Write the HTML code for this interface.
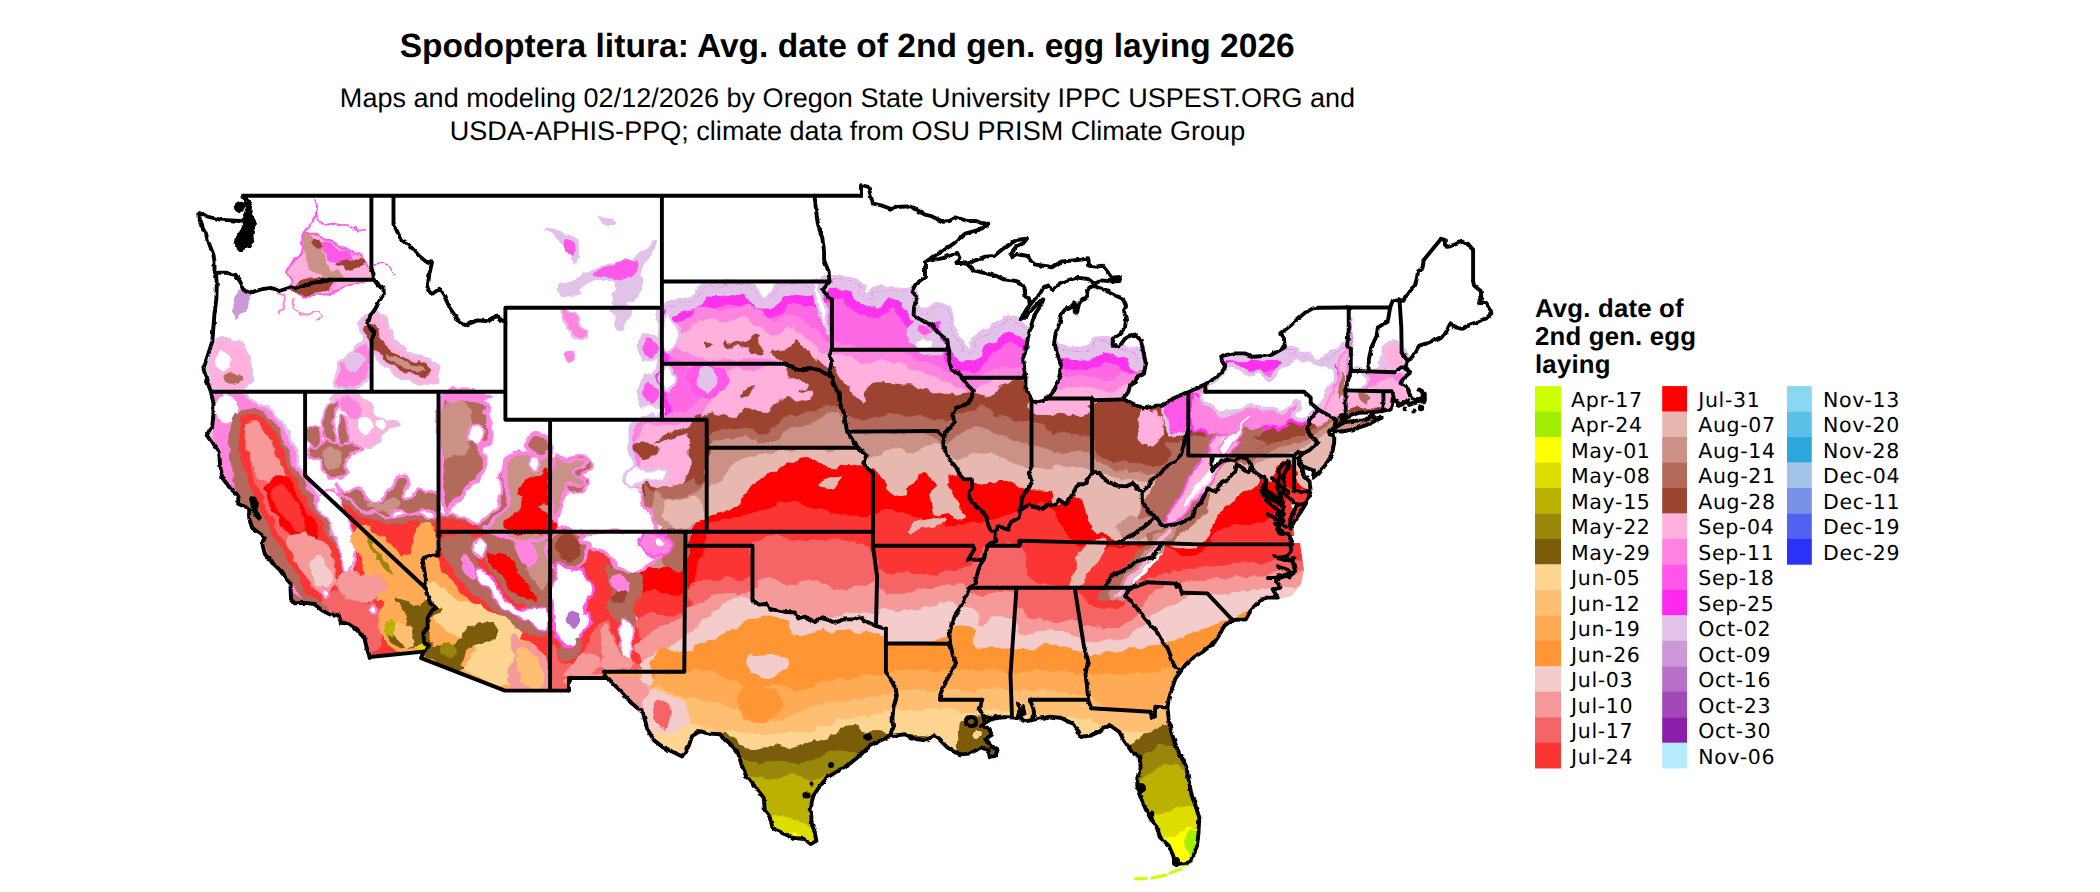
<!DOCTYPE html>
<html lang="en"><head><meta charset="utf-8"><title>Spodoptera litura: Avg. date of 2nd gen. egg laying 2026</title>
<style>
html,body{margin:0;padding:0;background:#fff;}
body{width:2100px;height:892px;overflow:hidden;position:relative;font-family:"Liberation Sans",sans-serif;}
svg{position:absolute;left:0;top:0;display:block;}
text{text-rendering:geometricPrecision;}
.title{letter-spacing:0.04px;font:bold 33.5px "Liberation Sans",sans-serif;fill:#000;text-anchor:middle;}
.sub{letter-spacing:0.03px;font:27px "Liberation Sans",sans-serif;fill:#000;text-anchor:middle;}
.lt{font:bold 25.75px "Liberation Sans",sans-serif;fill:#000;letter-spacing:0.2px;}
.lab{font:20.5px "DejaVu Sans","Liberation Sans",sans-serif;fill:#000;letter-spacing:0.68px;}
</style></head><body>
<svg width="2100" height="892" viewBox="0 0 2100 892">
<rect width="2100" height="892" fill="#fff"/>
<text class="title" x="847.2" y="56.8">Spodoptera litura: Avg. date of 2nd gen. egg laying 2026</text>
<text class="sub" x="847.5" y="107.4">Maps and modeling 02/12/2026 by Oregon State University IPPC USPEST.ORG and</text>
<text class="sub" x="847.5" y="139.6">USDA-APHIS-PPQ; climate data from OSU PRISM Climate Group</text>
<defs><clipPath id="us"><path d="M243.4 195.8 L861.0 195.8 L861.0 185.2 L868.4 186.6 L871.5 199.2 L873.3 203.6 L881.2 205.3 L891.2 209.0 L900.2 206.7 L910.2 206.4 L918.1 211.2 L924.8 214.6 L931.5 216.2 L943.1 221.8 L949.4 221.0 L956.1 217.4 L967.3 221.0 L976.2 221.0 L981.8 223.2 L988.3 223.8 L978.5 230.0 L965.1 233.6 L953.9 243.4 L942.7 251.2 L931.5 257.4 L929.3 259.6 L932.6 260.2 L942.7 258.2 L949.4 255.4 L957.2 252.9 L959.5 258.0 L956.1 263.0 L961.7 263.0 L966.8 263.8 L974.0 260.8 L985.2 256.6 L994.1 256.0 L1000.8 250.4 L1009.8 244.0 L1016.5 240.0 L1026.6 238.6 L1023.2 243.4 L1016.5 246.2 L1012.0 251.8 L1010.9 257.4 L1016.5 254.0 L1027.7 256.0 L1034.4 264.4 L1043.3 265.8 L1052.3 267.2 L1061.2 261.6 L1070.2 260.8 L1081.4 259.6 L1088.1 258.2 L1089.2 265.8 L1097.0 266.6 L1102.6 265.8 L1107.1 271.4 L1111.6 277.8 L1120.5 277.0 L1119.4 281.2 L1110.5 281.2 L1101.5 280.4 L1094.4 283.7 L1088.1 279.0 L1076.9 277.6 L1065.7 281.2 L1057.9 285.4 L1052.3 290.2 L1048.9 285.4 L1043.3 287.6 L1040.0 293.8 L1034.4 299.4 L1029.9 305.0 L1026.6 309.2 L1021.0 319.0 L1023.2 318.4 L1031.0 310.6 L1038.9 302.2 L1043.3 299.4 L1041.1 305.0 L1035.5 313.4 L1031.0 326.0 L1027.7 338.6 L1026.6 347.0 L1023.2 358.2 L1024.3 369.4 L1025.5 378.1 L1025.5 386.2 L1029.5 396.0 L1031.7 400.2 L1036.6 402.4 L1043.3 400.8 L1047.4 398.5 L1052.3 393.2 L1056.8 384.8 L1060.1 373.6 L1060.8 363.8 L1056.8 352.6 L1054.1 342.8 L1055.7 333.0 L1060.1 321.8 L1061.2 314.8 L1064.6 310.0 L1071.3 306.4 L1074.7 302.8 L1074.7 312.0 L1076.9 313.4 L1079.1 303.6 L1082.5 298.8 L1088.1 297.4 L1087.0 290.4 L1090.3 286.8 L1094.1 286.0 L1103.7 289.6 L1112.7 294.4 L1122.8 298.6 L1126.1 306.4 L1123.9 310.6 L1126.1 319.0 L1125.0 327.4 L1119.4 334.4 L1112.7 338.6 L1112.7 345.6 L1119.4 346.4 L1125.0 338.6 L1133.9 333.8 L1140.7 340.0 L1143.6 352.6 L1145.8 363.8 L1144.0 373.6 L1137.3 376.4 L1135.1 382.0 L1130.1 384.8 L1128.4 391.8 L1122.8 399.4 L1130.6 402.4 L1137.3 405.8 L1144.0 408.6 L1155.2 405.8 L1161.9 405.8 L1170.9 399.6 L1179.8 395.4 L1188.3 392.4 L1197.7 387.6 L1205.3 384.2 L1215.6 377.8 L1222.3 371.6 L1225.2 366.6 L1221.9 361.0 L1221.2 356.2 L1233.5 353.4 L1244.7 353.4 L1253.6 356.8 L1262.6 356.0 L1271.5 354.8 L1280.5 349.8 L1284.9 347.0 L1283.8 337.2 L1280.5 333.0 L1289.4 326.6 L1296.1 320.4 L1305.1 312.6 L1312.9 308.4 L1318.1 307.8 L1348.7 307.5 L1390.1 307.5 L1392.3 301.6 L1397.9 300.0 L1403.5 300.8 L1405.3 296.6 L1407.5 295.2 L1411.3 289.0 L1414.7 286.0 L1416.9 278.4 L1418.0 271.4 L1422.5 268.0 L1423.6 260.2 L1440.9 238.9 L1444.9 240.0 L1444.9 244.8 L1448.2 246.8 L1457.2 243.7 L1461.7 241.7 L1468.4 244.2 L1473.1 249.8 L1473.1 281.2 L1474.0 285.4 L1480.7 291.0 L1481.4 297.4 L1480.0 303.0 L1486.3 303.0 L1490.7 310.6 L1491.4 313.4 L1486.3 318.4 L1477.3 321.8 L1468.4 325.2 L1461.7 328.8 L1456.1 327.4 L1450.5 323.2 L1447.1 330.2 L1443.8 335.8 L1434.8 340.0 L1428.1 342.8 L1419.2 345.6 L1415.8 351.2 L1411.3 358.2 L1408.0 361.6 L1405.3 367.4 L1409.8 373.0 L1404.6 377.2 L1400.6 382.6 L1406.9 386.2 L1409.1 393.2 L1412.0 398.0 L1418.0 399.4 L1423.6 397.4 L1422.1 391.0 L1419.2 389.6 L1424.8 394.6 L1424.8 401.0 L1416.9 402.4 L1409.1 405.0 L1407.5 400.2 L1402.4 404.4 L1398.6 405.8 L1396.8 401.6 L1392.8 398.8 L1391.9 405.8 L1390.1 409.4 L1382.0 411.1 L1372.2 412.2 L1358.8 412.8 L1349.8 416.4 L1342.0 419.8 L1338.6 424.6 L1335.3 426.0 L1333.7 428.2 L1329.7 430.4 L1328.6 434.4 L1334.2 435.2 L1334.2 442.2 L1331.9 454.8 L1325.2 465.2 L1318.5 473.0 L1312.9 477.8 L1314.0 470.8 L1305.1 467.4 L1299.5 461.8 L1299.5 457.6 L1302.8 453.4 L1298.4 458.4 L1299.5 464.6 L1302.8 470.2 L1304.0 475.8 L1309.6 481.4 L1310.7 491.2 L1308.4 498.2 L1306.2 503.0 L1300.6 512.2 L1293.9 522.0 L1290.5 528.4 L1289.4 522.0 L1292.8 513.6 L1297.2 505.2 L1292.8 501.0 L1288.3 496.8 L1282.7 492.6 L1284.9 484.2 L1282.7 477.2 L1286.1 470.2 L1289.4 461.8 L1287.2 460.4 L1281.6 466.0 L1278.2 470.2 L1279.4 477.2 L1277.1 484.2 L1279.4 494.0 L1282.3 502.4 L1276.0 498.2 L1268.2 496.0 L1261.5 492.6 L1265.9 487.0 L1266.4 480.0 L1264.8 485.6 L1260.3 491.2 L1263.7 495.4 L1269.3 498.2 L1277.1 502.4 L1284.0 506.9 L1281.6 513.6 L1282.7 516.4 L1277.1 513.6 L1282.7 520.6 L1280.5 524.8 L1274.9 523.4 L1280.5 529.0 L1282.7 531.8 L1277.1 529.0 L1279.4 533.8 L1283.8 533.8 L1289.4 533.8 L1290.5 540.2 L1292.3 544.4 L1290.5 551.4 L1287.2 555.6 L1278.2 558.4 L1287.2 559.8 L1292.8 561.2 L1295.0 571.0 L1289.4 576.6 L1278.2 575.2 L1276.0 582.2 L1280.5 587.8 L1272.6 589.2 L1277.6 597.6 L1264.8 597.6 L1255.9 604.6 L1249.2 613.0 L1245.8 619.4 L1232.4 620.0 L1224.5 625.6 L1219.0 635.4 L1214.5 642.4 L1202.2 652.2 L1191.0 659.2 L1185.4 664.8 L1180.9 671.0 L1175.3 678.8 L1172.0 688.6 L1168.6 699.8 L1167.5 707.6 L1168.6 718.0 L1170.9 730.6 L1175.3 744.6 L1179.8 754.4 L1186.5 767.0 L1187.6 774.0 L1191.0 792.2 L1195.5 806.2 L1199.3 817.4 L1198.4 834.2 L1197.0 845.4 L1193.2 856.6 L1189.9 862.2 L1180.9 863.6 L1175.3 864.2 L1173.1 855.2 L1168.6 845.4 L1159.7 837.0 L1156.3 825.8 L1150.7 818.8 L1146.3 810.4 L1141.8 800.6 L1139.1 793.6 L1144.0 788.0 L1137.3 786.6 L1137.3 778.2 L1140.7 767.0 L1139.5 757.2 L1131.7 751.6 L1123.9 740.4 L1119.4 732.0 L1110.5 725.6 L1102.6 727.8 L1101.5 730.6 L1090.3 735.6 L1080.3 737.0 L1079.1 732.0 L1072.4 723.6 L1061.2 718.0 L1050.1 716.6 L1038.9 718.6 L1031.7 720.0 L1025.5 721.4 L1021.0 719.4 L1023.2 711.0 L1019.9 708.8 L1017.6 718.0 L1012.0 717.4 L1003.1 717.2 L991.9 718.8 L985.2 722.8 L980.7 726.4 L988.5 727.8 L991.9 734.8 L985.2 739.0 L990.8 746.0 L997.5 750.2 L995.3 755.8 L989.7 757.2 L988.5 750.2 L980.7 747.4 L975.1 750.8 L969.5 753.6 L960.6 754.4 L953.9 751.6 L947.2 747.4 L940.4 740.4 L933.7 734.8 L927.0 740.4 L915.8 739.0 L904.7 734.2 L890.1 736.2 L877.8 741.8 L870.0 746.0 L861.0 754.4 L851.0 762.8 L837.5 771.2 L826.4 778.2 L818.5 788.0 L812.9 796.4 L810.7 809.0 L811.8 823.0 L815.2 834.2 L816.3 840.9 L810.7 844.0 L804.0 839.0 L792.8 837.8 L781.6 832.8 L772.7 828.0 L769.3 816.0 L764.8 810.4 L763.7 797.8 L758.1 790.8 L750.3 779.6 L745.8 775.4 L741.4 764.2 L738.0 753.0 L732.4 746.0 L723.5 739.0 L720.1 734.2 L707.8 733.4 L700.0 731.2 L692.1 736.2 L688.8 746.0 L682.1 756.4 L672.0 751.6 L663.1 747.4 L654.1 740.4 L647.4 729.2 L642.9 712.4 L631.7 703.2 L619.4 690.0 L609.4 679.6 L606.5 678.0 L568.9 678.0 L568.9 690.6 L504.9 690.6 L421.2 658.1 L423.3 651.6 L369.6 657.0 L366.7 648.0 L364.4 638.2 L356.6 629.8 L347.6 623.6 L340.9 622.8 L338.7 615.0 L329.7 614.4 L321.9 610.2 L314.1 604.0 L305.1 602.9 L294.6 603.2 L291.0 599.0 L290.6 589.2 L290.6 583.6 L285.7 578.0 L279.4 569.6 L272.7 563.2 L264.9 554.2 L262.0 543.0 L264.9 537.4 L259.3 533.2 L251.9 527.6 L249.2 517.8 L249.2 510.0 L244.7 506.6 L238.0 503.8 L238.5 495.4 L230.2 488.4 L222.4 478.0 L220.1 464.6 L219.0 452.0 L213.4 445.0 L206.7 435.2 L212.3 425.4 L213.4 414.2 L213.4 403.0 L211.0 391.8 L206.7 380.6 L203.4 368.3 L207.8 355.4 L212.3 341.4 L213.4 327.4 L214.5 313.4 L216.3 299.4 L216.8 285.4 L216.1 274.2 L214.5 271.4 L214.5 261.6 L213.4 254.6 L210.1 246.2 L205.6 233.6 L200.0 222.4 L199.3 213.2 L208.9 216.8 L220.1 219.6 L231.3 220.4 L240.3 221.0 L243.6 219.6 L245.9 226.6 L239.1 235.0 L235.8 242.0 L240.3 249.0 L248.1 246.2 L251.5 237.8 L251.5 230.8 L254.8 223.8 L251.5 216.8 L247.0 211.2 L249.2 202.8 L243.4 195.8Z"/><path d="M1333.5 431.0 L1340.9 431.6 L1352.1 429.6 L1365.5 425.4 L1374.4 421.2 L1381.6 417.8 L1374.4 418.4 L1372.2 415.6 L1365.5 420.4 L1356.5 420.6 L1345.3 422.0 L1339.8 424.8 L1335.3 427.6Z"/><path d="M1290.0 456.0 L1301.0 460.0 L1298.0 480.0 L1291.0 500.0 L1293.0 520.0 L1294.0 536.0 L1284.0 536.0 L1279.0 520.0 L1268.0 500.0 L1268.0 480.0 L1279.0 463.0Z"/><path d="M1272.0 543.0 L1300.0 543.0 L1304.0 570.0 L1301.0 584.0 L1292.0 596.0 L1276.0 600.0 L1263.0 580.0 L1270.0 560.0Z"/><path d="M1296.0 436.0 L1312.0 440.0 L1318.0 456.0 L1308.0 462.0 L1300.0 452.0Z"/></clipPath>
<filter id="rag" filterUnits="userSpaceOnUse" x="180" y="170" width="1340" height="722" color-interpolation-filters="sRGB"><feTurbulence type="fractalNoise" baseFrequency="0.07" numOctaves="3" seed="7" result="n"/><feDisplacementMap in="SourceGraphic" in2="n" scale="9" xChannelSelector="R" yChannelSelector="G"/></filter><filter id="wig" filterUnits="userSpaceOnUse" x="180" y="170" width="1340" height="722"><feTurbulence type="fractalNoise" baseFrequency="0.16" numOctaves="2" seed="11" result="n"/><feDisplacementMap in="SourceGraphic" in2="n" scale="3.2" xChannelSelector="R" yChannelSelector="G"/></filter></defs>
<g clip-path="url(#us)"><g filter="url(#rag)"><defs><clipPath id="cl1"><path d="M641.0 620.0 C641.0 601.7 643.3 585.7 641.0 565.0 C638.7 544.3 636.7 581.3 634.0 558.0 C631.3 534.7 632.3 524.3 633.0 495.0 C633.7 465.7 636.0 488.3 636.0 470.0 C636.0 451.7 632.7 455.3 633.0 440.0 C633.3 424.7 631.3 430.7 637.0 424.0 C642.7 417.3 642.0 422.3 650.0 420.0 C658.0 417.7 657.3 425.3 661.0 417.0 C664.7 408.7 662.7 407.3 661.0 395.0 C659.3 382.7 656.0 390.0 656.0 380.0 C656.0 370.0 659.3 376.7 661.0 365.0 C662.7 353.3 660.3 358.3 661.0 345.0 C661.7 331.7 662.3 337.3 663.0 325.0 C663.7 312.7 656.8 315.2 663.0 308.0 C669.2 300.8 671.0 306.6 681.7 303.3 C692.3 300.1 687.8 303.3 695.0 298.3 C702.2 293.3 695.0 292.2 703.3 288.3 C711.7 284.4 710.0 287.8 720.0 286.7 C730.0 285.6 723.3 285.0 733.3 285.0 C743.3 285.0 742.2 283.3 750.0 286.7 C757.8 290.0 751.1 290.6 756.7 295.0 C762.2 299.4 761.1 300.6 766.7 300.0 C772.2 299.4 768.3 297.8 773.3 293.3 C778.3 288.9 772.8 289.4 781.7 286.7 C790.6 283.9 788.3 285.0 800.0 285.0 C811.7 285.0 807.2 288.3 816.7 286.7 C826.1 285.0 815.0 281.1 828.3 280.0 C841.7 278.9 845.6 278.9 856.7 283.3 C867.8 287.8 856.1 288.3 861.7 293.3 C867.2 298.3 868.3 298.9 873.3 298.3 C878.3 297.8 865.6 293.9 876.7 291.7 C887.8 289.4 894.4 290.6 906.7 291.7 C918.9 292.8 911.1 290.6 913.3 295.0 C915.6 299.4 910.0 298.9 913.3 305.0 C916.7 311.1 917.2 311.1 923.3 313.3 C929.4 315.6 924.4 313.3 931.7 311.7 C938.9 310.0 939.4 306.1 945.0 308.3 C950.6 310.6 946.3 311.8 948.3 318.3 C950.3 324.9 947.5 319.8 951.0 328.0 C954.5 336.2 952.9 334.6 958.7 342.8 C964.5 351.0 961.9 354.3 968.5 352.7 C975.1 351.1 970.2 345.4 978.4 338.0 C986.6 330.6 983.1 336.3 993.0 330.5 C1002.9 324.7 999.0 322.4 1008.0 320.6 C1017.0 318.8 1004.3 316.9 1020.0 325.0 C1035.7 333.1 1033.3 336.7 1055.0 345.0 C1076.7 353.3 1071.0 351.3 1085.0 350.0 C1099.0 348.7 1087.0 342.7 1097.0 341.0 C1107.0 339.3 1102.3 341.3 1115.0 345.0 C1127.7 348.7 1126.3 347.0 1135.0 352.0 C1143.7 357.0 1132.7 361.3 1141.0 360.0 C1149.3 358.7 1133.0 350.7 1160.0 348.0 C1187.0 345.3 1181.0 351.0 1222.0 352.0 C1263.0 353.0 1259.7 349.7 1283.0 351.0 C1306.3 352.3 1284.7 354.0 1292.0 356.0 C1299.3 358.0 1295.7 354.7 1305.0 357.0 C1314.3 359.3 1310.0 364.3 1320.0 363.0 C1330.0 361.7 1326.0 357.7 1335.0 353.0 C1344.0 348.3 1341.3 343.0 1347.0 349.0 C1352.7 355.0 1341.0 363.7 1352.0 371.0 C1363.0 378.3 1369.3 374.3 1380.0 371.0 C1390.7 367.7 1381.3 361.0 1384.0 361.0 C1386.7 361.0 1385.7 369.3 1388.0 371.0 C1390.3 372.7 1391.7 371.7 1391.0 366.0 C1390.3 360.3 1386.3 360.7 1386.0 354.0 C1385.7 347.3 1386.0 348.0 1390.0 346.0 C1394.0 344.0 1393.0 344.0 1398.0 348.0 C1403.0 352.0 1401.7 351.3 1405.0 358.0 C1408.3 364.7 1404.7 363.3 1408.0 368.0 C1411.3 372.7 1404.3 368.0 1415.0 372.0 C1425.7 376.0 1431.7 377.3 1440.0 380.0 L1480.0 380.0 L1480.0 900.0 L641.0 900.0 Z"/></clipPath></defs>
<path fill="#ff84e0" stroke="#ff84e0" stroke-width="10" stroke-linejoin="round" d="M338.5 496.2 L356.4 510.5 L374.3 517.7 L392.3 521.3 L410.2 517.7 L428.1 521.3 L445.0 517.7 L464.1 520.5 L480.2 528.5 L490.2 520.5 L500.3 508.5 L506.3 492.4 L504.3 476.3 L510.3 460.3 L524.3 456.3 L534.4 462.3 L548.4 460.3 L566.5 462.3 L582.5 459.3 L586.6 466.3 L574.5 474.3 L584.6 480.4 L580.5 489.4 L564.5 486.4 L560.5 500.4 L554.4 512.5 L552.4 533.0 L586.6 535.0 L684.9 533.0 L684.9 673.5 L602.6 673.5 L568.5 677.5 L568.5 691.6 L506.3 691.6 L430.0 661.5 L422.4 656.3 L370.4 656.3 L341.7 634.8 L314.8 609.7 L287.9 600.7 L270.0 564.8 L262.8 546.9Z"/>
<path fill="#fb3434" stroke="#b46a5b" stroke-width="5" stroke-linejoin="round" d="M338.5 496.2 L356.4 510.5 L374.3 517.7 L392.3 521.3 L410.2 517.7 L428.1 521.3 L445.0 517.7 L464.1 520.5 L480.2 528.5 L490.2 520.5 L500.3 508.5 L506.3 492.4 L504.3 476.3 L510.3 460.3 L524.3 456.3 L534.4 462.3 L548.4 460.3 L566.5 462.3 L582.5 459.3 L586.6 466.3 L574.5 474.3 L584.6 480.4 L580.5 489.4 L564.5 486.4 L560.5 500.4 L554.4 512.5 L552.4 533.0 L586.6 535.0 L684.9 533.0 L684.9 673.5 L602.6 673.5 L568.5 677.5 L568.5 691.6 L506.3 691.6 L430.0 661.5 L422.4 656.3 L370.4 656.3 L341.7 634.8 L314.8 609.7 L287.9 600.7 L270.0 564.8 L262.8 546.9Z"/>
<path fill="#ffaa55" d="M560.0 672.0 L720.0 672.0 L720.0 800.0 L560.0 800.0Z"/>
<path fill="none" stroke="#e2c2e8" stroke-width="9" stroke-linejoin="round" d="M641.0 620.0 C641.0 601.7 643.3 585.7 641.0 565.0 C638.7 544.3 636.7 581.3 634.0 558.0 C631.3 534.7 632.3 524.3 633.0 495.0 C633.7 465.7 636.0 488.3 636.0 470.0 C636.0 451.7 632.7 455.3 633.0 440.0 C633.3 424.7 631.3 430.7 637.0 424.0 C642.7 417.3 642.0 422.3 650.0 420.0 C658.0 417.7 657.3 425.3 661.0 417.0 C664.7 408.7 662.7 407.3 661.0 395.0 C659.3 382.7 656.0 390.0 656.0 380.0 C656.0 370.0 659.3 376.7 661.0 365.0 C662.7 353.3 660.3 358.3 661.0 345.0 C661.7 331.7 662.3 337.3 663.0 325.0 C663.7 312.7 656.8 315.2 663.0 308.0 C669.2 300.8 671.0 306.6 681.7 303.3 C692.3 300.1 687.8 303.3 695.0 298.3 C702.2 293.3 695.0 292.2 703.3 288.3 C711.7 284.4 710.0 287.8 720.0 286.7 C730.0 285.6 723.3 285.0 733.3 285.0 C743.3 285.0 742.2 283.3 750.0 286.7 C757.8 290.0 751.1 290.6 756.7 295.0 C762.2 299.4 761.1 300.6 766.7 300.0 C772.2 299.4 768.3 297.8 773.3 293.3 C778.3 288.9 772.8 289.4 781.7 286.7 C790.6 283.9 788.3 285.0 800.0 285.0 C811.7 285.0 807.2 288.3 816.7 286.7 C826.1 285.0 815.0 281.1 828.3 280.0 C841.7 278.9 845.6 278.9 856.7 283.3 C867.8 287.8 856.1 288.3 861.7 293.3 C867.2 298.3 868.3 298.9 873.3 298.3 C878.3 297.8 865.6 293.9 876.7 291.7 C887.8 289.4 894.4 290.6 906.7 291.7 C918.9 292.8 911.1 290.6 913.3 295.0 C915.6 299.4 910.0 298.9 913.3 305.0 C916.7 311.1 917.2 311.1 923.3 313.3 C929.4 315.6 924.4 313.3 931.7 311.7 C938.9 310.0 939.4 306.1 945.0 308.3 C950.6 310.6 946.3 311.8 948.3 318.3 C950.3 324.9 947.5 319.8 951.0 328.0 C954.5 336.2 952.9 334.6 958.7 342.8 C964.5 351.0 961.9 354.3 968.5 352.7 C975.1 351.1 970.2 345.4 978.4 338.0 C986.6 330.6 983.1 336.3 993.0 330.5 C1002.9 324.7 999.0 322.4 1008.0 320.6 C1017.0 318.8 1004.3 316.9 1020.0 325.0 C1035.7 333.1 1033.3 336.7 1055.0 345.0 C1076.7 353.3 1071.0 351.3 1085.0 350.0 C1099.0 348.7 1087.0 342.7 1097.0 341.0 C1107.0 339.3 1102.3 341.3 1115.0 345.0 C1127.7 348.7 1126.3 347.0 1135.0 352.0 C1143.7 357.0 1132.7 361.3 1141.0 360.0 C1149.3 358.7 1133.0 350.7 1160.0 348.0 C1187.0 345.3 1181.0 351.0 1222.0 352.0 C1263.0 353.0 1259.7 349.7 1283.0 351.0 C1306.3 352.3 1284.7 354.0 1292.0 356.0 C1299.3 358.0 1295.7 354.7 1305.0 357.0 C1314.3 359.3 1310.0 364.3 1320.0 363.0 C1330.0 361.7 1326.0 357.7 1335.0 353.0 C1344.0 348.3 1341.3 343.0 1347.0 349.0 C1352.7 355.0 1341.0 363.7 1352.0 371.0 C1363.0 378.3 1369.3 374.3 1380.0 371.0 C1390.7 367.7 1381.3 361.0 1384.0 361.0 C1386.7 361.0 1385.7 369.3 1388.0 371.0 C1390.3 372.7 1391.7 371.7 1391.0 366.0 C1390.3 360.3 1386.3 360.7 1386.0 354.0 C1385.7 347.3 1386.0 348.0 1390.0 346.0 C1394.0 344.0 1393.0 344.0 1398.0 348.0 C1403.0 352.0 1401.7 351.3 1405.0 358.0 C1408.3 364.7 1404.7 363.3 1408.0 368.0 C1411.3 372.7 1404.3 368.0 1415.0 372.0 C1425.7 376.0 1431.7 377.3 1440.0 380.0"/>
<path fill="#ff68e5" d="M641.0 620.0 C641.0 601.7 643.3 585.7 641.0 565.0 C638.7 544.3 636.7 581.3 634.0 558.0 C631.3 534.7 632.3 524.3 633.0 495.0 C633.7 465.7 636.0 488.3 636.0 470.0 C636.0 451.7 632.7 455.3 633.0 440.0 C633.3 424.7 631.3 430.7 637.0 424.0 C642.7 417.3 642.0 422.3 650.0 420.0 C658.0 417.7 657.3 425.3 661.0 417.0 C664.7 408.7 662.7 407.3 661.0 395.0 C659.3 382.7 656.0 390.0 656.0 380.0 C656.0 370.0 659.3 376.7 661.0 365.0 C662.7 353.3 660.3 358.3 661.0 345.0 C661.7 331.7 662.3 337.3 663.0 325.0 C663.7 312.7 656.8 315.2 663.0 308.0 C669.2 300.8 671.0 306.6 681.7 303.3 C692.3 300.1 687.8 303.3 695.0 298.3 C702.2 293.3 695.0 292.2 703.3 288.3 C711.7 284.4 710.0 287.8 720.0 286.7 C730.0 285.6 723.3 285.0 733.3 285.0 C743.3 285.0 742.2 283.3 750.0 286.7 C757.8 290.0 751.1 290.6 756.7 295.0 C762.2 299.4 761.1 300.6 766.7 300.0 C772.2 299.4 768.3 297.8 773.3 293.3 C778.3 288.9 772.8 289.4 781.7 286.7 C790.6 283.9 788.3 285.0 800.0 285.0 C811.7 285.0 807.2 288.3 816.7 286.7 C826.1 285.0 815.0 281.1 828.3 280.0 C841.7 278.9 845.6 278.9 856.7 283.3 C867.8 287.8 856.1 288.3 861.7 293.3 C867.2 298.3 868.3 298.9 873.3 298.3 C878.3 297.8 865.6 293.9 876.7 291.7 C887.8 289.4 894.4 290.6 906.7 291.7 C918.9 292.8 911.1 290.6 913.3 295.0 C915.6 299.4 910.0 298.9 913.3 305.0 C916.7 311.1 917.2 311.1 923.3 313.3 C929.4 315.6 924.4 313.3 931.7 311.7 C938.9 310.0 939.4 306.1 945.0 308.3 C950.6 310.6 946.3 311.8 948.3 318.3 C950.3 324.9 947.5 319.8 951.0 328.0 C954.5 336.2 952.9 334.6 958.7 342.8 C964.5 351.0 961.9 354.3 968.5 352.7 C975.1 351.1 970.2 345.4 978.4 338.0 C986.6 330.6 983.1 336.3 993.0 330.5 C1002.9 324.7 999.0 322.4 1008.0 320.6 C1017.0 318.8 1004.3 316.9 1020.0 325.0 C1035.7 333.1 1033.3 336.7 1055.0 345.0 C1076.7 353.3 1071.0 351.3 1085.0 350.0 C1099.0 348.7 1087.0 342.7 1097.0 341.0 C1107.0 339.3 1102.3 341.3 1115.0 345.0 C1127.7 348.7 1126.3 347.0 1135.0 352.0 C1143.7 357.0 1132.7 361.3 1141.0 360.0 C1149.3 358.7 1133.0 350.7 1160.0 348.0 C1187.0 345.3 1181.0 351.0 1222.0 352.0 C1263.0 353.0 1259.7 349.7 1283.0 351.0 C1306.3 352.3 1284.7 354.0 1292.0 356.0 C1299.3 358.0 1295.7 354.7 1305.0 357.0 C1314.3 359.3 1310.0 364.3 1320.0 363.0 C1330.0 361.7 1326.0 357.7 1335.0 353.0 C1344.0 348.3 1341.3 343.0 1347.0 349.0 C1352.7 355.0 1341.0 363.7 1352.0 371.0 C1363.0 378.3 1369.3 374.3 1380.0 371.0 C1390.7 367.7 1381.3 361.0 1384.0 361.0 C1386.7 361.0 1385.7 369.3 1388.0 371.0 C1390.3 372.7 1391.7 371.7 1391.0 366.0 C1390.3 360.3 1386.3 360.7 1386.0 354.0 C1385.7 347.3 1386.0 348.0 1390.0 346.0 C1394.0 344.0 1393.0 344.0 1398.0 348.0 C1403.0 352.0 1401.7 351.3 1405.0 358.0 C1408.3 364.7 1404.7 363.3 1408.0 368.0 C1411.3 372.7 1404.3 368.0 1415.0 372.0 C1425.7 376.0 1431.7 377.3 1440.0 380.0 L1480.0 380.0 L1480.0 900.0 L641.0 900.0 Z"/>
<path fill="none" stroke="#ff30ee" stroke-width="14" stroke-linejoin="round" clip-path="url(#cl1)" d="M641.0 620.0 C641.0 601.7 643.3 585.7 641.0 565.0 C638.7 544.3 636.7 581.3 634.0 558.0 C631.3 534.7 632.3 524.3 633.0 495.0 C633.7 465.7 636.0 488.3 636.0 470.0 C636.0 451.7 632.7 455.3 633.0 440.0 C633.3 424.7 631.3 430.7 637.0 424.0 C642.7 417.3 642.0 422.3 650.0 420.0 C658.0 417.7 657.3 425.3 661.0 417.0 C664.7 408.7 662.7 407.3 661.0 395.0 C659.3 382.7 656.0 390.0 656.0 380.0 C656.0 370.0 659.3 376.7 661.0 365.0 C662.7 353.3 660.3 358.3 661.0 345.0 C661.7 331.7 662.3 337.3 663.0 325.0 C663.7 312.7 663.0 313.7 663.0 308.0"/>
<path fill="none" stroke="#ff30ee" stroke-width="38" stroke-linejoin="round" clip-path="url(#cl1)" d="M663.0 308.0 C669.2 306.4 671.0 306.6 681.7 303.3 C692.3 300.1 687.8 303.3 695.0 298.3 C702.2 293.3 695.0 292.2 703.3 288.3 C711.7 284.4 710.0 287.8 720.0 286.7 C730.0 285.6 723.3 285.0 733.3 285.0 C743.3 285.0 742.2 283.3 750.0 286.7 C757.8 290.0 751.1 290.6 756.7 295.0 C762.2 299.4 761.1 300.6 766.7 300.0 C772.2 299.4 768.3 297.8 773.3 293.3 C778.3 288.9 772.8 289.4 781.7 286.7 C790.6 283.9 788.3 285.0 800.0 285.0 C811.7 285.0 807.2 288.3 816.7 286.7 C826.1 285.0 815.0 281.1 828.3 280.0 C841.7 278.9 845.6 278.9 856.7 283.3 C867.8 287.8 856.1 288.3 861.7 293.3 C867.2 298.3 868.3 298.9 873.3 298.3 C878.3 297.8 865.6 293.9 876.7 291.7 C887.8 289.4 894.4 290.6 906.7 291.7 C918.9 292.8 911.1 290.6 913.3 295.0 C915.6 299.4 910.0 298.9 913.3 305.0 C916.7 311.1 917.2 311.1 923.3 313.3 C929.4 315.6 924.4 313.3 931.7 311.7 C938.9 310.0 939.4 306.1 945.0 308.3 C950.6 310.6 946.3 311.8 948.3 318.3 C950.3 324.9 947.5 319.8 951.0 328.0 C954.5 336.2 952.9 334.6 958.7 342.8 C964.5 351.0 961.9 354.3 968.5 352.7 C975.1 351.1 970.2 345.4 978.4 338.0 C986.6 330.6 983.1 336.3 993.0 330.5 C1002.9 324.7 999.0 322.4 1008.0 320.6 C1017.0 318.8 1004.3 316.9 1020.0 325.0 C1035.7 333.1 1033.3 336.7 1055.0 345.0 C1076.7 353.3 1071.0 351.3 1085.0 350.0 C1099.0 348.7 1087.0 342.7 1097.0 341.0 C1107.0 339.3 1102.3 341.3 1115.0 345.0 C1127.7 348.7 1126.3 347.0 1135.0 352.0 C1143.7 357.0 1132.7 361.3 1141.0 360.0 C1149.3 358.7 1133.0 350.7 1160.0 348.0 C1187.0 345.3 1181.0 351.0 1222.0 352.0 C1263.0 353.0 1259.7 349.7 1283.0 351.0 C1306.3 352.3 1284.7 354.0 1292.0 356.0 C1299.3 358.0 1295.7 354.7 1305.0 357.0 C1314.3 359.3 1310.0 364.3 1320.0 363.0 C1330.0 361.7 1326.0 357.7 1335.0 353.0 C1344.0 348.3 1341.3 343.0 1347.0 349.0 C1352.7 355.0 1341.0 363.7 1352.0 371.0 C1363.0 378.3 1369.3 374.3 1380.0 371.0 C1390.7 367.7 1381.3 361.0 1384.0 361.0 C1386.7 361.0 1385.7 369.3 1388.0 371.0 C1390.3 372.7 1391.7 371.7 1391.0 366.0 C1390.3 360.3 1386.3 360.7 1386.0 354.0 C1385.7 347.3 1386.0 348.0 1390.0 346.0 C1394.0 344.0 1393.0 344.0 1398.0 348.0 C1403.0 352.0 1401.7 351.3 1405.0 358.0 C1408.3 364.7 1404.7 363.3 1408.0 368.0 C1411.3 372.7 1404.3 368.0 1415.0 372.0 C1425.7 376.0 1431.7 377.3 1440.0 380.0"/>
<path fill="none" stroke="#e2c2e8" stroke-width="20" stroke-linejoin="round" clip-path="url(#cl1)" d="M663.0 308.0 C669.2 306.4 671.0 306.6 681.7 303.3 C692.3 300.1 687.8 303.3 695.0 298.3 C702.2 293.3 695.0 292.2 703.3 288.3 C711.7 284.4 710.0 287.8 720.0 286.7 C730.0 285.6 723.3 285.0 733.3 285.0 C743.3 285.0 742.2 283.3 750.0 286.7 C757.8 290.0 751.1 290.6 756.7 295.0 C762.2 299.4 761.1 300.6 766.7 300.0 C772.2 299.4 768.3 297.8 773.3 293.3 C778.3 288.9 772.8 289.4 781.7 286.7 C790.6 283.9 788.3 285.0 800.0 285.0 C811.7 285.0 807.2 288.3 816.7 286.7 C826.1 285.0 815.0 281.1 828.3 280.0 C841.7 278.9 845.6 278.9 856.7 283.3 C867.8 287.8 856.1 288.3 861.7 293.3 C867.2 298.3 868.3 298.9 873.3 298.3 C878.3 297.8 865.6 293.9 876.7 291.7 C887.8 289.4 894.4 290.6 906.7 291.7 C918.9 292.8 911.1 290.6 913.3 295.0 C915.6 299.4 910.0 298.9 913.3 305.0 C916.7 311.1 917.2 311.1 923.3 313.3 C929.4 315.6 924.4 313.3 931.7 311.7 C938.9 310.0 939.4 306.1 945.0 308.3 C950.6 310.6 946.3 311.8 948.3 318.3 C950.3 324.9 947.5 319.8 951.0 328.0 C954.5 336.2 952.9 334.6 958.7 342.8 C964.5 351.0 961.9 354.3 968.5 352.7 C975.1 351.1 970.2 345.4 978.4 338.0 C986.6 330.6 983.1 336.3 993.0 330.5 C1002.9 324.7 999.0 322.4 1008.0 320.6 C1017.0 318.8 1004.3 316.9 1020.0 325.0 C1035.7 333.1 1033.3 336.7 1055.0 345.0 C1076.7 353.3 1071.0 351.3 1085.0 350.0 C1099.0 348.7 1087.0 342.7 1097.0 341.0 C1107.0 339.3 1102.3 341.3 1115.0 345.0 C1127.7 348.7 1126.3 347.0 1135.0 352.0 C1143.7 357.0 1132.7 361.3 1141.0 360.0 C1149.3 358.7 1133.0 350.7 1160.0 348.0 C1187.0 345.3 1181.0 351.0 1222.0 352.0 C1263.0 353.0 1259.7 349.7 1283.0 351.0 C1306.3 352.3 1284.7 354.0 1292.0 356.0 C1299.3 358.0 1295.7 354.7 1305.0 357.0 C1314.3 359.3 1310.0 364.3 1320.0 363.0 C1330.0 361.7 1326.0 357.7 1335.0 353.0 C1344.0 348.3 1341.3 343.0 1347.0 349.0 C1352.7 355.0 1341.0 363.7 1352.0 371.0 C1363.0 378.3 1369.3 374.3 1380.0 371.0 C1390.7 367.7 1381.3 361.0 1384.0 361.0 C1386.7 361.0 1385.7 369.3 1388.0 371.0 C1390.3 372.7 1391.7 371.7 1391.0 366.0 C1390.3 360.3 1386.3 360.7 1386.0 354.0 C1385.7 347.3 1386.0 348.0 1390.0 346.0 C1394.0 344.0 1393.0 344.0 1398.0 348.0 C1403.0 352.0 1401.7 351.3 1405.0 358.0 C1408.3 364.7 1404.7 363.3 1408.0 368.0 C1411.3 372.7 1404.3 368.0 1415.0 372.0 C1425.7 376.0 1431.7 377.3 1440.0 380.0"/>
<path fill="none" stroke="#ff84e0" stroke-width="22" stroke-linejoin="round" clip-path="url(#cl1)" d="M641.0 620.0 C641.0 593.3 642.0 569.7 641.0 540.0 C640.0 510.3 639.3 546.0 638.0 531.0 C636.7 516.0 636.3 515.3 637.0 495.0 C637.7 474.7 639.7 486.7 640.0 470.0 C640.3 453.3 637.3 459.0 638.0 445.0 C638.7 431.0 634.7 435.0 642.0 428.0 C649.3 421.0 644.0 426.0 660.0 424.0 C676.0 422.0 674.4 427.2 690.0 422.0 C705.6 416.8 699.4 416.8 706.7 408.3 C713.9 399.9 707.8 406.7 711.7 396.7 C715.6 386.7 711.1 387.2 718.3 378.3 C725.6 369.4 720.6 372.8 733.3 370.0 C746.1 367.2 743.3 372.2 756.7 370.0 C770.0 367.8 770.0 366.7 773.3 363.3 C776.7 360.0 777.8 361.1 766.7 360.0 C755.6 358.9 760.0 360.6 740.0 360.0 C720.0 359.4 726.1 361.7 706.7 358.3 C687.2 355.0 691.1 356.1 681.7 350.0 C672.2 343.9 673.9 348.3 678.3 340.0 C682.8 331.7 685.6 332.2 695.0 325.0 C704.4 317.8 696.1 320.0 706.7 318.3 C717.2 316.7 713.3 320.6 726.7 320.0 C740.0 319.4 736.7 315.0 746.7 316.7 C756.7 318.3 747.8 319.4 756.7 325.0 C765.6 330.6 762.2 332.8 773.3 333.3 C784.4 333.9 781.1 327.2 790.0 326.7 C798.9 326.1 792.2 326.1 800.0 331.7 C807.8 337.2 805.6 336.1 813.3 343.3 C821.1 350.6 817.2 350.0 823.3 353.3 C829.4 356.7 823.3 352.2 831.7 353.3 C840.0 354.4 837.2 353.3 848.3 356.7 C859.4 360.0 853.9 362.2 865.0 363.3 C876.1 364.4 870.6 360.0 881.7 360.0 C892.8 360.0 887.2 360.0 898.3 363.3 C909.4 366.7 903.9 365.6 915.0 370.0 C926.1 374.4 920.6 372.2 931.7 376.7 C942.8 381.1 937.2 378.9 948.3 383.3 C959.4 387.8 956.7 386.7 965.0 390.0 C973.3 393.3 965.0 396.0 973.3 393.3 C981.7 390.7 973.8 386.4 990.0 382.0 C1006.2 377.6 1003.7 375.0 1022.0 380.0 C1040.3 385.0 1032.3 394.0 1045.0 397.0 C1057.7 400.0 1045.0 392.0 1060.0 389.0 C1075.0 386.0 1073.3 387.3 1090.0 388.0 C1106.7 388.7 1098.3 392.3 1110.0 391.0 C1121.7 389.7 1115.0 387.0 1125.0 384.0 C1135.0 381.0 1128.3 383.3 1140.0 382.0 C1151.7 380.7 1146.7 379.3 1160.0 380.0 C1173.3 380.7 1166.7 379.3 1180.0 384.0 C1193.3 388.7 1188.3 384.7 1200.0 394.0 C1211.7 403.3 1203.3 401.7 1215.0 412.0 C1226.7 422.3 1218.3 423.0 1235.0 425.0 C1251.7 427.0 1246.7 424.7 1265.0 418.0 C1283.3 411.3 1271.7 413.7 1290.0 405.0 C1308.3 396.3 1301.7 398.7 1320.0 392.0 C1338.3 385.3 1330.0 386.3 1345.0 385.0 C1360.0 383.7 1351.7 389.7 1365.0 388.0 C1378.3 386.3 1373.3 381.3 1385.0 380.0 C1396.7 378.7 1388.3 380.7 1400.0 384.0 C1411.7 387.3 1413.3 388.0 1420.0 390.0"/>
<path fill="#ffb0dc" clip-path="url(#cl1)" d="M641.0 620.0 C641.0 593.3 642.0 569.7 641.0 540.0 C640.0 510.3 639.3 546.0 638.0 531.0 C636.7 516.0 636.3 515.3 637.0 495.0 C637.7 474.7 639.7 486.7 640.0 470.0 C640.3 453.3 637.3 459.0 638.0 445.0 C638.7 431.0 634.7 435.0 642.0 428.0 C649.3 421.0 644.0 426.0 660.0 424.0 C676.0 422.0 674.4 427.2 690.0 422.0 C705.6 416.8 699.4 416.8 706.7 408.3 C713.9 399.9 707.8 406.7 711.7 396.7 C715.6 386.7 711.1 387.2 718.3 378.3 C725.6 369.4 720.6 372.8 733.3 370.0 C746.1 367.2 743.3 372.2 756.7 370.0 C770.0 367.8 770.0 366.7 773.3 363.3 C776.7 360.0 777.8 361.1 766.7 360.0 C755.6 358.9 760.0 360.6 740.0 360.0 C720.0 359.4 726.1 361.7 706.7 358.3 C687.2 355.0 691.1 356.1 681.7 350.0 C672.2 343.9 673.9 348.3 678.3 340.0 C682.8 331.7 685.6 332.2 695.0 325.0 C704.4 317.8 696.1 320.0 706.7 318.3 C717.2 316.7 713.3 320.6 726.7 320.0 C740.0 319.4 736.7 315.0 746.7 316.7 C756.7 318.3 747.8 319.4 756.7 325.0 C765.6 330.6 762.2 332.8 773.3 333.3 C784.4 333.9 781.1 327.2 790.0 326.7 C798.9 326.1 792.2 326.1 800.0 331.7 C807.8 337.2 805.6 336.1 813.3 343.3 C821.1 350.6 817.2 350.0 823.3 353.3 C829.4 356.7 823.3 352.2 831.7 353.3 C840.0 354.4 837.2 353.3 848.3 356.7 C859.4 360.0 853.9 362.2 865.0 363.3 C876.1 364.4 870.6 360.0 881.7 360.0 C892.8 360.0 887.2 360.0 898.3 363.3 C909.4 366.7 903.9 365.6 915.0 370.0 C926.1 374.4 920.6 372.2 931.7 376.7 C942.8 381.1 937.2 378.9 948.3 383.3 C959.4 387.8 956.7 386.7 965.0 390.0 C973.3 393.3 965.0 396.0 973.3 393.3 C981.7 390.7 973.8 386.4 990.0 382.0 C1006.2 377.6 1003.7 375.0 1022.0 380.0 C1040.3 385.0 1032.3 394.0 1045.0 397.0 C1057.7 400.0 1045.0 392.0 1060.0 389.0 C1075.0 386.0 1073.3 387.3 1090.0 388.0 C1106.7 388.7 1098.3 392.3 1110.0 391.0 C1121.7 389.7 1115.0 387.0 1125.0 384.0 C1135.0 381.0 1128.3 383.3 1140.0 382.0 C1151.7 380.7 1146.7 379.3 1160.0 380.0 C1173.3 380.7 1166.7 379.3 1180.0 384.0 C1193.3 388.7 1188.3 384.7 1200.0 394.0 C1211.7 403.3 1203.3 401.7 1215.0 412.0 C1226.7 422.3 1218.3 423.0 1235.0 425.0 C1251.7 427.0 1246.7 424.7 1265.0 418.0 C1283.3 411.3 1271.7 413.7 1290.0 405.0 C1308.3 396.3 1301.7 398.7 1320.0 392.0 C1338.3 385.3 1330.0 386.3 1345.0 385.0 C1360.0 383.7 1351.7 389.7 1365.0 388.0 C1378.3 386.3 1373.3 381.3 1385.0 380.0 C1396.7 378.7 1388.3 380.7 1400.0 384.0 C1411.7 387.3 1413.3 388.0 1420.0 390.0 L1460.0 390.0 L1460.0 900.0 L641.0 900.0 Z"/>
<path fill="#9c4430" d="M641.0 620.0 C641.0 577.3 634.7 536.0 641.0 492.0 C647.3 448.0 645.3 492.0 660.0 488.0 C674.7 484.0 675.0 496.0 685.0 480.0 C695.0 464.0 685.0 458.3 690.0 440.0 C695.0 421.7 694.4 433.3 700.0 425.0 C705.6 416.7 699.4 418.3 706.7 415.0 C713.9 411.7 712.8 413.9 721.7 415.0 C730.6 416.1 725.6 420.6 733.3 418.3 C741.1 416.1 737.2 411.1 745.0 408.3 C752.8 405.6 749.4 408.3 756.7 410.0 C763.9 411.7 760.6 415.6 766.7 413.3 C772.8 411.1 768.3 408.3 775.0 403.3 C781.7 398.3 778.3 398.9 786.7 398.3 C795.0 397.8 791.1 403.3 800.0 401.7 C808.9 400.0 813.3 397.2 813.3 393.3 C813.3 389.4 802.2 392.2 800.0 390.0 C797.8 387.8 806.7 390.0 806.7 386.7 C806.7 383.3 805.6 383.3 800.0 380.0 C794.4 376.7 794.4 380.0 790.0 376.7 C785.6 373.3 788.9 373.9 786.7 370.0 C784.4 366.1 787.8 370.0 783.3 365.0 C778.9 360.0 776.7 360.0 773.3 355.0 C770.0 350.0 767.8 352.2 773.3 350.0 C778.9 347.8 782.8 351.7 790.0 348.3 C797.2 345.0 791.7 341.7 795.0 340.0 C798.3 338.3 796.1 339.4 800.0 343.3 C803.9 347.2 802.2 346.7 806.7 351.7 C811.1 356.7 808.9 356.7 813.3 358.3 C817.8 360.0 816.7 355.0 820.0 356.7 C823.3 358.3 820.6 358.9 823.3 363.3 C826.1 367.8 823.9 367.8 828.3 370.0 C832.8 372.2 832.8 367.2 836.7 370.0 C840.6 372.8 836.1 372.8 840.0 378.3 C843.9 383.9 842.8 380.6 848.3 386.7 C853.9 392.8 851.1 391.1 856.7 396.7 C862.2 402.2 861.1 406.7 865.0 403.3 C868.9 400.0 862.8 393.3 868.3 386.7 C873.9 380.0 868.9 383.9 881.7 383.3 C894.4 382.8 892.8 383.3 906.7 385.0 C920.6 386.7 912.2 385.6 923.3 388.3 C934.4 391.1 928.9 391.7 940.0 393.3 C951.1 395.0 947.8 393.9 956.7 393.3 C965.6 392.8 961.1 391.7 966.7 391.7 C972.2 391.7 965.8 391.7 973.3 393.3 C980.8 395.0 980.3 399.3 989.2 396.7 C998.1 394.1 987.2 389.2 1000.0 385.5 C1012.8 381.8 1016.7 376.5 1027.5 385.5 C1038.3 394.5 1023.3 403.1 1032.5 412.5 C1041.7 421.9 1039.2 412.9 1055.0 413.8 C1070.8 414.6 1067.9 415.4 1080.0 415.0 C1092.1 414.6 1086.2 416.7 1091.2 412.5 C1096.2 408.3 1082.1 406.2 1095.0 402.5 C1107.9 398.8 1111.7 401.7 1130.0 401.2 C1148.3 400.8 1140.0 400.1 1150.0 401.2 C1160.0 402.4 1153.9 394.9 1160.1 404.6 C1166.3 414.3 1162.0 420.9 1168.7 430.4 C1175.4 440.0 1173.5 433.3 1180.2 433.3 C1186.9 433.3 1185.5 431.9 1188.8 430.4 C1192.1 429.0 1186.3 429.0 1190.0 429.0 C1193.7 429.0 1193.7 428.1 1200.0 430.4 C1206.3 432.7 1204.0 431.2 1208.9 436.0 C1213.8 440.8 1210.9 439.0 1214.6 444.8 C1218.3 450.6 1214.3 450.5 1220.0 453.4 C1225.7 456.3 1225.1 456.3 1231.8 453.4 C1238.5 450.5 1234.3 450.6 1240.0 444.8 C1245.7 439.0 1243.1 440.8 1249.0 436.0 C1254.9 431.2 1250.9 433.7 1257.6 430.4 C1264.3 427.1 1261.3 427.5 1269.0 426.0 C1276.7 424.5 1272.9 427.4 1280.6 426.0 C1288.3 424.6 1284.3 422.8 1292.0 421.8 C1299.7 420.8 1297.9 424.9 1303.6 423.0 C1309.3 421.1 1304.7 420.3 1309.0 416.0 C1313.3 411.7 1311.2 411.0 1316.5 410.0 C1321.8 409.0 1319.8 411.0 1325.0 413.0 C1330.2 415.0 1326.7 416.0 1332.0 416.0 C1337.3 416.0 1336.1 415.0 1341.0 413.0 C1345.9 411.0 1338.6 411.7 1346.6 410.0 C1354.6 408.3 1347.2 407.3 1365.0 408.0 C1382.8 408.7 1388.3 410.7 1400.0 412.0 L1440.0 412.0 L1440.0 900.0 L641.0 900.0 Z"/>
<path fill="#b46a5b" d="M641.0 620.0 C641.7 580.0 638.3 543.3 643.0 500.0 C647.7 456.7 642.7 495.3 655.0 490.0 C667.3 484.7 666.7 490.0 680.0 484.0 C693.3 478.0 688.3 486.0 695.0 472.0 C701.7 458.0 695.6 454.3 700.0 442.0 C704.4 429.7 702.8 438.4 708.3 435.0 C713.9 431.6 708.3 433.9 716.7 431.7 C725.0 429.4 722.2 428.9 733.3 428.3 C744.4 427.8 740.0 427.8 750.0 430.0 C760.0 432.2 755.0 437.2 763.3 435.0 C771.7 432.8 767.2 429.4 775.0 423.3 C782.8 417.2 778.3 419.4 786.7 416.7 C795.0 413.9 790.0 417.8 800.0 415.0 C810.0 412.2 806.7 412.2 816.7 408.3 C826.7 404.4 822.8 404.4 830.0 403.3 C837.2 402.2 832.8 401.1 838.3 405.0 C843.9 408.9 839.4 410.0 846.7 415.0 C853.9 420.0 850.0 419.2 860.0 420.0 C870.0 420.8 865.6 419.2 876.7 417.5 C887.8 415.8 882.2 415.6 893.3 415.0 C904.4 414.4 896.7 414.7 910.0 415.8 C923.3 416.9 920.0 415.8 933.3 418.3 C946.7 420.8 942.8 424.4 950.0 423.3 C957.2 422.2 949.4 418.9 955.0 415.0 C960.6 411.1 957.2 414.4 966.7 411.7 C976.1 408.9 972.2 405.6 983.3 406.7 C994.4 407.8 988.9 410.6 1000.0 415.0 C1011.1 419.4 1006.1 417.2 1016.7 420.0 C1027.2 422.8 1020.8 420.6 1031.7 423.3 C1042.5 426.1 1041.4 424.9 1049.2 428.3 C1056.9 431.8 1044.7 431.5 1055.0 433.8 C1065.3 436.0 1067.9 432.9 1080.0 435.0 C1092.1 437.1 1082.9 431.7 1091.2 440.0 C1099.6 448.3 1092.1 452.1 1105.0 460.0 C1117.9 467.9 1113.3 462.1 1130.0 463.8 C1146.7 465.4 1138.3 465.4 1155.0 465.0 C1171.7 464.6 1167.7 463.8 1180.0 462.5 C1192.3 461.2 1183.7 461.4 1192.0 461.2 C1200.3 461.1 1194.0 462.4 1205.0 462.0 C1216.0 461.6 1211.7 463.3 1225.0 460.0 C1238.3 456.7 1232.7 456.3 1245.0 452.0 C1257.3 447.7 1250.3 451.0 1262.0 447.0 C1273.7 443.0 1267.3 443.7 1280.0 440.0 C1292.7 436.3 1288.3 440.0 1300.0 436.0 C1311.7 432.0 1306.7 433.3 1315.0 428.0 C1323.3 422.7 1315.0 424.3 1325.0 420.0 C1335.0 415.7 1320.0 415.7 1345.0 415.0 C1370.0 414.3 1381.7 417.0 1400.0 418.0 L1440.0 418.0 L1440.0 900.0 L641.0 900.0 Z"/>
<path fill="#cb9186" d="M641.0 620.0 C644.0 583.3 640.3 550.3 650.0 510.0 C659.7 469.7 655.0 505.0 670.0 499.0 C685.0 493.0 683.7 501.0 695.0 492.0 C706.3 483.0 699.6 487.7 704.0 472.0 C708.4 456.3 701.3 455.7 708.3 445.0 C715.3 434.3 713.9 442.2 725.0 440.0 C736.1 437.8 730.6 437.8 741.7 438.3 C752.8 438.9 747.2 441.1 758.3 441.7 C769.4 442.2 765.6 443.3 775.0 440.0 C784.4 436.7 778.3 436.1 786.7 431.7 C795.0 427.2 790.0 430.0 800.0 426.7 C810.0 423.3 806.7 426.7 816.7 421.7 C826.7 416.7 821.7 413.3 830.0 411.7 C838.3 410.0 836.1 411.7 841.7 416.7 C847.2 421.7 840.6 421.7 846.7 426.7 C852.8 431.7 850.0 429.7 860.0 431.7 C870.0 433.6 865.6 431.9 876.7 432.5 C887.8 433.1 882.2 433.3 893.3 433.3 C904.4 433.3 896.7 431.4 910.0 432.5 C923.3 433.6 922.8 433.1 933.3 436.7 C943.9 440.3 935.0 443.3 941.7 443.3 C948.3 443.3 945.0 441.1 953.3 436.7 C961.7 432.2 956.7 432.8 966.7 430.0 C976.7 427.2 972.2 426.1 983.3 428.3 C994.4 430.6 988.9 432.2 1000.0 436.7 C1011.1 441.1 1006.1 438.9 1016.7 441.7 C1027.2 444.4 1020.8 442.8 1031.7 445.0 C1042.5 447.2 1041.4 446.2 1049.2 448.3 C1056.9 450.4 1044.7 449.9 1055.0 451.2 C1065.3 452.6 1067.9 450.8 1080.0 452.5 C1092.1 454.2 1082.9 451.2 1091.2 456.2 C1099.6 461.2 1092.1 462.5 1105.0 467.5 C1117.9 472.5 1113.3 469.2 1130.0 471.2 C1146.7 473.3 1138.3 472.1 1155.0 473.8 C1171.7 475.4 1167.7 474.6 1180.0 476.2 C1192.3 477.9 1183.7 478.2 1192.0 478.8 C1200.3 479.3 1192.3 480.2 1205.0 478.0 C1217.7 475.8 1215.0 478.0 1230.0 472.0 C1245.0 466.0 1236.7 466.7 1250.0 460.0 C1263.3 453.3 1256.7 457.0 1270.0 452.0 C1283.3 447.0 1277.3 449.0 1290.0 445.0 C1302.7 441.0 1298.0 445.0 1308.0 440.0 C1318.0 435.0 1312.0 436.0 1320.0 430.0 C1328.0 424.0 1328.0 424.7 1332.0 422.0 L1372.0 422.0 L1372.0 900.0 L641.0 900.0 Z"/>
<path fill="#e6b8af" d="M700.0 560.0 C702.0 546.7 703.2 543.3 706.0 520.0 C708.8 496.7 704.8 502.2 708.3 490.0 C711.9 477.8 711.1 487.8 716.7 483.3 C722.2 478.9 719.4 483.3 725.0 476.7 C730.6 470.0 725.0 470.0 733.3 463.3 C741.7 456.7 737.8 460.0 750.0 456.7 C762.2 453.3 756.1 455.6 770.0 453.3 C783.9 451.1 776.1 451.7 791.7 450.0 C807.2 448.3 802.8 447.8 816.7 448.3 C830.6 448.9 822.2 452.2 833.3 451.7 C844.4 451.1 841.1 446.1 850.0 446.7 C858.9 447.2 851.1 450.0 860.0 453.3 C868.9 456.7 865.6 458.9 876.7 456.7 C887.8 454.4 882.2 447.8 893.3 446.7 C904.4 445.6 899.4 452.8 910.0 453.3 C920.6 453.9 916.1 451.1 925.0 448.3 C933.9 445.6 930.0 443.3 936.7 445.0 C943.3 446.7 938.9 448.3 945.0 453.3 C951.1 458.3 947.8 458.9 955.0 460.0 C962.2 461.1 957.2 459.4 966.7 456.7 C976.1 453.9 972.2 451.7 983.3 451.7 C994.4 451.7 988.9 452.8 1000.0 456.7 C1011.1 460.6 1006.1 460.0 1016.7 463.3 C1027.2 466.7 1020.8 465.0 1031.7 466.7 C1042.5 468.3 1041.4 468.9 1049.2 468.3 C1056.9 467.8 1044.7 465.7 1055.0 465.0 C1065.3 464.3 1067.9 464.6 1080.0 466.2 C1092.1 467.9 1082.9 467.1 1091.2 470.0 C1099.6 472.9 1092.1 472.1 1105.0 475.0 C1117.9 477.9 1113.3 476.2 1130.0 478.8 C1146.7 481.2 1140.0 480.1 1155.0 482.5 C1170.0 484.9 1161.7 482.8 1175.0 486.0 C1188.3 489.2 1178.3 496.7 1195.0 492.0 C1211.7 487.3 1208.3 480.7 1225.0 472.0 C1241.7 463.3 1232.7 470.0 1245.0 466.0 C1257.3 462.0 1250.3 463.7 1262.0 460.0 C1273.7 456.3 1267.3 459.0 1280.0 455.0 C1292.7 451.0 1288.3 453.0 1300.0 448.0 C1311.7 443.0 1306.3 445.3 1315.0 440.0 C1323.7 434.7 1322.3 434.7 1326.0 432.0 L1366.0 432.0 L1366.0 900.0 L700.0 900.0 Z"/>
<path fill="#e6b8af" d="M665.0 506.0 C670.0 496.7 677.7 498.0 690.0 498.0 C702.3 498.0 698.7 498.0 702.0 506.0 C705.3 514.0 709.0 515.3 700.0 522.0 C691.0 528.7 686.7 531.3 675.0 526.0 C663.3 520.7 660.0 515.3 665.0 506.0Z"/>
<path fill="#ff0000" d="M641.0 600.0 C641.0 590.0 634.0 581.0 641.0 570.0 C648.0 559.0 647.7 568.3 662.0 567.0 C676.3 565.7 675.3 573.3 684.0 566.0 C692.7 558.7 683.3 558.7 688.0 545.0 C692.7 531.3 691.2 534.4 698.0 525.0 C704.8 515.6 700.4 520.6 708.3 516.7 C716.2 512.8 713.3 516.7 721.7 513.3 C730.0 510.0 726.1 512.2 733.3 506.7 C740.6 501.1 737.8 502.8 743.3 496.7 C748.9 490.6 745.0 493.9 750.0 488.3 C755.0 482.8 752.8 484.4 758.3 480.0 C763.9 475.6 759.4 479.4 766.7 475.0 C773.9 470.6 771.1 471.1 780.0 466.7 C788.9 462.2 783.9 464.4 793.3 461.7 C802.8 458.9 799.4 457.8 808.3 458.3 C817.2 458.9 811.7 460.0 820.0 463.3 C828.3 466.7 825.6 468.3 833.3 468.3 C841.1 468.3 835.6 464.4 843.3 463.3 C851.1 462.2 848.3 463.9 856.7 465.0 C865.0 466.1 861.7 464.4 868.3 466.7 C875.0 468.9 871.7 467.2 876.7 471.7 C881.7 476.1 877.8 473.9 883.3 480.0 C888.9 486.1 886.1 485.6 893.3 490.0 C900.6 494.4 898.9 495.6 905.0 493.3 C911.1 491.1 906.1 490.0 911.7 483.3 C917.2 476.7 914.4 474.4 921.7 473.3 C928.9 472.2 925.6 476.1 933.3 480.0 C941.1 483.9 937.8 486.7 945.0 485.0 C952.2 483.3 947.8 477.2 955.0 475.0 C962.2 472.8 958.3 475.6 966.7 478.3 C975.0 481.1 971.1 481.7 980.0 483.3 C988.9 485.0 985.0 484.4 993.3 483.3 C1001.7 482.2 997.2 479.4 1005.0 480.0 C1012.8 480.6 1009.4 482.2 1016.7 485.0 C1023.9 487.8 1021.1 486.7 1026.7 488.3 C1032.2 490.0 1025.8 488.3 1033.3 490.0 C1040.8 491.7 1041.9 488.3 1049.2 493.3 C1056.4 498.3 1048.9 502.8 1055.0 505.0 C1061.1 507.2 1059.2 501.7 1067.5 500.0 C1075.8 498.3 1074.2 496.7 1080.0 500.0 C1085.8 503.3 1080.0 500.0 1085.0 510.0 C1090.0 520.0 1088.3 521.7 1095.0 530.0 C1101.7 538.3 1097.5 531.2 1105.0 535.0 C1112.5 538.8 1105.0 538.3 1117.5 541.2 C1130.0 544.2 1125.8 542.5 1142.5 543.8 C1159.2 545.0 1153.3 543.6 1167.5 545.0 C1181.7 546.4 1172.3 549.5 1185.0 548.0 C1197.7 546.5 1196.3 548.9 1205.5 540.4 C1214.7 531.9 1206.7 532.1 1212.7 522.5 C1218.7 512.9 1216.4 519.5 1223.5 511.7 C1230.6 503.9 1226.8 507.4 1234.0 499.0 C1241.2 490.6 1236.7 492.6 1245.0 486.6 C1253.3 480.6 1250.7 482.2 1259.0 481.0 C1267.3 479.8 1264.5 486.0 1270.0 483.0 C1275.5 480.0 1273.2 477.3 1275.5 472.0 C1277.8 466.7 1273.8 470.3 1277.0 467.0 C1280.2 463.7 1278.7 461.0 1285.0 462.0 C1291.3 463.0 1291.0 462.3 1296.0 470.0 C1301.0 477.7 1294.7 478.3 1300.0 485.0 C1305.3 491.7 1303.7 489.0 1312.0 490.0 C1320.3 491.0 1320.7 488.7 1325.0 488.0 L1365.0 488.0 L1365.0 900.0 L641.0 900.0 Z"/>
<path fill="#fb3434" d="M641.0 625.0 C641.0 614.3 626.3 604.7 641.0 593.0 C655.7 581.3 665.3 601.0 685.0 590.0 C704.7 579.0 693.0 580.0 700.0 560.0 C707.0 540.0 703.2 541.7 706.0 530.0 C708.8 518.3 699.2 528.9 708.3 525.0 C717.4 521.1 713.9 523.9 733.3 518.3 C752.8 512.8 748.9 513.9 766.7 508.3 C784.4 502.8 773.3 502.8 786.7 501.7 C800.0 500.6 793.3 501.7 806.7 505.0 C820.0 508.3 812.2 508.3 826.7 511.7 C841.1 515.0 835.6 513.9 850.0 515.0 C864.4 516.1 858.9 517.2 870.0 515.0 C881.1 512.8 873.3 509.4 883.3 508.3 C893.3 507.2 888.9 508.3 900.0 511.7 C911.1 515.0 900.0 513.9 916.7 518.3 C933.3 522.8 927.8 523.9 950.0 525.0 C972.2 526.1 966.7 523.9 983.3 521.7 C1000.0 519.4 988.9 521.7 1000.0 518.3 C1011.1 515.0 1005.6 515.0 1016.7 511.7 C1027.8 508.3 1022.5 510.0 1033.3 508.3 C1044.2 506.7 1033.6 494.9 1049.2 506.7 C1064.7 518.5 1053.1 530.6 1080.0 543.8 C1106.9 556.9 1100.8 545.2 1130.0 546.2 C1159.2 547.3 1149.2 543.8 1167.5 547.0 C1185.8 550.2 1172.3 555.8 1185.0 556.0 C1197.7 556.2 1195.2 555.3 1205.5 547.6 C1215.8 539.9 1206.5 540.2 1216.0 533.0 C1225.5 525.8 1222.0 529.0 1234.0 526.0 C1246.0 523.0 1240.0 527.0 1252.0 524.0 C1264.0 521.0 1260.3 522.3 1270.0 517.0 C1279.7 511.7 1275.0 515.7 1281.0 508.0 C1287.0 500.3 1284.5 501.1 1288.0 494.0 C1291.5 486.9 1280.9 484.6 1291.6 486.6 C1302.3 488.6 1310.5 495.5 1320.0 500.0 L1360.0 500.0 L1360.0 900.0 L641.0 900.0 Z"/>
<path fill="#f56565" d="M641.0 640.0 C641.0 632.3 626.3 626.3 641.0 617.0 C655.7 607.7 668.7 621.7 685.0 612.0 C701.3 602.3 678.3 599.0 690.0 588.0 C701.7 577.0 700.0 583.0 720.0 579.0 C740.0 575.0 738.3 588.2 750.0 576.0 C761.7 563.8 736.7 554.5 755.0 542.5 C773.3 530.5 771.7 540.0 805.0 540.0 C838.3 540.0 831.7 537.5 855.0 542.5 C878.3 547.5 866.7 546.1 875.0 555.0 C883.3 563.9 870.9 563.4 880.0 569.3 C889.1 575.2 887.5 571.2 902.4 572.7 C917.4 574.2 909.9 574.2 924.8 573.8 C939.8 573.4 932.3 574.2 947.3 571.6 C962.2 569.0 958.5 571.9 969.7 566.0 C980.9 560.0 974.9 560.6 980.9 553.6 C986.9 546.7 976.4 548.0 987.6 545.1 C998.8 542.3 1002.6 542.3 1014.5 545.1 C1026.5 548.0 1019.8 545.6 1023.5 553.6 C1027.2 561.7 1021.3 560.4 1025.7 569.3 C1030.2 578.3 1027.2 575.2 1037.0 580.5 C1046.7 585.9 1042.9 583.2 1054.9 585.5 C1066.8 587.7 1063.9 583.7 1072.8 587.3 C1081.8 590.9 1074.3 590.3 1081.8 596.2 C1089.3 602.2 1084.8 600.7 1095.2 605.2 C1105.7 609.7 1103.5 611.9 1113.2 609.7 C1122.9 607.4 1119.9 605.9 1124.4 598.5 C1128.9 591.0 1118.4 594.0 1126.6 587.3 C1134.9 580.5 1134.1 583.5 1149.1 578.3 C1164.0 573.1 1156.5 574.9 1171.5 571.6 C1186.4 568.2 1179.0 570.1 1193.9 568.2 C1208.8 566.3 1201.4 567.5 1216.3 566.0 C1231.3 564.5 1223.8 564.8 1238.7 563.7 C1253.7 562.6 1244.0 563.7 1261.2 562.6 C1278.4 561.5 1280.6 561.1 1290.3 560.4 L1330.3 560.4 L1330.3 900.0 L641.0 900.0 Z"/>
<path fill="#f59999" d="M641.0 660.0 C641.0 653.3 628.0 654.0 641.0 640.0 C654.0 626.0 664.9 628.0 680.0 618.0 C695.1 608.0 677.9 616.0 686.2 610.0 C694.6 604.0 692.9 605.4 705.0 600.0 C717.1 594.6 707.5 596.7 722.5 593.8 C737.5 590.8 735.8 596.7 750.0 591.2 C764.2 585.8 751.7 579.6 765.0 577.5 C778.3 575.4 773.3 584.2 790.0 585.0 C806.7 585.8 798.3 578.3 815.0 580.0 C831.7 581.7 825.0 588.3 840.0 590.0 C855.0 591.7 847.5 587.5 860.0 585.0 C872.5 582.5 870.8 581.0 877.5 582.5 C884.2 584.0 871.7 586.4 880.0 589.5 C888.3 592.6 887.5 591.7 902.4 591.7 C917.4 591.7 909.9 591.7 924.8 589.5 C939.8 587.3 933.8 585.8 947.3 585.0 C960.7 584.3 956.2 584.3 965.2 587.3 C974.2 590.3 965.2 591.7 974.2 594.0 C983.1 596.2 978.7 594.7 992.1 594.0 C1005.6 593.2 1005.6 586.5 1014.5 591.7 C1023.5 597.0 1011.5 600.7 1019.0 609.7 C1026.5 618.7 1023.5 614.9 1037.0 618.7 C1050.4 622.4 1046.7 620.9 1059.4 620.9 C1072.1 620.9 1066.1 617.2 1075.1 618.7 C1084.0 620.1 1076.6 622.4 1086.3 625.4 C1096.0 628.4 1092.3 627.6 1104.2 627.6 C1116.2 627.6 1110.9 629.9 1122.2 625.4 C1133.4 620.9 1128.9 623.9 1137.8 614.2 C1146.8 604.5 1140.8 605.2 1149.1 596.2 C1157.3 587.3 1152.0 591.7 1162.5 587.3 C1173.0 582.8 1167.0 585.0 1180.4 582.8 C1193.9 580.5 1187.9 582.0 1202.9 580.5 C1217.8 579.0 1210.3 579.8 1225.3 578.3 C1240.2 576.8 1232.8 577.5 1247.7 576.1 C1262.7 574.6 1254.4 575.3 1270.1 573.8 C1285.8 572.3 1286.6 572.3 1294.8 571.6 L1334.8 571.6 L1334.8 900.0 L641.0 900.0 Z"/>
<path fill="#f5cccc" d="M641.0 680.0 C642.3 673.3 633.7 671.7 645.0 660.0 C656.3 648.3 661.2 653.3 675.0 645.0 C688.8 636.7 677.1 642.5 686.2 635.0 C695.4 627.5 691.2 631.7 702.5 622.5 C713.8 613.3 709.2 615.4 720.0 607.5 C730.8 599.6 725.0 602.1 735.0 598.8 C745.0 595.4 738.3 594.6 750.0 597.5 C761.7 600.4 756.7 602.5 770.0 607.5 C783.3 612.5 775.0 609.2 790.0 612.5 C805.0 615.8 798.3 616.7 815.0 617.5 C831.7 618.3 825.0 616.7 840.0 615.0 C855.0 613.3 847.5 612.9 860.0 612.5 C872.5 612.1 870.8 614.7 877.5 613.8 C884.2 612.8 871.7 610.3 880.0 609.7 C888.3 609.1 887.5 612.7 902.4 611.9 C917.4 611.2 909.9 611.2 924.8 607.4 C939.8 603.7 936.1 601.5 947.3 600.7 C958.5 600.0 949.5 602.2 958.5 605.2 C967.4 608.2 966.7 603.0 974.2 609.7 C981.6 616.4 973.4 623.1 980.9 625.4 C988.4 627.6 985.4 617.2 996.6 616.4 C1007.8 615.7 1005.6 617.2 1014.5 623.1 C1023.5 629.1 1014.5 632.1 1023.5 634.3 C1032.5 636.6 1029.5 630.6 1041.4 629.9 C1053.4 629.1 1048.2 630.6 1059.4 632.1 C1070.6 633.6 1066.1 631.4 1075.1 634.3 C1084.0 637.3 1076.6 638.8 1086.3 641.1 C1096.0 643.3 1092.3 642.6 1104.2 641.1 C1116.2 639.6 1110.2 641.1 1122.2 636.6 C1134.1 632.1 1129.6 635.1 1140.1 627.6 C1150.6 620.1 1143.1 621.6 1153.5 614.2 C1164.0 606.7 1158.0 611.2 1171.5 605.2 C1184.9 599.2 1179.0 600.0 1193.9 596.2 C1208.8 592.5 1201.4 595.5 1216.3 594.0 C1231.3 592.5 1223.8 593.2 1238.7 591.7 C1253.7 590.3 1247.7 591.0 1261.2 589.5 C1274.6 588.0 1267.9 588.0 1279.1 587.3 C1290.3 586.5 1289.6 587.3 1294.8 587.3 L1334.8 587.3 L1334.8 900.0 L641.0 900.0 Z"/>
<path fill="#ff9533" d="M655.0 700.0 C655.0 685.0 645.0 670.8 655.0 655.0 C665.0 639.2 670.8 655.8 685.0 652.5 C699.2 649.2 687.5 650.0 697.5 645.0 C707.5 640.0 705.8 641.7 715.0 637.5 C724.2 633.3 716.7 636.7 725.0 632.5 C733.3 628.3 730.0 629.2 740.0 625.0 C750.0 620.8 741.7 622.5 755.0 620.0 C768.3 617.5 768.3 615.0 780.0 617.5 C791.7 620.0 783.3 621.7 790.0 627.5 C796.7 633.3 791.7 633.3 800.0 635.0 C808.3 636.7 801.7 634.2 815.0 632.5 C828.3 630.8 823.3 630.0 840.0 630.0 C856.7 630.0 850.0 630.8 865.0 632.5 C880.0 634.2 877.5 631.7 885.0 635.0 C892.5 638.3 877.5 640.0 887.5 642.5 C897.5 645.0 899.2 643.3 915.0 642.5 C930.8 641.7 923.3 642.5 935.0 640.0 C946.7 637.5 944.2 639.2 950.0 635.0 C955.8 630.8 945.0 630.0 952.5 627.5 C960.0 625.0 965.0 621.7 972.5 627.5 C980.0 633.3 967.5 638.3 975.0 645.0 C982.5 651.7 981.7 646.7 995.0 647.5 C1008.3 648.3 1003.3 646.7 1015.0 647.5 C1026.7 648.3 1020.0 650.8 1030.0 650.0 C1040.0 649.2 1033.3 645.8 1045.0 645.0 C1056.7 644.2 1053.3 645.0 1065.0 647.5 C1076.7 650.0 1071.7 650.0 1080.0 652.5 C1088.3 655.0 1078.3 655.0 1090.0 655.0 C1101.7 655.0 1098.3 655.0 1115.0 652.5 C1131.7 650.0 1123.3 650.8 1140.0 647.5 C1156.7 644.2 1151.7 645.7 1165.0 642.5 C1178.3 639.3 1168.3 642.2 1180.0 638.0 C1191.7 633.8 1185.0 636.0 1200.0 630.0 C1215.0 624.0 1210.0 626.0 1225.0 620.0 C1240.0 614.0 1232.7 616.7 1245.0 612.0 C1257.3 607.3 1247.0 610.0 1262.0 606.0 C1277.0 602.0 1280.7 602.0 1290.0 600.0 L1330.0 600.0 L1330.0 900.0 L655.0 900.0 Z"/>
<path fill="#ffaa55" d="M650.0 710.0 C651.7 698.3 645.8 686.7 655.0 675.0 C664.2 663.3 661.7 676.7 677.5 675.0 C693.3 673.3 685.8 669.2 702.5 670.0 C719.2 670.8 710.8 671.7 727.5 677.5 C744.2 683.3 735.8 685.0 752.5 687.5 C769.2 690.0 760.8 684.2 777.5 685.0 C794.2 685.8 785.8 691.7 802.5 690.0 C819.2 688.3 810.8 684.2 827.5 680.0 C844.2 675.8 833.3 679.2 852.5 677.5 C871.7 675.8 868.3 677.5 885.0 675.0 C901.7 672.5 888.3 671.7 902.5 670.0 C916.7 668.3 911.7 670.0 927.5 670.0 C943.3 670.0 935.0 670.0 950.0 670.0 C965.0 670.0 957.5 670.0 972.5 670.0 C987.5 670.0 980.8 669.2 995.0 670.0 C1009.2 670.8 1000.0 672.5 1015.0 672.5 C1030.0 672.5 1023.3 670.0 1040.0 670.0 C1056.7 670.0 1050.0 670.8 1065.0 672.5 C1080.0 674.2 1068.3 674.2 1085.0 675.0 C1101.7 675.8 1096.7 675.8 1115.0 675.0 C1133.3 674.2 1123.3 674.2 1140.0 672.5 C1156.7 670.8 1150.0 673.5 1165.0 670.0 C1180.0 666.5 1171.7 668.7 1185.0 662.0 C1198.3 655.3 1191.7 657.3 1205.0 650.0 C1218.3 642.7 1213.3 647.3 1225.0 640.0 C1236.7 632.7 1235.0 632.0 1240.0 628.0 L1280.0 628.0 L1280.0 900.0 L650.0 900.0 Z"/>
<path fill="#ffbf73" d="M645.0 720.0 C648.3 709.2 644.2 695.8 655.0 687.5 C665.8 679.2 661.7 690.8 677.5 695.0 C693.3 699.2 685.8 696.7 702.5 700.0 C719.2 703.3 710.8 701.7 727.5 705.0 C744.2 708.3 735.8 705.0 752.5 710.0 C769.2 715.0 760.8 720.0 777.5 720.0 C794.2 720.0 785.8 715.8 802.5 710.0 C819.2 704.2 810.8 705.8 827.5 702.5 C844.2 699.2 833.3 702.5 852.5 700.0 C871.7 697.5 868.3 698.3 885.0 695.0 C901.7 691.7 888.3 691.7 902.5 690.0 C916.7 688.3 911.7 690.0 927.5 690.0 C943.3 690.0 935.0 690.0 950.0 690.0 C965.0 690.0 957.5 690.8 972.5 690.0 C987.5 689.2 980.8 687.5 995.0 687.5 C1009.2 687.5 1000.0 689.2 1015.0 690.0 C1030.0 690.8 1023.3 689.2 1040.0 690.0 C1056.7 690.8 1050.0 690.8 1065.0 692.5 C1080.0 694.2 1072.5 690.8 1085.0 695.0 C1097.5 699.2 1088.3 700.0 1102.5 705.0 C1116.7 710.0 1106.7 710.0 1127.5 710.0 C1148.3 710.0 1145.8 711.7 1165.0 705.0 C1184.2 698.3 1173.3 698.3 1185.0 690.0 C1196.7 681.7 1190.0 688.3 1200.0 680.0 C1210.0 671.7 1210.0 670.0 1215.0 665.0 L1255.0 665.0 L1255.0 900.0 L645.0 900.0 Z"/>
<path fill="#ffd591" d="M655.0 730.0 C658.3 726.7 653.3 721.7 665.0 720.0 C676.7 718.3 673.3 721.7 690.0 725.0 C706.7 728.3 698.3 727.5 715.0 730.0 C731.7 732.5 723.3 730.8 740.0 732.5 C756.7 734.2 748.3 735.0 765.0 735.0 C781.7 735.0 773.3 734.2 790.0 732.5 C806.7 730.8 798.3 734.2 815.0 730.0 C831.7 725.8 825.8 724.2 840.0 720.0 C854.2 715.8 842.5 720.0 857.5 717.5 C872.5 715.0 870.0 715.0 885.0 712.5 C900.0 710.0 888.3 710.8 902.5 710.0 C916.7 709.2 911.7 710.0 927.5 710.0 C943.3 710.0 935.0 709.2 950.0 710.0 C965.0 710.8 959.2 712.5 972.5 712.5 C985.8 712.5 975.8 710.0 990.0 710.0 C1004.2 710.0 998.3 710.8 1015.0 712.5 C1031.7 714.2 1023.3 713.3 1040.0 715.0 C1056.7 716.7 1050.0 715.8 1065.0 717.5 C1080.0 719.2 1072.5 717.5 1085.0 720.0 C1097.5 722.5 1088.3 720.8 1102.5 725.0 C1116.7 729.2 1106.7 730.8 1127.5 732.5 C1148.3 734.2 1152.5 730.8 1165.0 730.0 L1205.0 730.0 L1205.0 900.0 L655.0 900.0 Z"/>
<path fill="#ff9533" d="M740.0 690.0 C746.7 682.5 746.7 685.8 760.0 687.5 C773.3 689.2 775.0 685.8 780.0 695.0 C785.0 704.2 783.3 706.7 775.0 715.0 C766.7 723.3 766.7 721.7 755.0 720.0 C743.3 718.3 745.0 720.0 740.0 710.0 C735.0 700.0 733.3 697.5 740.0 690.0Z"/>
<path fill="#f5cccc" d="M745.0 662.5 C746.7 655.8 751.7 656.7 765.0 655.0 C778.3 653.3 780.0 651.7 785.0 657.5 C790.0 663.3 788.3 666.7 780.0 672.5 C771.7 678.3 771.7 678.3 760.0 675.0 C748.3 671.7 743.3 669.2 745.0 662.5Z"/>
<path fill="#f59999" d="M575.0 675.0 C588.3 670.8 593.3 673.3 615.0 675.0 C636.7 676.7 628.3 671.7 640.0 680.0 C651.7 688.3 648.3 686.7 650.0 700.0 C651.7 713.3 651.7 716.7 645.0 720.0 C638.3 723.3 641.7 720.0 630.0 710.0 C618.3 700.0 628.3 697.5 610.0 690.0 C591.7 682.5 586.7 692.5 575.0 687.5 C563.3 682.5 561.7 679.2 575.0 675.0Z"/>
<path fill="#f5cccc" d="M647.5 695.0 C655.8 688.3 656.7 690.0 670.0 695.0 C683.3 700.0 684.2 698.3 687.5 710.0 C690.8 721.7 690.8 723.3 680.0 730.0 C669.2 736.7 666.7 735.0 655.0 730.0 C643.3 725.0 647.5 726.7 645.0 715.0 C642.5 703.3 639.2 701.7 647.5 695.0Z"/>
<path fill="#f56565" d="M653.8 703.8 C657.1 697.1 662.5 698.8 667.5 705.0 C672.5 711.2 672.1 715.8 668.8 722.5 C665.4 729.2 662.5 731.2 657.5 725.0 C652.5 718.8 650.4 710.4 653.8 703.8Z"/>
<path fill="#7a5c0a" d="M722.5 730.0 C728.3 735.0 730.0 738.3 740.0 745.0 C750.0 751.7 742.5 750.0 752.5 750.0 C762.5 750.0 757.5 745.8 770.0 745.0 C782.5 744.2 776.7 749.2 790.0 747.5 C803.3 745.8 800.0 741.7 810.0 740.0 C820.0 738.3 811.7 745.0 820.0 742.5 C828.3 740.0 824.2 738.3 835.0 732.5 C845.8 726.7 842.5 725.8 852.5 725.0 C862.5 724.2 853.3 726.7 865.0 730.0 C876.7 733.3 880.0 733.3 887.5 735.0 L927.5 735.0 L927.5 900.0 L722.5 900.0 Z"/>
<path fill="#7a5c0a" d="M960.0 730.0 C961.7 717.5 960.0 721.7 970.0 717.5 C980.0 713.3 980.0 713.3 990.0 717.5 C1000.0 721.7 996.7 717.5 1000.0 730.0 C1003.3 742.5 1011.7 746.7 1000.0 755.0 C988.3 763.3 978.3 763.3 965.0 755.0 C951.7 746.7 958.3 742.5 960.0 730.0Z"/>
<path fill="#ffd591" d="M973.8 732.5 C975.8 730.4 977.9 730.4 980.0 732.5 C982.1 734.6 982.1 736.7 980.0 738.8 C977.9 740.8 975.8 740.8 973.8 738.8 C971.7 736.7 971.7 734.6 973.8 732.5Z"/>
<path fill="#7a5c0a" d="M1125.0 755.0 C1126.7 751.7 1124.2 750.8 1130.0 745.0 C1135.8 739.2 1134.2 742.5 1142.5 737.5 C1150.8 732.5 1147.5 734.2 1155.0 730.0 C1162.5 725.8 1158.3 725.0 1165.0 725.0 C1171.7 725.0 1171.7 728.3 1175.0 730.0 L1215.0 730.0 L1215.0 900.0 L1125.0 900.0 Z"/>
<path fill="#9a8608" d="M730.0 750.0 C738.3 754.2 738.3 759.2 755.0 762.5 C771.7 765.8 763.3 760.0 780.0 760.0 C796.7 760.0 788.3 765.0 805.0 762.5 C821.7 760.0 816.7 756.7 830.0 752.5 C843.3 748.3 835.0 749.2 845.0 750.0 C855.0 750.8 855.0 753.3 860.0 755.0 L900.0 755.0 L900.0 900.0 L730.0 900.0 Z"/>
<path fill="#9a8608" d="M1135.0 765.0 C1140.0 760.0 1140.0 756.7 1150.0 750.0 C1160.0 743.3 1155.8 745.0 1165.0 745.0 C1174.2 745.0 1173.3 748.3 1177.5 750.0 L1217.5 750.0 L1217.5 900.0 L1135.0 900.0 Z"/>
<path fill="#bcb000" d="M742.5 770.0 C750.8 772.5 750.8 775.8 767.5 777.5 C784.2 779.2 777.5 774.2 792.5 775.0 C807.5 775.8 800.0 780.0 812.5 780.0 C825.0 780.0 824.2 776.7 830.0 775.0 L870.0 775.0 L870.0 900.0 L742.5 900.0 Z"/>
<path fill="#bcb000" d="M1140.0 780.0 C1145.0 776.7 1145.0 775.0 1155.0 770.0 C1165.0 765.0 1160.0 764.2 1170.0 765.0 C1180.0 765.8 1180.0 770.0 1185.0 772.5 L1225.0 772.5 L1225.0 900.0 L1140.0 900.0 Z"/>
<path fill="#dddd00" d="M745.0 812.0 C755.0 813.0 756.7 811.7 775.0 815.0 C793.3 818.3 786.7 815.3 800.0 822.0 C813.3 828.7 810.0 830.7 815.0 835.0 L855.0 835.0 L855.0 900.0 L745.0 900.0 Z"/>
<path fill="#dddd00" d="M1148.0 815.0 C1153.7 814.0 1152.7 815.3 1165.0 812.0 C1177.3 808.7 1173.3 805.7 1185.0 805.0 C1196.7 804.3 1195.0 808.3 1200.0 810.0 L1240.0 810.0 L1240.0 900.0 L1148.0 900.0 Z"/>
<path fill="#ffff00" d="M775.0 838.0 C781.7 836.0 783.3 829.7 795.0 832.0 C806.7 834.3 805.0 840.7 810.0 845.0 L850.0 845.0 L850.0 900.0 L775.0 900.0 Z"/>
<path fill="#ffff00" d="M1160.0 838.0 C1165.0 837.0 1165.0 838.3 1175.0 835.0 C1185.0 831.7 1181.7 828.0 1190.0 828.0 C1198.3 828.0 1196.7 832.7 1200.0 835.0 L1240.0 835.0 L1240.0 900.0 L1160.0 900.0 Z"/>
<path fill="#a2ee00" d="M1186.0 838.0 C1188.7 831.3 1192.0 828.0 1196.0 832.0 C1200.0 836.0 1200.7 843.3 1198.0 850.0 C1195.3 856.7 1192.0 856.0 1188.0 852.0 C1184.0 848.0 1183.3 844.7 1186.0 838.0Z"/>
<path fill="#e2c2e8" d="M910.2 323.8 C913.8 319.3 913.8 320.2 919.6 321.1 C925.4 322.0 922.3 322.5 927.7 326.5 C933.1 330.6 930.4 327.9 935.7 333.3 C941.1 338.6 940.7 336.8 943.8 342.7 C947.0 348.5 947.9 346.3 945.2 350.8 C942.5 355.2 942.5 355.2 935.7 356.1 C929.0 357.0 932.2 356.6 925.0 353.4 C917.8 350.3 919.6 353.0 914.2 346.7 C908.8 340.4 910.2 342.2 908.8 334.6 C907.5 327.0 906.6 328.3 910.2 323.8Z"/>
<path fill="#ffffff" d="M916.9 341.3 C920.3 338.9 924.1 338.4 927.7 340.7 C931.3 342.9 931.0 345.6 927.7 348.1 C924.3 350.5 921.2 350.3 917.6 348.1 C914.0 345.8 913.5 343.8 916.9 341.3Z"/>
<path fill="#ff58e8" d="M919.6 326.5 C921.4 324.3 924.1 325.2 927.7 327.9 C931.3 330.6 932.2 332.4 930.4 334.6 C928.6 336.8 925.9 337.3 922.3 334.6 C918.7 331.9 917.8 328.8 919.6 326.5Z"/>
<path fill="#e2c2e8" d="M640.0 336.7 C643.3 329.4 643.9 333.9 650.0 335.0 C656.1 336.1 655.0 333.9 658.3 340.0 C661.7 346.1 662.8 346.7 660.0 353.3 C657.2 360.0 656.7 358.9 650.0 360.0 C643.3 361.1 643.3 364.4 640.0 356.7 C636.7 348.9 636.7 343.9 640.0 336.7Z"/>
<path fill="#ff58e8" d="M645.0 341.7 C647.2 337.8 651.1 340.0 655.0 343.3 C658.9 346.7 658.9 347.8 656.7 351.7 C654.4 355.6 652.2 358.3 648.3 355.0 C644.4 351.7 642.8 345.6 645.0 341.7Z"/>
<path fill="#e2c2e8" d="M640.0 378.3 C643.9 369.4 645.0 373.9 651.7 376.7 C658.3 379.4 657.2 377.8 660.0 386.7 C662.8 395.6 663.3 396.1 660.0 403.3 C656.7 410.6 656.7 408.3 650.0 408.3 C643.3 408.3 643.3 413.3 640.0 403.3 C636.7 393.3 636.1 387.2 640.0 378.3Z"/>
<path fill="#ff58e8" d="M645.0 385.0 C647.2 379.4 651.1 381.7 655.0 386.7 C658.9 391.7 658.9 394.4 656.7 400.0 C654.4 405.6 652.2 408.3 648.3 403.3 C644.4 398.3 642.8 390.6 645.0 385.0Z"/>
<path fill="#9c4430" d="M723.3 341.7 C724.4 340.0 725.6 343.9 733.3 343.3 C741.1 342.8 738.9 342.8 746.7 340.0 C754.4 337.2 752.2 333.9 756.7 335.0 C761.1 336.1 757.8 337.2 760.0 343.3 C762.2 349.4 765.6 350.0 763.3 353.3 C761.1 356.7 760.0 355.6 753.3 353.3 C746.7 351.1 751.1 348.3 743.3 346.7 C735.6 345.0 736.7 350.0 730.0 348.3 C723.3 346.7 722.2 343.3 723.3 341.7Z"/>
<path fill="#9c4430" d="M705.0 341.7 C707.8 341.1 711.7 341.9 713.3 343.3 C715.0 344.7 712.8 345.3 710.0 345.8 C707.2 346.4 706.7 346.4 705.0 345.0 C703.3 343.6 702.2 342.2 705.0 341.7Z"/>
<path fill="#9c4430" d="M743.3 393.3 C746.1 389.4 750.6 385.6 753.3 385.0 C756.1 384.4 754.4 387.8 751.7 391.7 C748.9 395.6 747.8 396.1 745.0 396.7 C742.2 397.2 740.6 397.2 743.3 393.3Z"/>
<path fill="#ff58e8" d="M690.0 370.0 C697.8 362.8 701.1 362.8 713.3 365.0 C725.6 367.2 724.4 367.2 726.7 376.7 C728.9 386.1 727.8 386.7 720.0 393.3 C712.2 400.0 713.3 398.9 703.3 396.7 C693.3 394.4 694.4 395.6 690.0 386.7 C685.6 377.8 682.2 377.2 690.0 370.0Z"/>
<path fill="#e2c2e8" d="M698.3 371.7 C702.2 365.0 707.8 365.0 713.3 370.0 C718.9 375.0 718.9 380.0 715.0 386.7 C711.1 393.3 707.2 395.0 701.7 390.0 C696.1 385.0 694.4 378.3 698.3 371.7Z"/>
<path fill="#ffffff" stroke="#e2c2e8" stroke-width="3" stroke-linejoin="round" d="M663.3 318.3 C666.7 308.9 667.8 315.0 673.3 320.0 C678.9 325.0 678.9 325.0 680.0 333.3 C681.1 341.7 682.2 340.0 676.7 345.0 C671.1 350.0 667.8 357.2 663.3 348.3 C658.9 339.4 660.0 327.8 663.3 318.3Z"/>
<path fill="#ffffff" stroke="#e2c2e8" stroke-width="3" stroke-linejoin="round" d="M663.3 368.3 C666.1 362.8 668.3 364.4 671.7 370.0 C675.0 375.6 676.1 379.4 673.3 385.0 C670.6 390.6 666.7 392.2 663.3 386.7 C660.0 381.1 660.6 373.9 663.3 368.3Z"/>
<path fill="#ffffff" stroke="#e2c2e8" stroke-width="3" stroke-linejoin="round" d="M813.3 288.3 C812.2 277.2 815.0 277.8 820.0 290.0 C825.0 302.2 827.2 313.9 828.3 325.0 C829.4 336.1 828.3 335.6 823.3 323.3 C818.3 311.1 814.4 299.4 813.3 288.3Z"/>
<path fill="#e6b8af" d="M820.0 483.3 C824.4 479.4 833.9 476.7 840.0 476.7 C846.1 476.7 842.8 479.4 838.3 483.3 C833.9 487.2 832.8 488.3 826.7 488.3 C820.6 488.3 815.6 487.2 820.0 483.3Z"/>
<path fill="#e6b8af" d="M931.7 493.3 C933.3 486.7 931.7 489.4 936.7 486.7 C941.7 483.9 940.6 481.7 946.7 485.0 C952.8 488.3 950.6 488.3 955.0 496.7 C959.4 505.0 956.1 503.3 960.0 510.0 C963.9 516.7 966.7 513.3 966.7 516.7 C966.7 520.0 966.7 520.6 960.0 520.0 C953.3 519.4 954.4 516.1 946.7 515.0 C938.9 513.9 941.7 519.4 936.7 516.7 C931.7 513.9 933.3 514.4 931.7 506.7 C930.0 498.9 930.0 500.0 931.7 493.3Z"/>
<path fill="#e6b8af" d="M908.3 528.3 C911.7 524.4 910.6 524.4 921.7 521.7 C932.8 518.9 935.6 518.9 941.7 520.0 C947.8 521.1 946.1 522.2 940.0 525.0 C933.9 527.8 932.8 525.6 923.3 528.3 C913.9 531.1 916.7 533.3 911.7 533.3 C906.7 533.3 905.0 532.2 908.3 528.3Z"/>
<path fill="#e6b8af" d="M888.3 483.3 C891.1 482.2 893.3 487.2 900.0 490.0 C906.7 492.8 906.7 489.4 908.3 491.7 C910.0 493.9 910.6 496.1 905.0 496.7 C899.4 497.2 897.2 497.8 891.7 493.3 C886.1 488.9 885.6 484.4 888.3 483.3Z"/>
<path fill="#ffb0dc" d="M1140.0 415.0 C1143.3 407.5 1147.1 409.2 1155.0 412.5 C1162.9 415.8 1162.1 416.7 1163.8 425.0 C1165.4 433.3 1166.2 434.2 1160.0 437.5 C1153.8 440.8 1151.7 442.5 1145.0 435.0 C1138.3 427.5 1136.7 422.5 1140.0 415.0Z"/>
<path fill="#ffb0dc" d="M1140.0 411.8 C1144.3 402.2 1146.7 407.0 1152.9 410.3 C1159.1 413.7 1157.2 411.3 1158.7 421.8 C1160.1 432.3 1161.5 434.3 1157.2 441.9 C1152.9 449.6 1151.5 445.7 1145.7 444.8 C1140.0 443.8 1141.9 450.0 1140.0 439.0 C1138.1 428.0 1135.7 421.3 1140.0 411.8Z"/>
<path fill="#ff58e8" stroke="#e2c2e8" stroke-width="3" stroke-linejoin="round" d="M1165.8 398.9 C1172.0 386.9 1180.2 382.6 1187.3 393.1 C1194.5 403.6 1189.7 417.0 1187.3 430.4 C1185.0 443.8 1186.4 433.8 1180.2 433.3 C1174.0 432.8 1173.5 440.5 1168.7 429.0 C1163.9 417.5 1159.6 410.8 1165.8 398.9Z"/>
<path fill="#ff84e0" stroke="#ff30ee" stroke-width="3" stroke-linejoin="round" d="M1190.2 398.9 C1194.0 388.8 1196.0 395.5 1201.7 397.4 C1207.4 399.3 1203.1 400.3 1207.4 404.6 C1211.7 408.9 1208.4 407.5 1214.6 410.3 C1220.8 413.2 1217.5 413.2 1226.1 413.2 C1234.7 413.2 1230.9 412.7 1240.4 410.3 C1250.0 408.0 1245.2 406.8 1254.8 406.0 C1264.3 405.3 1260.5 406.3 1269.1 408.2 C1277.7 410.1 1273.4 412.0 1280.6 411.8 C1287.8 411.5 1284.9 410.8 1290.6 407.5 C1296.4 404.1 1294.9 401.7 1297.8 401.7 C1300.7 401.7 1300.2 403.2 1299.3 407.5 C1298.3 411.8 1291.6 411.8 1294.9 414.6 C1298.3 417.5 1306.4 412.7 1309.3 416.1 C1312.2 419.4 1309.3 422.3 1303.6 424.7 C1297.8 427.1 1299.7 422.3 1292.1 423.3 C1284.4 424.2 1288.3 426.1 1280.6 427.6 C1273.0 429.0 1276.8 425.6 1269.1 427.6 C1261.5 429.5 1264.3 429.5 1257.6 433.3 C1251.0 437.1 1254.8 434.3 1249.0 439.0 C1243.3 443.8 1246.2 441.3 1240.4 447.6 C1234.7 454.0 1242.3 454.5 1231.8 458.0 C1221.3 461.4 1214.6 462.4 1208.9 458.0 C1203.1 453.6 1214.6 452.0 1214.6 444.8 C1214.6 437.5 1213.6 441.0 1208.9 436.2 C1204.1 431.4 1206.5 433.3 1200.3 430.4 C1194.0 427.6 1193.6 438.1 1190.2 427.6 C1186.9 417.0 1186.4 408.9 1190.2 398.9Z"/>
<path fill="#b46a5b" d="M1240.4 430.4 C1246.2 422.3 1244.3 429.0 1251.9 429.0 C1259.6 429.0 1264.3 426.1 1263.4 430.4 C1262.4 434.7 1256.7 434.3 1249.0 441.9 C1241.4 449.6 1245.2 449.6 1240.4 453.4 C1235.6 457.2 1234.7 461.0 1234.7 453.4 C1234.7 445.7 1234.7 438.6 1240.4 430.4Z"/>
<path fill="#ffffff" stroke="#e2c2e8" stroke-width="4" stroke-linejoin="round" d="M1226.1 366.6 C1232.3 365.5 1232.8 365.8 1240.4 368.5 C1248.1 371.1 1244.3 372.9 1249.0 374.5 C1253.8 376.0 1251.0 374.2 1254.8 373.0 C1258.6 371.8 1255.7 369.2 1260.5 370.9 C1265.3 372.6 1263.4 378.1 1269.1 378.1 C1274.9 378.1 1271.0 376.0 1277.7 370.9 C1284.4 365.8 1280.6 366.9 1289.2 362.7 C1297.8 358.6 1293.5 357.9 1303.6 358.4 C1313.6 358.9 1310.3 361.7 1319.3 364.1 C1328.4 366.6 1326.0 361.5 1330.8 365.9 C1335.6 370.3 1334.6 369.2 1333.7 377.3 C1332.7 385.5 1331.8 382.6 1327.9 390.3 C1324.1 397.9 1327.0 394.3 1322.2 400.3 C1317.4 406.3 1317.9 402.9 1313.6 408.2 C1309.3 413.5 1314.6 412.5 1309.3 416.1 C1304.0 419.7 1302.6 419.4 1297.8 419.0 C1293.0 418.5 1294.5 418.5 1294.9 414.6 C1295.4 410.8 1298.3 411.8 1299.3 407.5 C1300.2 403.2 1300.7 401.7 1297.8 401.7 C1294.9 401.7 1296.4 404.1 1290.6 407.5 C1284.9 410.8 1287.8 411.5 1280.6 411.8 C1273.4 412.0 1277.7 410.1 1269.1 408.2 C1260.5 406.3 1264.3 405.3 1254.8 406.0 C1245.2 406.8 1250.0 408.0 1240.4 410.3 C1230.9 412.7 1234.7 413.2 1226.1 413.2 C1217.5 413.2 1220.8 413.2 1214.6 410.3 C1208.4 407.5 1211.7 408.9 1207.4 404.6 C1203.1 400.3 1202.6 402.2 1201.7 397.4 C1200.7 392.6 1202.6 393.6 1204.6 390.3 C1206.5 386.9 1204.1 391.7 1207.4 387.4 C1210.8 383.1 1209.8 382.6 1214.6 377.3 C1219.4 372.1 1218.0 375.2 1221.8 371.6 C1225.6 368.0 1219.9 367.6 1226.1 366.6Z"/>
<path fill="#ffb0dc" stroke="#ff84e0" stroke-width="2" stroke-linejoin="round" d="M1342.3 354.4 C1344.9 351.0 1346.6 345.3 1348.0 351.5 C1349.5 357.7 1347.6 358.7 1346.6 373.0 C1345.6 387.4 1346.1 382.1 1345.2 394.6 C1344.2 407.0 1350.4 405.1 1343.7 410.3 C1337.0 415.6 1329.9 414.2 1325.1 410.3 C1320.3 406.5 1326.0 406.5 1329.4 398.9 C1332.7 391.2 1332.0 396.0 1335.1 387.4 C1338.2 378.8 1337.0 381.6 1338.7 373.0 C1340.4 364.4 1338.9 367.8 1340.1 361.6 C1341.3 355.3 1339.7 357.7 1342.3 354.4Z"/>
<path fill="#b46a5b" d="M1340.1 377.3 C1341.6 370.7 1341.8 369.7 1343.0 373.0 C1344.2 376.4 1344.4 379.3 1343.7 387.4 C1343.0 395.5 1342.5 395.5 1340.9 397.4 C1339.2 399.3 1338.9 399.8 1338.7 393.1 C1338.5 386.4 1338.7 384.0 1340.1 377.3Z"/>
<path fill="#ffb0dc" d="M1309.3 416.1 C1313.6 411.3 1313.6 412.3 1325.1 410.3 C1336.6 408.4 1338.5 408.4 1343.7 410.3 C1349.0 412.3 1346.6 412.3 1340.9 416.1 C1335.1 419.9 1336.1 419.0 1326.5 421.8 C1316.9 424.7 1317.9 426.6 1312.2 424.7 C1306.4 422.8 1305.0 420.9 1309.3 416.1Z"/>
<path fill="#ffb0dc" stroke="#e2c2e8" stroke-width="3" stroke-linejoin="round" d="M1384.9 351.1 C1387.2 345.1 1386.8 345.1 1391.7 344.4 C1396.5 343.6 1395.4 343.6 1399.5 348.9 C1403.6 354.1 1402.9 353.3 1404.0 360.1 C1405.1 366.8 1407.4 365.7 1402.9 369.0 C1398.4 372.4 1396.5 372.4 1390.6 370.2 C1384.6 367.9 1386.8 368.7 1384.9 362.3 C1383.1 356.0 1382.7 357.1 1384.9 351.1Z"/>
<path fill="none" stroke="#cc98d8" stroke-width="2.5" stroke-linejoin="round" d="M1351.3 309.6 C1350.9 316.7 1349.8 318.6 1350.2 330.9 C1350.6 343.3 1352.3 338.4 1352.4 346.6 C1352.6 354.8 1351.2 352.6 1350.6 355.6"/>
<path fill="none" stroke="#ff58e8" stroke-width="1.5" stroke-linejoin="round" d="M1352.0 313.0 L1351.1 328.7"/>
<path fill="#ffffff" stroke="#e2c2e8" stroke-width="3" stroke-linejoin="round" d="M1350.9 372.3 C1355.2 366.8 1360.0 367.1 1363.8 372.3 C1367.6 377.6 1366.7 382.6 1362.4 388.1 C1358.1 393.6 1354.7 394.1 1350.9 388.8 C1347.1 383.6 1346.6 377.8 1350.9 372.3Z"/>
<path fill="#b46a5b" d="M1360.9 393.1 C1363.1 390.3 1366.0 390.3 1368.1 393.1 C1370.3 396.0 1369.6 398.9 1367.4 401.7 C1365.3 404.6 1363.8 404.6 1361.7 401.7 C1359.5 398.9 1358.8 396.0 1360.9 393.1Z"/>
<path fill="#b46a5b" d="M1180.4 440.0 C1210.3 434.0 1239.0 434.0 1259.3 440.0 C1279.7 446.0 1253.4 444.8 1241.4 457.9 C1229.5 471.1 1233.0 465.7 1223.5 479.5 C1213.9 493.2 1219.9 487.2 1212.7 499.2 C1205.5 511.1 1210.3 505.2 1202.0 515.3 C1193.6 525.5 1197.2 521.3 1187.6 529.7 C1178.0 538.0 1182.8 532.1 1173.3 540.4 C1163.7 548.8 1168.5 545.2 1158.9 554.8 C1149.3 564.3 1154.1 559.6 1144.6 569.1 C1135.0 578.7 1139.8 573.9 1130.2 583.5 C1120.7 593.0 1126.6 593.0 1115.9 597.8 C1105.1 602.6 1099.1 603.8 1097.9 597.8 C1096.7 591.8 1102.7 590.6 1112.3 579.9 C1121.8 569.1 1117.7 575.1 1126.6 565.5 C1135.6 556.0 1132.0 560.8 1139.2 551.2 C1146.4 541.6 1147.6 545.2 1148.1 536.8 C1148.7 528.5 1144.0 534.5 1141.0 526.1 C1138.0 517.7 1136.8 522.5 1139.2 511.7 C1141.6 501.0 1141.6 505.8 1148.1 493.8 C1154.7 481.8 1151.7 487.8 1158.9 475.9 C1166.1 463.9 1162.5 469.9 1169.7 457.9 C1176.8 446.0 1150.5 446.0 1180.4 440.0Z"/>
<path fill="#e6b8af" d="M1216.3 475.9 C1228.3 459.1 1227.1 460.3 1241.4 461.5 C1255.8 462.7 1259.3 468.7 1259.3 479.5 C1259.3 490.2 1253.4 483.0 1241.4 493.8 C1229.5 504.6 1233.0 501.6 1223.5 511.7 C1213.9 521.9 1219.9 517.1 1212.7 524.3 C1205.5 531.5 1209.1 530.3 1202.0 533.3 C1194.8 536.2 1190.0 540.4 1191.2 533.3 C1192.4 526.1 1197.2 530.9 1205.5 511.7 C1213.9 492.6 1204.3 492.6 1216.3 475.9Z"/>
<path fill="#ffb0dc" stroke="#ff58e8" stroke-width="2" stroke-linejoin="round" d="M1212.7 440.0 C1223.5 435.2 1231.8 435.2 1237.8 440.0 C1243.8 444.8 1236.6 444.2 1230.6 454.3 C1224.7 464.5 1227.1 460.3 1219.9 470.5 C1212.7 480.7 1216.3 475.3 1209.1 484.8 C1202.0 494.4 1205.5 490.2 1198.4 499.2 C1191.2 508.1 1194.8 504.6 1187.6 511.7 C1180.4 518.9 1183.4 517.1 1176.8 520.7 C1170.3 524.3 1171.5 523.1 1167.9 522.5 C1164.3 521.9 1164.3 524.9 1166.1 518.9 C1167.9 512.9 1167.3 514.7 1173.3 504.6 C1179.2 494.4 1176.8 499.2 1184.0 488.4 C1191.2 477.7 1187.6 483.6 1194.8 472.3 C1202.0 460.9 1199.6 465.1 1205.5 454.3 C1211.5 443.6 1202.0 444.8 1212.7 440.0Z"/>
<path fill="#ffffff" d="M1223.5 440.0 C1228.0 436.4 1231.5 434.6 1231.5 440.0 C1231.5 445.4 1229.5 446.0 1223.5 456.1 C1217.5 466.3 1220.2 460.9 1213.6 470.5 C1207.0 480.1 1210.0 475.9 1203.7 484.8 C1197.5 493.8 1200.2 490.8 1194.8 497.4 C1189.4 504.0 1190.9 503.1 1187.6 504.6 C1184.3 506.1 1183.4 506.1 1184.9 501.9 C1186.4 497.7 1187.0 499.5 1192.1 492.0 C1197.2 484.5 1194.2 488.4 1200.2 479.5 C1206.1 470.5 1204.0 474.7 1210.0 465.1 C1216.0 455.5 1213.6 459.1 1218.1 450.8 C1222.6 442.4 1219.0 443.6 1223.5 440.0Z"/>
<path fill="#ffffff" stroke="#ff84e0" stroke-width="2" stroke-linejoin="round" d="M1217.5 453.4 C1218.4 456.7 1218.4 461.0 1226.1 453.4 C1233.7 445.7 1232.8 441.9 1240.4 430.4 C1248.1 419.0 1247.6 423.0 1249.0 419.0 C1250.5 414.9 1250.0 413.9 1244.7 418.2 C1239.5 422.5 1240.4 423.5 1233.3 431.9 C1226.1 440.2 1228.5 436.2 1223.2 443.3 C1218.0 450.5 1216.5 450.0 1217.5 453.4Z"/>
<path fill="#cb9186" d="M1175.1 526.1 C1177.4 530.3 1173.3 533.3 1166.1 545.8 C1158.9 558.4 1161.9 553.0 1153.5 563.7 C1145.2 574.5 1149.3 568.5 1141.0 578.1 C1132.6 587.7 1135.3 585.1 1128.4 592.4 C1121.5 599.7 1126.6 598.8 1120.4 600.0 C1114.1 601.2 1109.3 602.1 1109.6 596.0 C1109.9 589.9 1113.2 591.8 1121.2 581.7 C1129.3 571.5 1125.4 576.3 1133.8 565.5 C1142.2 554.8 1138.0 560.2 1146.4 549.4 C1154.7 538.6 1149.3 541.0 1158.9 533.3 C1168.5 525.5 1172.7 521.9 1175.1 526.1Z"/>
<path fill="#ffb0dc" d="M1170.6 529.7 C1170.3 533.3 1168.8 535.1 1161.6 545.8 C1154.4 556.6 1157.4 551.5 1149.0 562.0 C1140.7 572.4 1144.6 567.6 1136.5 577.2 C1128.4 586.8 1130.8 584.4 1124.8 590.6 C1118.9 596.9 1121.5 595.1 1118.6 596.0 C1115.6 596.9 1113.5 598.1 1115.9 593.3 C1118.3 588.6 1118.3 590.6 1125.7 581.7 C1133.2 572.7 1129.9 576.9 1138.3 566.4 C1146.7 556.0 1142.8 560.8 1150.8 550.3 C1158.9 539.8 1155.9 541.9 1162.5 535.1 C1169.1 528.2 1170.9 526.1 1170.6 529.7Z"/>
<path fill="#ffffff" d="M1157.1 555.7 C1162.2 551.9 1162.8 551.5 1159.8 556.9 C1156.8 562.3 1155.9 563.3 1148.1 571.8 C1140.4 580.4 1141.1 579.6 1136.5 582.6 C1131.9 585.6 1131.6 585.6 1134.3 580.8 C1137.0 576.0 1137.0 576.6 1144.6 568.2 C1152.2 559.9 1152.0 559.4 1157.1 555.7Z"/>
<path fill="#cb9186" d="M1119.5 520.7 C1129.6 514.7 1146.4 515.9 1157.1 520.7 C1167.9 525.5 1161.9 529.1 1151.7 535.1 C1141.6 541.0 1137.4 543.4 1126.6 538.6 C1115.9 533.9 1109.3 526.7 1119.5 520.7Z"/>
<path fill="#e6b8af" d="M1080.0 552.5 C1088.3 542.5 1091.7 540.8 1100.0 540.0 C1108.3 539.2 1108.3 540.0 1105.0 550.0 C1101.7 560.0 1098.3 557.5 1090.0 570.0 C1081.7 582.5 1086.7 581.7 1080.0 587.5 C1073.3 593.3 1071.7 593.3 1070.0 587.5 C1068.3 581.7 1071.7 581.7 1075.0 570.0 C1078.3 558.3 1071.7 562.5 1080.0 552.5Z"/>
<path fill="#ff84e0" stroke="#e2c2e8" stroke-width="3" stroke-linejoin="round" d="M212.9 394.4 C220.7 383.6 221.3 388.4 234.5 390.8 C247.6 393.2 238.7 393.8 252.4 401.5 C266.2 409.3 262.6 399.7 275.7 414.1 C288.9 428.4 282.9 426.0 291.9 444.6 C300.8 463.1 294.3 454.2 302.6 469.7 C311.0 485.3 307.4 475.7 317.0 491.2 C326.6 506.8 321.8 499.6 331.3 516.3 C340.9 533.1 338.5 522.3 345.7 541.5 C352.9 560.6 351.1 554.6 352.9 573.8 C354.7 592.9 356.5 585.1 351.1 598.9 C345.7 612.6 349.3 609.6 336.7 615.0 C324.2 620.4 329.6 620.4 313.4 615.0 C297.3 609.6 303.8 612.6 288.3 598.9 C272.7 585.1 279.9 591.7 266.8 573.8 C253.6 555.8 259.6 564.2 248.8 545.1 C238.1 525.9 242.2 535.5 234.5 516.3 C226.7 497.2 231.5 506.8 225.5 487.6 C219.5 468.5 221.3 480.5 216.5 458.9 C211.7 437.4 212.3 444.6 211.1 423.1 C210.0 401.5 205.2 405.1 212.9 394.4Z"/>
<path fill="#ffffff" d="M216.5 401.5 C221.3 395.5 223.7 394.4 230.9 397.9 C238.1 401.5 239.3 403.9 238.1 412.3 C236.9 420.7 234.5 421.9 227.3 423.1 C220.1 424.3 220.1 423.1 216.5 415.9 C212.9 408.7 211.7 407.5 216.5 401.5Z"/>
<path fill="#b46a5b" d="M245.2 410.5 C259.0 407.1 258.4 407.6 272.1 420.2 C285.9 432.7 278.1 431.1 286.5 448.2 C294.9 465.3 288.9 455.9 297.3 471.5 C305.6 487.0 302.0 478.7 311.6 494.8 C321.2 511.0 316.4 503.2 326.0 519.9 C335.5 536.7 333.1 527.1 340.3 545.1 C347.5 563.0 345.7 557.0 347.5 573.8 C349.3 590.5 350.5 583.3 345.7 595.3 C340.9 607.2 343.3 605.8 333.1 609.6 C323.0 613.5 327.8 613.9 315.2 606.8 C302.6 599.6 308.3 602.7 295.5 588.1 C282.7 573.5 288.2 579.1 276.8 563.0 C265.4 546.8 271.9 555.2 261.4 539.7 C250.9 524.1 254.0 533.7 245.2 516.3 C236.5 499.0 240.3 506.8 235.2 487.6 C230.0 468.5 231.2 478.1 229.8 458.9 C228.4 439.8 225.7 446.4 230.9 430.2 C236.0 414.1 231.5 413.8 245.2 410.5Z"/>
<path fill="#f56565" stroke="#fb3434" stroke-width="7" stroke-linejoin="round" d="M248.8 417.7 C256.6 417.7 256.6 415.3 266.8 426.6 C276.9 438.0 272.1 436.2 279.3 451.8 C286.5 467.3 280.5 457.7 288.3 473.3 C296.1 488.8 293.1 481.7 302.6 498.4 C312.2 515.2 307.4 506.8 317.0 523.5 C326.6 540.3 324.2 531.9 331.3 548.6 C338.5 565.4 336.7 559.4 338.5 573.8 C340.3 588.1 340.3 583.1 336.7 591.7 C333.1 600.3 335.5 599.4 327.8 599.6 C320.0 599.8 323.0 601.0 313.4 592.4 C303.8 583.8 308.6 588.3 299.1 573.8 C289.5 559.2 294.3 565.4 284.7 548.6 C275.1 531.9 279.3 540.3 270.3 523.5 C261.4 506.8 265.0 515.2 257.8 498.4 C250.6 481.7 253.6 490.0 248.8 473.3 C244.0 456.5 245.2 463.7 243.4 448.2 C241.6 432.6 241.6 436.8 243.4 426.6 C245.2 416.5 241.0 417.7 248.8 417.7Z"/>
<path fill="#f59999" d="M248.8 423.1 C255.4 423.1 256.0 420.1 265.0 430.2 C273.9 440.4 269.2 438.6 275.7 453.6 C282.3 468.5 284.1 464.9 284.7 475.1 C285.3 485.3 284.1 482.3 277.5 484.1 C270.9 485.8 272.7 485.3 265.0 480.5 C257.2 475.7 260.2 480.5 254.2 469.7 C248.2 458.9 250.0 461.3 247.0 448.2 C244.0 435.0 244.6 438.6 245.2 430.2 C245.8 421.9 242.2 423.1 248.8 423.1Z"/>
<path fill="#ff0000" d="M266.8 484.1 C273.9 478.7 275.1 472.7 286.5 478.7 C297.9 484.7 291.9 487.0 300.8 502.0 C309.8 516.9 307.4 511.6 313.4 523.5 C319.4 535.5 322.4 531.9 318.8 537.9 C315.2 543.9 313.4 543.9 302.6 541.5 C291.9 539.1 296.1 540.3 286.5 530.7 C276.9 521.1 281.1 524.7 273.9 512.8 C266.8 500.8 267.4 504.4 265.0 494.8 C262.6 485.3 259.6 489.4 266.8 484.1Z"/>
<path fill="#fb3434" d="M272.1 491.2 C275.7 485.3 278.1 482.9 286.5 487.6 C294.9 492.4 290.7 493.6 297.3 505.6 C303.8 517.5 305.6 515.2 306.2 523.5 C306.8 531.9 306.2 531.9 299.1 530.7 C291.9 529.5 292.5 528.3 284.7 519.9 C276.9 511.6 279.9 515.2 275.7 505.6 C271.5 496.0 268.6 497.2 272.1 491.2Z"/>
<path fill="#f59999" d="M291.9 534.3 C300.8 529.5 304.4 531.9 317.0 537.9 C329.6 543.9 323.6 540.3 329.6 552.2 C335.5 564.2 333.7 561.2 334.9 573.8 C336.1 586.3 336.1 582.7 333.1 589.9 C330.2 597.1 331.9 595.9 326.0 595.3 C320.0 594.7 323.0 595.9 315.2 588.1 C307.4 580.3 311.0 583.9 302.6 572.0 C294.3 560.0 293.7 564.8 290.1 552.2 C286.5 539.7 282.9 539.1 291.9 534.3Z"/>
<path fill="#f5cccc" d="M313.4 559.4 C318.2 555.2 320.0 555.8 326.0 563.0 C331.9 570.2 333.1 572.6 331.3 580.9 C329.6 589.3 327.2 589.9 320.6 588.1 C314.0 586.3 314.0 585.1 311.6 575.6 C309.2 566.0 308.6 563.6 313.4 559.4Z"/>
<path fill="#ffffff" stroke="#ff84e0" stroke-width="2" stroke-linejoin="round" d="M333.1 491.2 C342.1 495.4 338.5 499.6 345.7 516.3 C352.9 533.1 352.3 525.9 354.7 541.5 C357.1 557.0 356.5 553.4 352.9 563.0 C349.3 572.6 348.7 575.0 343.9 570.2 C339.1 565.4 343.9 564.2 338.5 548.6 C333.1 533.1 334.3 538.5 327.8 523.5 C321.2 508.6 317.0 514.6 318.8 503.8 C320.6 493.0 324.2 487.0 333.1 491.2Z"/>
<path fill="#b46a5b" d="M270.0 537.9 C273.6 534.9 274.8 542.1 280.8 554.1 C286.7 566.0 283.7 561.2 287.9 573.8 C292.1 586.4 287.3 583.4 293.3 591.7 C299.3 600.1 304.7 594.7 305.9 598.9 C307.1 603.1 302.9 604.3 296.9 604.3 C290.9 604.3 296.9 612.7 287.9 598.9 C279.0 585.2 276.0 583.4 270.0 563.0 C264.0 542.7 266.4 540.9 270.0 537.9Z"/>
<path fill="#f56565" d="M323.8 597.1 C328.6 591.1 328.6 590.5 341.7 591.7 C354.9 592.9 351.3 596.5 363.3 600.7 C375.2 604.9 370.4 597.7 377.6 604.3 C384.8 610.9 383.6 609.1 384.8 620.4 C386.0 631.8 386.0 627.6 381.2 638.4 C376.4 649.1 376.4 653.9 370.4 652.7 C364.5 651.5 371.6 645.5 363.3 634.8 C354.9 624.0 357.3 628.8 345.3 620.4 C333.4 612.1 334.6 617.4 327.4 609.7 C320.2 601.9 319.0 603.1 323.8 597.1Z"/>
<path fill="#f59999" d="M338.1 579.2 C341.7 572.6 341.1 573.8 350.7 572.0 C360.3 570.2 356.7 572.6 366.8 573.8 C377.0 575.0 374.6 570.8 381.2 575.6 C387.8 580.4 387.8 580.4 386.6 588.1 C385.4 595.9 385.4 594.7 377.6 598.9 C369.8 603.1 372.8 600.7 363.3 600.7 C353.7 600.7 356.7 601.9 348.9 598.9 C341.1 595.9 343.5 598.3 339.9 591.7 C336.4 585.2 334.6 585.8 338.1 579.2Z"/>
<path fill="#ffaa55" d="M350.7 537.9 C351.9 528.4 354.3 528.4 363.3 527.2 C372.2 526.0 368.0 527.8 377.6 534.3 C387.2 540.9 382.4 539.7 392.0 546.9 C401.5 554.1 399.1 557.1 406.3 555.9 C413.5 554.7 409.9 552.9 413.5 543.3 C417.1 533.7 411.1 533.7 417.1 527.2 C423.0 520.6 424.8 518.8 431.4 523.6 C438.0 528.4 434.6 527.7 436.8 541.5 C439.0 555.4 433.6 553.3 438.0 565.1 C442.5 577.0 442.0 567.8 450.1 577.2 C458.1 586.6 453.4 582.5 462.1 593.2 C470.8 604.0 466.8 599.9 476.2 609.3 C485.5 618.7 480.2 613.3 490.2 621.3 C500.3 629.4 496.2 628.0 506.3 633.4 C516.3 638.7 511.0 633.4 520.3 637.4 C529.7 641.4 527.0 637.4 534.4 645.4 C541.7 653.5 537.7 650.8 542.4 661.5 C547.1 672.2 546.4 667.5 548.4 677.5 C550.4 687.6 562.5 686.9 548.4 691.6 C534.4 696.3 545.8 701.6 506.3 691.6 C466.8 681.6 457.9 673.3 430.0 661.5 C402.1 649.7 433.9 659.2 422.4 656.3 C411.0 653.4 408.1 658.7 395.5 652.7 C383.0 646.7 390.2 649.1 384.8 638.4 C379.4 627.6 379.4 631.8 379.4 620.4 C379.4 609.1 385.4 611.5 384.8 604.3 C384.2 597.1 377.0 604.3 377.6 598.9 C378.2 593.5 385.4 595.9 386.6 588.1 C387.8 580.4 387.8 580.4 381.2 575.6 C374.6 570.8 374.0 580.4 366.8 573.8 C359.7 567.2 365.1 567.8 359.7 555.9 C354.3 543.9 349.5 547.5 350.7 537.9Z"/>
<path fill="#ffd591" d="M427.8 584.6 C431.4 576.2 432.0 582.8 442.2 588.1 C452.3 593.5 446.9 595.3 458.3 600.7 C469.7 606.1 463.7 600.1 476.2 604.3 C488.8 608.5 481.4 606.7 496.0 613.3 C510.6 619.8 511.2 613.3 520.0 624.0 C528.8 634.7 517.5 632.9 522.3 645.4 C527.1 657.9 529.0 649.4 534.4 661.5 C539.7 673.5 546.4 672.9 538.4 681.6 C530.4 690.3 533.0 690.3 510.3 687.6 C487.5 684.9 484.5 681.6 470.1 673.5 C455.8 665.5 466.4 672.8 467.3 663.5 C468.1 654.1 478.6 656.3 472.7 645.5 C466.7 634.8 463.1 642.0 449.3 631.2 C435.6 620.4 438.6 628.8 431.4 613.3 C424.2 597.7 424.2 592.9 427.8 584.6Z"/>
<path fill="#f59999" d="M510.3 637.4 C513.6 632.1 515.0 637.4 524.3 641.4 C533.7 645.4 530.4 641.4 538.4 649.4 C546.4 657.5 545.1 652.1 548.4 665.5 C551.8 678.9 559.8 681.6 548.4 689.6 C537.1 697.6 528.4 694.9 514.3 689.6 C500.3 684.2 506.3 684.2 506.3 673.5 C506.3 662.8 513.0 669.5 514.3 657.5 C515.6 645.4 506.9 642.8 510.3 637.4Z"/>
<path fill="#ffbf73" d="M518.3 649.4 C522.3 644.1 522.3 646.8 530.4 653.5 C538.4 660.2 538.4 658.8 542.4 669.5 C546.4 680.2 547.8 680.2 542.4 685.6 C537.1 690.9 534.4 690.9 526.3 685.6 C518.3 680.2 521.0 681.6 518.3 669.5 C515.6 657.5 514.3 654.8 518.3 649.4Z"/>
<path fill="#7a5c0a" d="M393.7 598.9 C394.9 595.9 397.9 598.9 406.3 600.7 C414.7 602.5 411.7 604.9 418.9 604.3 C426.0 603.7 422.4 598.3 427.8 598.9 C433.2 599.5 430.2 602.5 435.0 606.1 C439.8 609.7 443.4 606.1 442.2 609.7 C441.0 613.3 436.2 610.9 431.4 616.8 C426.6 622.8 427.8 619.2 427.8 627.6 C427.8 636.0 426.6 636.0 431.4 642.0 C436.2 647.9 433.8 645.5 442.2 645.5 C450.5 645.5 449.3 646.7 456.5 642.0 C463.7 637.2 458.3 636.6 463.7 631.2 C469.1 625.8 466.7 628.8 472.7 625.8 C478.6 622.8 474.4 622.2 481.6 622.2 C488.8 622.2 488.8 621.6 494.2 625.8 C499.6 630.0 500.8 629.4 497.8 634.8 C494.8 640.2 494.2 637.2 485.2 642.0 C476.2 646.7 478.0 643.1 470.9 649.1 C463.7 655.1 466.1 652.7 463.7 659.9 C461.3 667.1 468.5 667.7 463.7 670.6 C458.9 673.6 461.3 673.0 449.3 668.9 C437.4 664.7 436.8 663.5 427.8 658.1 C418.9 652.7 426.0 656.9 422.4 652.7 C418.9 648.5 422.4 646.7 417.1 645.5 C411.7 644.3 414.7 649.1 406.3 649.1 C397.9 649.1 397.9 650.3 392.0 645.5 C386.0 640.8 390.8 643.1 388.4 634.8 C386.0 626.4 382.4 622.8 384.8 620.4 C387.2 618.0 388.4 627.6 395.5 627.6 C402.7 627.6 403.9 626.4 406.3 620.4 C408.7 614.5 406.9 616.8 402.7 609.7 C398.5 602.5 392.5 601.9 393.7 598.9Z"/>
<path fill="#9a8608" d="M442.2 645.5 C444.6 641.4 448.1 641.4 452.9 643.7 C457.7 646.1 458.9 648.5 456.5 652.7 C454.1 656.9 450.5 658.7 445.8 656.3 C441.0 653.9 439.8 649.7 442.2 645.5Z"/>
<path fill="#bcb000" d="M384.8 622.2 C386.0 617.4 388.4 616.2 392.0 620.4 C395.5 624.6 396.7 630.0 395.5 634.8 C394.3 639.6 392.0 639.0 388.4 634.8 C384.8 630.6 383.6 627.0 384.8 622.2Z"/>
<path fill="#dddd00" d="M417.1 643.7 C418.9 641.7 421.2 640.8 424.2 642.0 C427.2 643.1 427.8 645.2 426.0 647.3 C424.2 649.4 421.8 649.4 418.9 648.2 C415.9 647.0 415.3 645.8 417.1 643.7Z"/>
<path fill="#ffbf73" d="M395.5 627.6 C396.7 620.4 400.3 621.6 406.3 624.0 C412.3 626.4 411.7 627.6 413.5 634.8 C415.3 642.0 415.3 642.0 411.7 645.5 C408.1 649.1 408.1 651.5 402.7 645.5 C397.3 639.6 394.3 634.8 395.5 627.6Z"/>
<path fill="#9a8608" d="M365.9 537.0 C364.8 531.7 366.5 532.9 370.4 537.9 C374.3 543.0 372.2 543.9 377.6 552.3 C383.0 560.7 381.8 556.5 386.6 563.0 C391.4 569.6 391.1 568.7 392.0 572.0 C392.8 575.3 392.8 575.3 389.3 572.9 C385.7 570.5 386.3 571.1 381.2 564.8 C376.1 558.6 379.1 563.3 374.0 554.1 C368.9 544.8 367.1 542.4 365.9 537.0Z"/>
<path fill="#ffffff" stroke="#ff84e0" stroke-width="2" stroke-linejoin="round" d="M322.9 591.7 C324.4 589.9 326.2 589.6 328.3 590.8 C330.4 592.0 330.7 593.5 329.2 595.3 C327.7 597.1 325.9 597.4 323.8 596.2 C321.7 595.0 321.4 593.5 322.9 591.7Z"/>
<path fill="#ffffff" stroke="#ff84e0" stroke-width="2" stroke-linejoin="round" d="M371.3 607.0 C373.4 605.2 375.5 605.2 377.6 607.0 C379.7 608.8 379.7 610.6 377.6 612.4 C375.5 614.2 373.4 614.2 371.3 612.4 C369.2 610.6 369.2 608.8 371.3 607.0Z"/>
<path fill="#b46a5b" d="M442.0 537.0 C450.7 530.4 458.1 529.0 470.1 537.0 C482.2 545.1 471.5 546.4 478.2 561.1 C484.9 575.8 482.2 569.2 490.2 581.2 C498.2 593.2 494.2 587.9 502.3 597.3 C510.3 606.6 503.6 601.9 514.3 609.3 C525.0 616.7 523.0 612.6 534.4 619.3 C545.8 626.0 543.7 623.4 548.4 629.4 C553.1 635.4 554.4 636.1 548.4 637.4 C542.4 638.7 541.7 637.4 530.4 633.4 C519.0 629.4 525.0 632.1 514.3 625.4 C503.6 618.7 509.0 622.0 498.2 613.3 C487.5 604.6 492.9 608.6 482.2 599.3 C471.5 589.9 475.5 594.6 466.1 585.2 C456.8 575.8 461.4 580.5 454.1 571.2 C446.7 561.8 448.1 568.5 444.1 557.1 C440.0 545.7 433.3 543.7 442.0 537.0Z"/>
<path fill="#b46a5b" d="M480.2 535.0 C502.3 530.4 525.7 510.3 548.4 535.0 C571.2 559.8 553.1 584.5 548.4 609.3 C543.7 634.1 543.1 610.6 534.4 609.3 C525.7 608.0 530.4 609.3 522.3 605.3 C514.3 601.3 518.3 605.3 510.3 597.3 C502.3 589.2 505.6 591.9 498.2 581.2 C490.9 570.5 493.6 575.8 488.2 565.1 C482.9 554.4 484.9 559.1 482.2 549.1 C479.5 539.1 458.1 539.7 480.2 535.0Z"/>
<path fill="#cb9186" d="M516.3 537.0 C523.7 529.7 536.4 523.0 546.4 539.1 C556.5 555.1 550.4 571.2 546.4 585.2 C542.4 599.3 541.7 589.2 534.4 581.2 C527.0 573.2 530.4 575.8 524.3 561.1 C518.3 546.4 509.0 544.4 516.3 537.0Z"/>
<path fill="#ff0000" d="M492.2 553.1 C498.9 552.4 501.6 551.8 510.3 559.1 C519.0 566.5 510.3 564.5 518.3 575.2 C526.3 585.9 530.4 583.2 534.4 591.2 C538.4 599.3 537.1 599.3 530.4 599.3 C523.7 599.3 525.0 599.9 514.3 591.2 C503.6 582.5 506.3 583.2 498.2 573.2 C490.2 563.1 492.2 567.8 490.2 561.1 C488.2 554.4 485.5 553.8 492.2 553.1Z"/>
<path fill="#ff84e0" d="M518.3 543.1 C521.0 536.4 527.0 539.1 532.4 545.1 C537.7 551.1 537.1 554.4 534.4 561.1 C531.7 567.8 529.7 571.2 524.3 565.1 C519.0 559.1 515.6 549.8 518.3 543.1Z"/>
<path fill="#ffffff" stroke="#ff58e8" stroke-width="2" stroke-linejoin="round" d="M477.2 573.2 C478.5 569.2 479.2 569.8 484.2 571.2 C489.2 572.5 486.9 570.5 492.2 577.2 C497.6 583.9 494.2 582.5 500.3 591.2 C506.3 599.9 502.3 597.3 510.3 603.3 C518.3 609.3 515.0 608.0 524.3 609.3 C533.7 610.6 530.4 606.0 538.4 607.3 C546.4 608.6 545.1 606.6 548.4 613.3 C551.8 620.0 551.8 622.0 548.4 627.4 C545.1 632.7 545.8 632.1 538.4 629.4 C531.0 626.7 535.7 624.7 526.3 619.3 C517.0 614.0 519.7 618.7 510.3 613.3 C500.9 608.0 505.6 611.3 498.2 603.3 C490.9 595.3 494.2 595.9 488.2 589.2 C482.2 582.5 483.9 588.6 480.2 583.2 C476.5 577.9 475.8 577.2 477.2 573.2Z"/>
<path fill="#ffffff" stroke="#ff84e0" stroke-width="2" stroke-linejoin="round" d="M474.2 541.1 C476.2 536.0 479.5 536.0 483.2 540.1 C486.9 544.1 487.2 548.1 485.2 553.1 C483.2 558.1 480.8 559.1 477.2 555.1 C473.5 551.1 472.2 546.1 474.2 541.1Z"/>
<path fill="#ff84e0" d="M460.1 559.1 C461.4 554.4 464.8 555.1 470.1 561.1 C475.5 567.2 477.5 572.5 476.2 577.2 C474.8 581.9 471.5 581.2 466.1 575.2 C460.8 569.2 458.8 563.8 460.1 559.1Z"/>
<path fill="#b46a5b" stroke="#ff84e0" stroke-width="3" stroke-linejoin="round" d="M552.4 535.0 C563.1 525.0 573.2 529.7 584.6 535.0 C595.9 540.4 588.6 541.1 586.6 551.1 C584.6 561.1 585.2 559.8 578.5 565.1 C571.8 570.5 575.2 567.2 566.5 567.2 C557.8 567.2 557.1 575.8 552.4 565.1 C547.8 554.4 541.7 545.1 552.4 535.0Z"/>
<path fill="#9c4430" d="M558.5 539.1 C563.8 532.4 572.5 533.0 578.5 539.1 C584.6 545.1 581.9 550.4 576.5 557.1 C571.2 563.8 568.5 565.1 562.5 559.1 C556.5 553.1 553.1 545.7 558.5 539.1Z"/>
<path fill="#ffffff" stroke="#ff84e0" stroke-width="4" stroke-linejoin="round" d="M590.6 533.0 C612.7 528.3 630.1 530.4 656.8 533.0 C683.6 535.7 667.5 534.4 670.9 541.1 C674.2 547.7 673.5 546.4 666.9 553.1 C660.2 559.8 660.2 555.1 650.8 561.1 C641.4 567.2 648.1 567.8 638.8 571.2 C629.4 574.5 632.1 575.2 622.7 571.2 C613.3 567.2 618.0 566.5 610.7 559.1 C603.3 551.8 607.3 553.1 600.6 549.1 C593.9 545.1 593.9 552.4 590.6 547.1 C587.2 541.7 568.5 537.7 590.6 533.0Z"/>
<path fill="#b46a5b" d="M658.8 533.0 C663.5 529.0 676.2 522.3 684.9 533.0 C693.6 543.7 689.6 553.1 684.9 565.1 C680.2 577.2 678.2 571.8 670.9 569.2 C663.5 566.5 662.8 565.1 662.8 557.1 C662.8 549.1 672.2 553.1 670.9 545.1 C669.5 537.0 654.1 537.0 658.8 533.0Z"/>
<path fill="#ffffff" stroke="#ff58e8" stroke-width="3" stroke-linejoin="round" d="M554.4 573.2 C559.8 554.4 559.8 568.5 570.5 569.2 C581.2 569.8 579.9 567.8 586.6 575.2 C593.3 582.5 591.2 579.9 590.6 591.2 C589.9 602.6 584.6 599.9 584.6 609.3 C584.6 618.7 591.2 611.3 590.6 619.3 C589.9 627.4 589.2 624.7 582.5 633.4 C575.9 642.1 578.5 644.1 570.5 645.4 C562.5 646.8 563.8 644.1 558.5 637.4 C553.1 630.7 555.8 646.8 554.4 625.4 C553.1 604.0 549.1 591.9 554.4 573.2Z"/>
<path fill="#b86fc8" d="M566.5 615.3 C569.8 611.3 575.2 610.6 578.5 613.3 C581.9 616.0 579.9 619.3 576.5 623.4 C573.2 627.4 571.8 628.0 568.5 625.4 C565.2 622.7 563.1 619.3 566.5 615.3Z"/>
<path fill="#b46a5b" d="M606.6 565.1 C611.3 562.5 612.0 570.5 622.7 573.2 C633.4 575.8 632.1 567.8 638.8 573.2 C645.4 578.5 644.1 578.5 642.8 589.2 C641.4 599.9 636.7 594.6 634.7 605.3 C632.7 616.0 638.1 613.3 636.7 621.3 C635.4 629.4 636.7 630.0 630.7 629.4 C624.7 628.7 626.7 624.7 618.7 619.3 C610.7 614.0 609.3 620.7 606.6 613.3 C604.0 606.0 610.0 608.0 610.7 597.3 C611.3 586.6 610.0 591.9 608.6 581.2 C607.3 570.5 602.0 567.8 606.6 565.1Z"/>
<path fill="#ff84e0" d="M610.7 579.2 C612.0 573.8 616.7 573.8 622.7 577.2 C628.7 580.5 630.1 583.9 628.7 589.2 C627.4 594.6 624.7 596.6 618.7 593.2 C612.7 589.9 609.3 584.5 610.7 579.2Z"/>
<path fill="#9c4430" d="M612.7 593.2 C616.0 590.2 621.4 589.9 624.7 593.2 C628.0 596.6 626.0 600.3 622.7 603.3 C619.3 606.3 618.0 605.6 614.7 602.3 C611.3 598.9 609.3 596.3 612.7 593.2Z"/>
<path fill="#ffffff" stroke="#ff84e0" stroke-width="2" stroke-linejoin="round" d="M620.7 625.4 C623.4 615.7 627.0 617.0 630.7 626.4 C634.4 635.7 634.4 643.8 631.7 653.5 C629.0 663.2 626.4 664.8 622.7 655.5 C619.0 646.1 618.0 635.1 620.7 625.4Z"/>
<path fill="#b46a5b" d="M558.5 645.4 C561.1 641.4 563.8 650.1 570.5 647.4 C577.2 644.8 574.5 638.1 578.5 637.4 C582.5 636.7 583.9 638.7 582.5 645.4 C581.2 652.1 581.2 652.8 574.5 657.5 C567.8 662.2 567.8 663.5 562.5 659.5 C557.1 655.5 555.8 649.4 558.5 645.4Z"/>
<path fill="#f56565" d="M552.4 647.4 C555.8 638.1 553.8 656.8 562.5 661.5 C571.2 666.2 569.2 669.5 578.5 661.5 C587.9 653.5 582.5 650.8 590.6 637.4 C598.6 624.0 595.9 624.0 602.6 621.3 C609.3 618.7 605.3 621.3 610.7 629.4 C616.0 637.4 612.0 634.7 618.7 645.4 C625.4 656.1 623.4 653.5 630.7 661.5 C638.1 669.5 650.1 666.2 640.8 669.5 C631.4 672.9 615.3 670.2 602.6 671.5 C589.9 672.9 614.0 671.5 602.6 673.5 C591.2 675.5 579.9 672.2 568.5 677.5 C557.1 682.9 573.9 685.6 568.5 689.6 C563.1 693.6 557.8 703.6 552.4 689.6 C547.1 675.5 549.1 656.8 552.4 647.4Z"/>
<path fill="#f59999" d="M602.6 625.4 C605.3 618.7 605.3 625.4 610.7 633.4 C616.0 641.4 612.0 638.7 618.7 649.4 C625.4 660.2 634.7 658.8 630.7 665.5 C626.7 672.2 616.0 673.5 606.6 669.5 C597.3 665.5 604.0 668.2 602.6 653.5 C601.3 638.7 599.9 632.1 602.6 625.4Z"/>
<path fill="#f59999" d="M570.5 665.5 C577.2 658.1 581.2 652.1 590.6 653.5 C599.9 654.8 605.3 662.2 598.6 669.5 C591.9 676.9 579.9 676.9 570.5 675.5 C561.1 674.2 563.8 672.9 570.5 665.5Z"/>
<path fill="#b46a5b" stroke="#ff84e0" stroke-width="5" stroke-linejoin="round" d="M441.0 406.1 C446.1 386.4 442.4 402.4 456.1 401.1 C469.8 399.7 471.8 395.7 482.2 402.1 C492.6 408.4 484.5 407.4 487.2 420.1 C489.9 432.9 492.6 431.5 490.2 440.2 C487.9 448.9 482.2 438.2 480.2 446.2 C478.2 454.3 487.5 451.6 484.2 464.3 C480.8 477.0 479.5 472.3 470.1 484.4 C460.8 496.4 464.8 493.7 456.1 500.4 C447.4 507.1 449.1 517.8 444.1 504.4 C439.0 491.1 442.0 493.1 441.0 460.3 C440.0 427.5 436.0 425.8 441.0 406.1Z"/>
<path fill="#cb9186" d="M442.0 410.1 C450.1 395.4 456.8 396.1 466.1 406.1 C475.5 416.1 474.2 423.5 470.1 440.2 C466.1 456.9 463.5 452.9 454.1 456.3 C444.7 459.6 446.1 465.6 442.0 450.3 C438.0 434.9 434.0 424.8 442.0 410.1Z"/>
<path fill="#ffffff" stroke="#ff84e0" stroke-width="2" stroke-linejoin="round" d="M470.1 428.2 C473.2 423.8 477.2 423.2 481.2 427.2 C485.2 431.2 485.2 435.9 482.2 440.2 C479.2 444.6 476.2 444.2 472.2 440.2 C468.1 436.2 467.1 432.5 470.1 428.2Z"/>
<path fill="#b46a5b" stroke="#ff84e0" stroke-width="5" stroke-linejoin="round" d="M528.4 438.2 C531.0 431.5 535.7 433.5 542.4 434.2 C549.1 434.9 546.4 434.2 548.4 440.2 C550.4 446.2 553.1 447.6 548.4 452.3 C543.7 456.9 541.1 459.0 534.4 454.3 C527.7 449.6 525.7 444.9 528.4 438.2Z"/>
<path fill="#cb9186" stroke="#ff84e0" stroke-width="4" stroke-linejoin="round" d="M510.8 457.1 C518.5 448.2 520.3 451.2 528.7 453.6 C537.1 455.9 528.7 461.9 535.9 464.3 C543.0 466.7 545.4 438.6 550.2 460.7 C555.0 482.9 569.4 507.4 550.2 530.7 C531.1 554.0 510.8 534.9 492.8 530.7 C474.9 526.5 491.0 528.3 496.4 518.1 C501.8 508.0 506.0 512.8 509.0 500.2 C511.9 487.6 504.8 494.8 505.4 480.5 C506.0 466.1 503.0 466.1 510.8 457.1Z"/>
<path fill="#ff0000" d="M519.7 487.6 C524.5 479.3 525.7 482.9 535.9 476.9 C546.0 470.9 545.4 462.5 550.2 469.7 C555.0 476.9 553.8 486.4 550.2 498.4 C546.6 510.4 539.5 499.6 539.5 505.6 C539.5 511.6 546.6 508.0 550.2 516.3 C553.8 524.7 564.6 525.9 550.2 530.7 C535.9 535.5 519.1 536.7 507.2 530.7 C495.2 524.7 509.6 522.3 514.3 512.8 C519.1 503.2 519.7 510.4 521.5 502.0 C523.3 493.6 514.9 496.0 519.7 487.6Z"/>
<path fill="#ffffff" stroke="#ff84e0" stroke-width="2" stroke-linejoin="round" d="M530.4 460.3 C532.4 456.6 535.4 456.6 538.4 459.3 C541.4 462.0 541.4 464.6 539.4 468.3 C537.4 472.0 535.4 473.0 532.4 470.3 C529.4 467.6 528.4 464.0 530.4 460.3Z"/>
<path fill="#cb9186" stroke="#ff84e0" stroke-width="3" stroke-linejoin="round" d="M552.6 462.8 C557.3 444.9 556.7 462.2 566.9 461.0 C577.1 459.8 577.1 458.0 583.1 459.2 C589.0 460.4 587.8 460.4 584.9 464.6 C581.9 468.8 574.7 467.0 574.1 471.8 C573.5 476.5 580.7 474.2 583.1 478.9 C585.4 483.7 585.4 484.3 581.3 486.1 C577.1 487.9 575.9 481.9 570.5 484.3 C565.1 486.7 568.7 485.5 565.1 493.3 C561.5 501.1 563.9 500.5 559.7 507.6 C555.5 514.8 555.0 529.8 552.6 514.8 C550.2 499.9 547.8 480.7 552.6 462.8Z"/>
<path fill="#ffffff" d="M626.1 494.2 C630.2 480.7 632.0 487.9 638.3 491.5 C644.6 495.1 640.3 496.3 645.0 505.0 C649.6 513.6 647.9 508.5 652.1 517.5 C656.3 526.5 666.2 527.1 657.5 531.9 C648.8 536.6 636.6 544.4 626.1 531.9 C615.6 519.3 622.0 507.6 626.1 494.2Z"/>
<path fill="none" stroke="#ff84e0" stroke-width="3" stroke-linejoin="round" d="M638.3 491.5 C640.5 496.0 640.3 496.3 645.0 505.0 C649.6 513.6 647.9 508.5 652.1 517.5 C656.3 526.5 655.7 527.1 657.5 531.9"/>
<path fill="#ffffff" stroke="#e2c2e8" stroke-width="3" stroke-linejoin="round" d="M627.9 470.9 C634.5 465.2 636.3 469.3 647.6 469.1 C659.0 468.9 655.3 468.2 662.0 470.3 C668.7 472.4 667.7 472.0 667.7 475.3 C667.7 478.7 667.5 479.2 662.0 480.4 C656.5 481.6 658.4 477.6 651.2 478.9 C644.1 480.3 648.2 481.9 640.5 484.3 C632.7 486.7 632.1 490.6 627.9 486.1 C623.7 481.6 621.3 476.5 627.9 470.9Z"/>
<path fill="#ff84e0" stroke="#ff58e8" stroke-width="2" stroke-linejoin="round" d="M643.2 536.3 C647.9 532.2 647.9 534.0 656.6 534.6 C665.3 535.2 665.6 532.2 669.2 538.1 C672.8 544.1 673.4 547.1 667.4 552.5 C661.4 557.9 659.6 556.1 651.2 554.3 C642.9 552.5 645.0 553.1 642.3 547.1 C639.6 541.1 638.4 540.5 643.2 536.3Z"/>
<path fill="#ffffff" d="M656.6 539.0 C658.7 536.9 661.4 536.9 663.8 539.0 C666.2 541.1 665.9 543.2 663.8 545.3 C661.7 547.4 659.9 547.4 657.5 545.3 C655.1 543.2 654.5 541.1 656.6 539.0Z"/>
<path fill="#fb3434" d="M438.0 520.5 C446.7 516.5 450.1 517.8 464.1 520.5 C478.2 523.2 474.8 524.5 480.2 528.5 C485.5 532.5 494.2 531.2 480.2 532.5 C466.1 533.9 452.1 536.6 438.0 532.5 C424.0 528.5 429.3 524.5 438.0 520.5Z"/>
<path fill="#9c4430" d="M636.7 444.2 C641.4 439.9 646.4 440.9 652.8 444.2 C659.2 447.6 660.5 449.9 655.8 454.3 C651.1 458.6 645.1 460.6 638.8 457.3 C632.4 453.9 632.1 448.6 636.7 444.2Z"/>
<path fill="#9c4430" d="M660.8 438.2 C668.9 433.5 677.6 430.2 686.9 428.2 C696.3 426.2 697.0 427.5 688.9 432.2 C680.9 436.9 672.2 440.2 662.8 442.2 C653.5 444.2 652.8 442.9 660.8 438.2Z"/>
<path fill="#9c4430" d="M688.9 426.2 C692.9 416.5 699.6 406.4 705.0 423.2 C710.3 439.9 709.7 459.3 705.0 476.3 C700.3 493.4 695.0 482.4 690.9 474.3 C686.9 466.3 693.6 468.3 692.9 452.3 C692.3 436.2 684.9 435.9 688.9 426.2Z"/>
<path fill="#ffb0dc" stroke="#e2c2e8" stroke-width="2" stroke-linejoin="round" d="M332.3 395.8 C337.4 392.2 341.8 391.6 353.8 394.0 C365.7 396.4 359.8 395.2 368.1 402.9 C376.5 410.7 368.1 410.7 378.9 417.3 C389.7 423.9 398.0 417.9 400.4 422.7 C402.8 427.4 394.4 424.4 386.1 431.6 C377.7 438.8 383.7 440.0 375.3 444.2 C366.9 448.4 369.9 446.0 361.0 444.2 C352.0 442.4 352.9 447.2 348.4 438.8 C343.9 430.4 350.8 430.4 347.5 419.1 C344.2 407.7 343.6 412.5 338.6 404.7 C333.5 397.0 327.2 399.3 332.3 395.8Z"/>
<path fill="#ff84e0" d="M341.2 397.6 C344.2 393.4 347.2 394.6 353.8 399.3 C360.4 404.1 361.0 404.7 361.0 411.9 C361.0 419.1 359.2 420.9 353.8 420.9 C348.4 420.9 349.0 419.7 344.8 411.9 C340.6 404.1 338.3 401.7 341.2 397.6Z"/>
<path fill="#ffffff" d="M359.2 420.9 C361.6 416.7 365.7 416.1 369.9 419.1 C374.1 422.1 374.1 425.6 371.7 429.8 C369.3 434.0 366.9 434.6 362.8 431.6 C358.6 428.6 356.8 425.0 359.2 420.9Z"/>
<path fill="#ffffff" d="M377.1 420.9 C378.9 418.8 384.9 420.6 386.1 423.6 C387.3 426.5 383.7 430.7 380.7 429.8 C377.7 428.9 375.3 423.0 377.1 420.9Z"/>
<path fill="#b46a5b" stroke="#ff84e0" stroke-width="3" stroke-linejoin="round" d="M317.9 446.0 C323.9 443.0 320.9 440.0 326.9 438.8 C332.9 437.6 329.9 440.6 335.9 442.4 C341.8 444.2 337.1 443.0 344.8 444.2 C352.6 445.4 353.8 443.6 359.2 446.0 C364.6 448.4 364.0 447.8 361.0 451.3 C358.0 454.9 355.6 452.5 350.2 456.7 C344.8 460.9 346.0 457.9 344.8 463.9 C343.6 469.9 349.6 469.9 346.6 474.7 C343.6 479.4 343.0 478.2 335.9 478.2 C328.7 478.2 330.5 479.4 325.1 474.7 C319.7 469.9 324.5 469.9 319.7 463.9 C314.9 457.9 314.3 462.1 310.8 456.7 C307.2 451.3 306.6 451.3 309.0 447.8 C311.4 444.2 312.0 449.0 317.9 446.0Z"/>
<path fill="#b46a5b" stroke="#ff84e0" stroke-width="2" stroke-linejoin="round" d="M323.3 429.8 C322.7 421.5 321.5 422.7 325.1 413.7 C328.7 404.7 329.6 405.9 334.1 402.9 C338.6 399.9 338.6 399.9 338.6 404.7 C338.6 409.5 335.6 408.9 334.1 417.3 C332.6 425.6 333.5 421.5 334.1 429.8 C334.7 438.2 338.3 439.4 335.9 442.4 C333.5 445.4 331.1 443.0 326.9 438.8 C322.7 434.6 323.9 438.2 323.3 429.8Z"/>
<path fill="#b46a5b" stroke="#ff84e0" stroke-width="2" stroke-linejoin="round" d="M338.6 420.9 C340.3 413.1 341.8 413.1 344.8 419.1 C347.8 425.0 347.5 430.4 347.5 438.8 C347.5 447.2 347.5 443.0 344.8 444.2 C342.1 445.4 341.5 450.1 339.4 442.4 C337.4 434.6 336.8 428.6 338.6 420.9Z"/>
<path fill="#b46a5b" stroke="#ff84e0" stroke-width="2" stroke-linejoin="round" d="M307.2 429.8 C309.0 423.9 309.6 424.4 314.3 426.2 C319.1 428.0 320.3 428.6 321.5 435.2 C322.7 441.8 322.1 443.0 317.9 446.0 C313.7 449.0 312.6 449.6 309.0 444.2 C305.4 438.8 305.4 435.8 307.2 429.8Z"/>
<path fill="#cb9186" d="M323.3 451.3 C326.9 446.6 329.9 446.6 335.9 449.6 C341.8 452.5 341.8 453.7 341.2 460.3 C340.6 466.9 339.4 468.1 334.1 469.3 C328.7 470.5 328.7 469.9 325.1 463.9 C321.5 457.9 319.7 456.1 323.3 451.3Z"/>
<path fill="#b46a5b" stroke="#ff84e0" stroke-width="3" stroke-linejoin="round" d="M335.9 485.4 C337.1 484.2 338.9 491.4 346.6 492.6 C354.4 493.8 352.0 486.6 359.2 489.0 C366.3 491.4 361.6 495.0 368.1 499.8 C374.7 504.5 372.9 505.7 378.9 503.3 C384.9 501.0 381.3 498.6 386.1 492.6 C390.8 486.6 388.5 491.4 393.2 485.4 C398.0 479.4 395.6 475.8 400.4 474.7 C405.2 473.5 407.0 475.8 407.6 481.8 C408.2 487.8 401.0 487.8 402.2 492.6 C403.4 497.4 406.4 497.4 411.2 496.2 C416.0 495.0 411.8 490.2 416.6 489.0 C421.3 487.8 418.9 490.2 425.5 492.6 C432.1 495.0 432.7 489.0 436.3 496.2 C439.9 503.3 439.9 509.3 436.3 514.1 C432.7 518.9 433.9 510.5 425.5 510.5 C417.1 510.5 420.7 514.1 411.2 514.1 C401.6 514.1 405.2 509.3 396.8 510.5 C388.5 511.7 393.2 516.5 386.1 517.7 C378.9 518.9 382.5 516.5 375.3 514.1 C368.1 511.7 371.7 514.1 364.6 510.5 C357.4 506.9 361.0 508.1 353.8 503.3 C346.6 498.6 349.0 502.1 343.0 496.2 C337.1 490.2 334.7 486.6 335.9 485.4Z"/>
<path fill="#cb9186" d="M368.1 501.6 C370.5 500.4 371.7 505.7 378.9 505.1 C386.1 504.5 382.5 501.0 389.7 499.8 C396.8 498.6 398.0 498.6 400.4 501.6 C402.8 504.5 402.8 505.1 396.8 508.7 C390.8 512.3 390.8 512.3 382.5 512.3 C374.1 512.3 376.5 512.3 371.7 508.7 C366.9 505.1 365.7 502.7 368.1 501.6Z"/>
<path fill="#ffaa55" d="M413.5 548.7 C414.7 534.9 411.1 536.7 417.1 529.0 C423.0 521.2 424.8 521.2 431.4 525.4 C438.0 529.6 435.6 525.4 436.8 541.5 C438.0 557.7 439.2 560.7 435.0 573.8 C430.8 587.0 431.4 582.2 424.2 581.0 C417.1 579.8 417.1 581.0 413.5 570.2 C409.9 559.5 412.3 562.4 413.5 548.7Z"/>
<path fill="#ffb0dc" stroke="#ff58e8" stroke-width="2" stroke-linejoin="round" d="M287.5 267.5 C290.8 259.2 295.0 264.2 300.0 255.0 C305.0 245.8 297.5 247.1 302.5 240.0 C307.5 232.9 305.8 233.8 315.0 233.8 C324.2 233.8 318.3 234.6 330.0 240.0 C341.7 245.4 338.3 242.5 350.0 250.0 C361.7 257.5 357.9 254.2 365.0 262.5 C372.1 270.8 371.2 269.2 371.2 275.0 C371.2 280.8 372.1 276.7 365.0 280.0 C357.9 283.3 360.0 280.8 350.0 285.0 C340.0 289.2 346.7 289.2 335.0 292.5 C323.3 295.8 328.3 295.0 315.0 295.0 C301.7 295.0 303.3 297.5 295.0 292.5 C286.7 287.5 292.5 288.3 290.0 280.0 C287.5 271.7 284.2 275.8 287.5 267.5Z"/>
<path fill="#ff58e8" d="M322.5 242.5 C327.5 240.0 330.0 243.3 340.0 247.5 C350.0 251.7 349.2 249.2 352.5 255.0 C355.8 260.8 355.8 262.5 350.0 265.0 C344.2 267.5 343.3 265.8 335.0 262.5 C326.7 259.2 329.2 261.7 325.0 255.0 C320.8 248.3 317.5 245.0 322.5 242.5Z"/>
<path fill="#cb9186" d="M303.8 240.0 C306.2 231.7 308.8 233.3 315.0 237.5 C321.2 241.7 317.5 242.5 322.5 252.5 C327.5 262.5 324.2 260.8 330.0 267.5 C335.8 274.2 337.5 268.8 340.0 272.5 C342.5 276.2 344.2 277.9 337.5 278.8 C330.8 279.6 330.0 280.4 320.0 275.0 C310.0 269.6 312.9 274.2 307.5 262.5 C302.1 250.8 301.2 248.3 303.8 240.0Z"/>
<path fill="#9c4430" d="M312.5 240.0 C314.6 237.1 317.1 236.7 320.0 240.0 C322.9 243.3 323.3 247.1 321.2 250.0 C319.2 252.9 316.7 252.1 313.8 248.8 C310.8 245.4 310.4 242.9 312.5 240.0Z"/>
<path fill="#9c4430" d="M295.0 287.5 C298.3 282.9 295.8 282.9 307.5 280.0 C319.2 277.1 322.5 276.2 330.0 278.8 C337.5 281.2 335.0 282.9 330.0 287.5 C325.0 292.1 325.8 290.4 315.0 292.5 C304.2 294.6 304.2 295.4 297.5 293.8 C290.8 292.1 291.7 292.1 295.0 287.5Z"/>
<path fill="#9c4430" d="M340.0 262.5 C345.8 260.0 352.5 258.8 360.0 260.0 C367.5 261.2 368.3 263.8 362.5 266.2 C356.7 268.8 350.0 268.8 342.5 267.5 C335.0 266.2 334.2 265.0 340.0 262.5Z"/>
<path fill="none" stroke="#ff58e8" stroke-width="2" stroke-linejoin="round" d="M315.0 198.8 C315.4 203.3 318.8 202.1 316.2 212.5 C313.8 222.9 312.1 220.8 307.5 230.0 C302.9 239.2 304.2 236.7 302.5 240.0"/>
<path fill="none" stroke="#ff58e8" stroke-width="1.5" stroke-linejoin="round" d="M316.2 212.5 C320.8 216.7 320.4 221.7 330.0 225.0 C339.6 228.3 340.0 223.3 345.0 222.5"/>
<path fill="none" stroke="#ff58e8" stroke-width="1.5" stroke-linejoin="round" d="M345.0 222.5 L365.0 232.5"/>
<path fill="none" stroke="#ff58e8" stroke-width="1.5" stroke-linejoin="round" d="M375.0 267.5 C379.2 266.7 380.8 262.5 387.5 265.0 C394.2 267.5 392.5 271.7 395.0 275.0"/>
<path fill="#cc98d8" d="M235.0 292.5 C240.0 284.6 243.8 288.8 248.8 291.2 C253.8 293.8 252.9 292.1 250.0 300.0 C247.1 307.9 245.4 310.0 240.0 315.0 C234.6 320.0 235.4 322.5 233.8 315.0 C232.1 307.5 230.0 300.4 235.0 292.5Z"/>
<path fill="none" stroke="#ff84e0" stroke-width="2" stroke-linejoin="round" d="M277.5 292.5 C280.0 295.0 285.0 292.5 285.0 300.0 C285.0 307.5 280.0 310.0 277.5 315.0"/>
<path fill="none" stroke="#ff84e0" stroke-width="2" stroke-linejoin="round" d="M292.5 300.0 C294.2 304.2 289.2 308.3 297.5 312.5 C305.8 316.7 311.7 309.2 317.5 312.5 C323.3 315.8 315.8 319.2 315.0 322.5"/>
<path fill="none" stroke="#ff84e0" stroke-width="3" stroke-linejoin="round" d="M337.5 280.0 L330.0 292.5"/>
<path fill="#ffb0dc" stroke="#e2c2e8" stroke-width="3" stroke-linejoin="round" d="M212.5 345.0 C219.2 333.3 218.3 338.3 230.0 340.0 C241.7 341.7 240.8 340.0 247.5 350.0 C254.2 360.0 250.8 357.5 250.0 370.0 C249.2 382.5 256.7 380.8 245.0 387.5 C233.3 394.2 226.7 394.2 215.0 390.0 C203.3 385.8 210.8 390.0 210.0 375.0 C209.2 360.0 205.8 356.7 212.5 345.0Z"/>
<path fill="#ffffff" d="M217.5 355.0 C220.0 349.2 223.3 349.2 227.5 352.5 C231.7 355.8 232.5 359.2 230.0 365.0 C227.5 370.8 224.2 373.3 220.0 370.0 C215.8 366.7 215.0 360.8 217.5 355.0Z"/>
<path fill="#b46a5b" d="M225.0 375.0 C229.6 372.5 234.6 372.9 240.0 375.0 C245.4 377.1 245.8 378.8 241.2 381.2 C236.7 383.8 231.7 384.6 226.2 382.5 C220.8 380.4 220.4 377.5 225.0 375.0Z"/>
<path fill="#ff84e0" stroke="#e2c2e8" stroke-width="3" stroke-linejoin="round" d="M337.5 372.5 C340.8 361.7 341.7 365.8 350.0 355.0 C358.3 344.2 355.8 348.3 362.5 340.0 C369.2 331.7 366.7 326.7 370.0 330.0 C373.3 333.3 372.5 336.7 372.5 350.0 C372.5 363.3 374.2 358.3 370.0 370.0 C365.8 381.7 370.0 379.2 360.0 385.0 C350.0 390.8 347.5 391.7 340.0 387.5 C332.5 383.3 334.2 383.3 337.5 372.5Z"/>
<path fill="#e2c2e8" d="M345.0 355.0 C348.3 349.2 354.2 349.2 360.0 352.5 C365.8 355.8 365.8 359.2 362.5 365.0 C359.2 370.8 355.8 373.3 350.0 370.0 C344.2 366.7 341.7 360.8 345.0 355.0Z"/>
<path fill="#ffb0dc" stroke="#e2c2e8" stroke-width="3" stroke-linejoin="round" d="M362.5 320.0 C367.5 311.7 370.8 311.7 380.0 315.0 C389.2 318.3 383.3 320.0 390.0 330.0 C396.7 340.0 391.7 336.7 400.0 345.0 C408.3 353.3 404.2 349.2 415.0 355.0 C425.8 360.8 425.0 355.8 432.5 362.5 C440.0 369.2 438.3 368.3 437.5 375.0 C436.7 381.7 439.2 380.8 430.0 382.5 C420.8 384.2 423.3 384.2 410.0 380.0 C396.7 375.8 401.7 378.3 390.0 370.0 C378.3 361.7 383.3 365.0 375.0 355.0 C366.7 345.0 369.2 351.7 365.0 340.0 C360.8 328.3 357.5 328.3 362.5 320.0Z"/>
<path fill="#9c4430" d="M365.0 327.5 C367.1 322.5 369.2 320.8 375.0 325.0 C380.8 329.2 375.8 330.8 382.5 340.0 C389.2 349.2 385.8 345.8 395.0 352.5 C404.2 359.2 400.0 355.8 410.0 360.0 C420.0 364.2 419.2 360.4 425.0 365.0 C430.8 369.6 432.5 370.8 427.5 373.8 C422.5 376.7 421.7 376.7 410.0 373.8 C398.3 370.8 403.3 372.1 392.5 365.0 C381.7 357.9 385.4 360.8 377.5 352.5 C369.6 344.2 372.9 348.3 368.8 340.0 C364.6 331.7 362.9 332.5 365.0 327.5Z"/>
<path fill="#cb9186" d="M390.0 355.0 C395.8 355.8 396.7 358.3 407.5 362.5 C418.3 366.7 418.3 364.6 422.5 367.5 C426.7 370.4 426.7 371.2 420.0 371.2 C413.3 371.2 412.5 371.2 402.5 367.5 C392.5 363.8 394.2 364.2 390.0 360.0 C385.8 355.8 384.2 354.2 390.0 355.0Z"/>
<path fill="#ff84e0" d="M447.5 390.0 C453.3 385.8 451.7 386.7 465.0 387.5 C478.3 388.3 480.0 388.3 487.5 392.5 C495.0 396.7 500.8 397.5 487.5 400.0 C474.2 402.5 460.8 403.3 447.5 400.0 C434.2 396.7 441.7 394.2 447.5 390.0Z"/>
<path fill="#e2c2e8" d="M557.5 287.5 C559.2 280.0 565.0 282.5 580.0 275.0 C595.0 267.5 587.5 269.2 602.5 265.0 C617.5 260.8 612.5 266.7 625.0 262.5 C637.5 258.3 630.0 260.4 640.0 252.5 C650.0 244.6 650.8 238.8 655.0 238.8 C659.2 238.8 656.7 242.9 652.5 252.5 C648.3 262.1 645.8 256.7 642.5 267.5 C639.2 278.3 645.8 274.2 642.5 285.0 C639.2 295.8 640.0 293.3 632.5 300.0 C625.0 306.7 626.7 305.8 620.0 305.0 C613.3 304.2 614.2 304.2 612.5 297.5 C610.8 290.8 619.2 290.8 615.0 285.0 C610.8 279.2 610.0 280.0 600.0 280.0 C590.0 280.0 593.3 279.2 585.0 285.0 C576.7 290.8 584.2 296.7 575.0 297.5 C565.8 298.3 555.8 295.0 557.5 287.5Z"/>
<path fill="#ff58e8" d="M592.5 272.5 C594.2 268.3 601.7 269.2 615.0 265.0 C628.3 260.8 625.0 259.2 632.5 260.0 C640.0 260.8 640.0 260.8 637.5 267.5 C635.0 274.2 634.2 276.7 625.0 280.0 C615.8 283.3 620.8 280.0 610.0 277.5 C599.2 275.0 590.8 276.7 592.5 272.5Z"/>
<path fill="#e2c2e8" d="M545.0 228.8 C550.0 228.8 554.2 229.2 565.0 233.8 C575.8 238.3 572.5 232.9 577.5 242.5 C582.5 252.1 581.2 255.8 580.0 262.5 C578.8 269.2 577.9 267.5 573.8 262.5 C569.6 257.5 575.4 257.1 567.5 247.5 C559.6 237.9 557.5 240.0 550.0 233.8 C542.5 227.5 540.0 228.8 545.0 228.8Z"/>
<path fill="#ff58e8" d="M565.0 240.0 C566.2 236.7 569.2 237.5 572.5 242.5 C575.8 247.5 576.2 251.7 575.0 255.0 C573.8 258.3 572.1 257.5 568.8 252.5 C565.4 247.5 563.8 243.3 565.0 240.0Z"/>
<path fill="#e2c2e8" d="M600.0 216.2 C604.2 215.8 610.8 217.9 615.0 221.2 C619.2 224.6 616.7 225.8 612.5 226.2 C608.3 226.7 606.7 225.8 602.5 222.5 C598.3 219.2 595.8 216.7 600.0 216.2Z"/>
<path fill="#ff84e0" stroke="#e2c2e8" stroke-width="2" stroke-linejoin="round" d="M562.5 310.0 C563.3 305.0 564.2 305.0 570.0 310.0 C575.8 315.0 574.2 316.7 580.0 325.0 C585.8 333.3 589.2 330.8 587.5 335.0 C585.8 339.2 581.7 340.8 575.0 337.5 C568.3 334.2 571.7 334.2 567.5 325.0 C563.3 315.8 561.7 315.0 562.5 310.0Z"/>
<path fill="#e2c2e8" d="M612.5 307.5 C617.5 303.8 625.0 301.2 630.0 306.2 C635.0 311.2 631.7 314.6 627.5 322.5 C623.3 330.4 621.7 331.7 617.5 330.0 C613.3 328.3 616.7 325.0 615.0 317.5 C613.3 310.0 607.5 311.2 612.5 307.5Z"/>
<path fill="#ff84e0" d="M565.0 352.5 C567.5 350.0 570.8 350.0 573.8 352.5 C576.7 355.0 576.2 357.5 573.8 360.0 C571.2 362.5 569.2 362.5 566.2 360.0 C563.3 357.5 562.5 355.0 565.0 352.5Z"/></g></g>
<path d="M1135 879 L1146 878.5 M1152 878 L1166 875 M1170 873 L1181 869 M1184 866 L1190 861 M1191 858 L1195 853" stroke="#ccff00" stroke-width="3" fill="none" stroke-linecap="round"/>
<g fill="none" stroke="#000" stroke-width="3.9" stroke-linejoin="round" stroke-linecap="round" filter="url(#wig)">
<path d="M861.0 195.8 L861.0 185.2 L868.4 186.6 L871.5 199.2 L873.3 203.6 L881.2 205.3 L891.2 209.0 L900.2 206.7 L910.2 206.4 L918.1 211.2 L924.8 214.6 L931.5 216.2 L943.1 221.8 L949.4 221.0 L956.1 217.4 L967.3 221.0 L976.2 221.0 L981.8 223.2 L988.3 223.8 L978.5 230.0 L965.1 233.6 L953.9 243.4 L942.7 251.2 L931.5 257.4 L929.3 259.6 L932.6 260.2 L942.7 258.2 L949.4 255.4 L957.2 252.9 L959.5 258.0 L956.1 263.0 L961.7 263.0 L966.8 263.8 L974.0 260.8 L985.2 256.6 L994.1 256.0 L1000.8 250.4 L1009.8 244.0 L1016.5 240.0 L1026.6 238.6 L1023.2 243.4 L1016.5 246.2 L1012.0 251.8 L1010.9 257.4 L1016.5 254.0 L1027.7 256.0 L1034.4 264.4 L1043.3 265.8 L1052.3 267.2 L1061.2 261.6 L1070.2 260.8 L1081.4 259.6 L1088.1 258.2 L1089.2 265.8 L1097.0 266.6 L1102.6 265.8 L1107.1 271.4 L1111.6 277.8 L1120.5 277.0 L1119.4 281.2 L1110.5 281.2 L1101.5 280.4 L1094.4 283.7 L1088.1 279.0 L1076.9 277.6 L1065.7 281.2 L1057.9 285.4 L1052.3 290.2 L1048.9 285.4 L1043.3 287.6 L1040.0 293.8 L1034.4 299.4 L1029.9 305.0 L1026.6 309.2 L1021.0 319.0 L1023.2 318.4 L1031.0 310.6 L1038.9 302.2 L1043.3 299.4 L1041.1 305.0 L1035.5 313.4 L1031.0 326.0 L1027.7 338.6 L1026.6 347.0 L1023.2 358.2 L1024.3 369.4 L1025.5 378.1 L1025.5 386.2 L1029.5 396.0 L1031.7 400.2 L1036.6 402.4 L1043.3 400.8 L1047.4 398.5 L1052.3 393.2 L1056.8 384.8 L1060.1 373.6 L1060.8 363.8 L1056.8 352.6 L1054.1 342.8 L1055.7 333.0 L1060.1 321.8 L1061.2 314.8 L1064.6 310.0 L1071.3 306.4 L1074.7 302.8 L1074.7 312.0 L1076.9 313.4 L1079.1 303.6 L1082.5 298.8 L1088.1 297.4 L1087.0 290.4 L1090.3 286.8 L1094.1 286.0 L1103.7 289.6 L1112.7 294.4 L1122.8 298.6 L1126.1 306.4 L1123.9 310.6 L1126.1 319.0 L1125.0 327.4 L1119.4 334.4 L1112.7 338.6 L1112.7 345.6 L1119.4 346.4 L1125.0 338.6 L1133.9 333.8 L1140.7 340.0 L1143.6 352.6 L1145.8 363.8 L1144.0 373.6 L1137.3 376.4 L1135.1 382.0 L1130.1 384.8 L1128.4 391.8 L1122.8 399.4 L1130.6 402.4 L1137.3 405.8 L1144.0 408.6 L1155.2 405.8 L1161.9 405.8 L1170.9 399.6 L1179.8 395.4 L1188.3 392.4 L1197.7 387.6 L1205.3 384.2 L1215.6 377.8 L1222.3 371.6 L1225.2 366.6 L1221.9 361.0 L1221.2 356.2 L1233.5 353.4 L1244.7 353.4 L1253.6 356.8 L1262.6 356.0 L1271.5 354.8 L1280.5 349.8 L1284.9 347.0 L1283.8 337.2 L1280.5 333.0 L1289.4 326.6 L1296.1 320.4 L1305.1 312.6 L1312.9 308.4 L1318.1 307.8 M1390.1 307.5 L1392.3 301.6 L1397.9 300.0 L1403.5 300.8 L1405.3 296.6 L1407.5 295.2 L1411.3 289.0 L1414.7 286.0 L1416.9 278.4 L1418.0 271.4 L1422.5 268.0 L1423.6 260.2 M1440.9 238.9 L1444.9 240.0 L1444.9 244.8 L1448.2 246.8 L1457.2 243.7 L1461.7 241.7 L1468.4 244.2 L1473.1 249.8 M1473.1 281.2 L1474.0 285.4 L1480.7 291.0 L1481.4 297.4 L1480.0 303.0 L1486.3 303.0 L1490.7 310.6 L1491.4 313.4 L1486.3 318.4 L1477.3 321.8 L1468.4 325.2 L1461.7 328.8 L1456.1 327.4 L1450.5 323.2 L1447.1 330.2 L1443.8 335.8 L1434.8 340.0 L1428.1 342.8 L1419.2 345.6 L1415.8 351.2 L1411.3 358.2 L1408.0 361.6 L1405.3 367.4 L1409.8 373.0 L1404.6 377.2 L1400.6 382.6 L1406.9 386.2 L1409.1 393.2 L1412.0 398.0 L1418.0 399.4 L1423.6 397.4 L1422.1 391.0 L1419.2 389.6 L1424.8 394.6 L1424.8 401.0 L1416.9 402.4 L1409.1 405.0 L1407.5 400.2 L1402.4 404.4 L1398.6 405.8 L1396.8 401.6 L1392.8 398.8 L1391.9 405.8 L1390.1 409.4 L1382.0 411.1 L1372.2 412.2 L1358.8 412.8 L1349.8 416.4 L1342.0 419.8 L1338.6 424.6 L1335.3 426.0 L1333.7 428.2 L1329.7 430.4 L1328.6 434.4 L1334.2 435.2 L1334.2 442.2 L1331.9 454.8 L1325.2 465.2 L1318.5 473.0 L1312.9 477.8 L1314.0 470.8 L1305.1 467.4 L1299.5 461.8 L1299.5 457.6 L1302.8 453.4 L1298.4 458.4 L1299.5 464.6 L1302.8 470.2 L1304.0 475.8 L1309.6 481.4 L1310.7 491.2 L1308.4 498.2 L1306.2 503.0 L1300.6 512.2 L1293.9 522.0 L1290.5 528.4 L1289.4 522.0 L1292.8 513.6 L1297.2 505.2 L1292.8 501.0 L1288.3 496.8 L1282.7 492.6 L1284.9 484.2 L1282.7 477.2 L1286.1 470.2 L1289.4 461.8 L1287.2 460.4 L1281.6 466.0 L1278.2 470.2 L1279.4 477.2 L1277.1 484.2 L1279.4 494.0 L1282.3 502.4 L1276.0 498.2 L1268.2 496.0 L1261.5 492.6 L1265.9 487.0 L1266.4 480.0 L1264.8 485.6 L1260.3 491.2 L1263.7 495.4 L1269.3 498.2 L1277.1 502.4 L1284.0 506.9 L1281.6 513.6 L1282.7 516.4 L1277.1 513.6 L1282.7 520.6 L1280.5 524.8 L1274.9 523.4 L1280.5 529.0 L1282.7 531.8 L1277.1 529.0 L1279.4 533.8 L1283.8 533.8 L1289.4 533.8 L1290.5 540.2 L1292.3 544.4 L1290.5 551.4 L1287.2 555.6 L1278.2 558.4 L1287.2 559.8 L1292.8 561.2 L1295.0 571.0 L1289.4 576.6 L1278.2 575.2 L1276.0 582.2 L1280.5 587.8 L1272.6 589.2 L1277.6 597.6 L1264.8 597.6 L1255.9 604.6 L1249.2 613.0 L1245.8 619.4 L1232.4 620.0 L1224.5 625.6 L1219.0 635.4 L1214.5 642.4 L1202.2 652.2 L1191.0 659.2 L1185.4 664.8 L1180.9 671.0 L1175.3 678.8 L1172.0 688.6 L1168.6 699.8 L1167.5 707.6 L1168.6 718.0 L1170.9 730.6 L1175.3 744.6 L1179.8 754.4 L1186.5 767.0 L1187.6 774.0 L1191.0 792.2 L1195.5 806.2 L1199.3 817.4 L1198.4 834.2 L1197.0 845.4 L1193.2 856.6 L1189.9 862.2 L1180.9 863.6 L1175.3 864.2 L1173.1 855.2 L1168.6 845.4 L1159.7 837.0 L1156.3 825.8 L1150.7 818.8 L1146.3 810.4 L1141.8 800.6 L1139.1 793.6 L1144.0 788.0 L1137.3 786.6 L1137.3 778.2 L1140.7 767.0 L1139.5 757.2 L1131.7 751.6 L1123.9 740.4 L1119.4 732.0 L1110.5 725.6 L1102.6 727.8 L1101.5 730.6 L1090.3 735.6 L1080.3 737.0 L1079.1 732.0 L1072.4 723.6 L1061.2 718.0 L1050.1 716.6 L1038.9 718.6 L1031.7 720.0 L1025.5 721.4 L1021.0 719.4 L1023.2 711.0 L1019.9 708.8 L1017.6 718.0 L1012.0 717.4 L1003.1 717.2 L991.9 718.8 L985.2 722.8 L980.7 726.4 L988.5 727.8 L991.9 734.8 L985.2 739.0 L990.8 746.0 L997.5 750.2 L995.3 755.8 L989.7 757.2 L988.5 750.2 L980.7 747.4 L975.1 750.8 L969.5 753.6 L960.6 754.4 L953.9 751.6 L947.2 747.4 L940.4 740.4 L933.7 734.8 L927.0 740.4 L915.8 739.0 L904.7 734.2 L890.1 736.2 L877.8 741.8 L870.0 746.0 L861.0 754.4 L851.0 762.8 L837.5 771.2 L826.4 778.2 L818.5 788.0 L812.9 796.4 L810.7 809.0 L811.8 823.0 L815.2 834.2 L816.3 840.9 L810.7 844.0 L804.0 839.0 L792.8 837.8 L781.6 832.8 L772.7 828.0 L769.3 816.0 L764.8 810.4 L763.7 797.8 L758.1 790.8 L750.3 779.6 L745.8 775.4 L741.4 764.2 L738.0 753.0 L732.4 746.0 L723.5 739.0 L720.1 734.2 L707.8 733.4 L700.0 731.2 L692.1 736.2 L688.8 746.0 L682.1 756.4 L672.0 751.6 L663.1 747.4 L654.1 740.4 L647.4 729.2 L642.9 712.4 L631.7 703.2 L619.4 690.0 L609.4 679.6 L606.5 678.0 M568.9 678.0 L568.9 690.6 M421.2 658.1 L423.3 651.6 M369.6 657.0 L366.7 648.0 L364.4 638.2 L356.6 629.8 L347.6 623.6 L340.9 622.8 L338.7 615.0 L329.7 614.4 L321.9 610.2 L314.1 604.0 L305.1 602.9 L294.6 603.2 L291.0 599.0 L290.6 589.2 L290.6 583.6 L285.7 578.0 L279.4 569.6 L272.7 563.2 L264.9 554.2 L262.0 543.0 L264.9 537.4 L259.3 533.2 L251.9 527.6 L249.2 517.8 L249.2 510.0 L244.7 506.6 L238.0 503.8 L238.5 495.4 L230.2 488.4 L222.4 478.0 L220.1 464.6 L219.0 452.0 L213.4 445.0 L206.7 435.2 L212.3 425.4 L213.4 414.2 L213.4 403.0 L211.0 391.8 L206.7 380.6 L203.4 368.3 L207.8 355.4 L212.3 341.4 L213.4 327.4 L214.5 313.4 L216.3 299.4 L216.8 285.4 L216.1 274.2 L214.5 271.4 L214.5 261.6 L213.4 254.6 L210.1 246.2 L205.6 233.6 L200.0 222.4 L199.3 213.2 L208.9 216.8 L220.1 219.6 L231.3 220.4 L240.3 221.0 L243.6 219.6 L245.9 226.6 L239.1 235.0 L235.8 242.0 L240.3 249.0 L248.1 246.2 L251.5 237.8 L251.5 230.8 L254.8 223.8 L251.5 216.8 L247.0 211.2 L249.2 202.8 L243.4 195.8 L243.4 195.8 M1333.5 431.0 L1340.9 431.6 L1352.1 429.6 L1365.5 425.4 L1374.4 421.2 L1381.6 417.8 L1374.4 418.4 L1372.2 415.6 L1365.5 420.4 L1356.5 420.6 L1345.3 422.0 L1339.8 424.8 L1335.3 427.6 L1333.5 431.0 M215.7 272.8 L226.8 272.8 L235.8 275.0 L240.7 282.6 L242.9 289.6 L251.5 292.4 L262.6 289.0 L271.6 287.9 L279.4 291.0 L290.6 287.4 L300.7 287.1 L313.0 282.6 L320.8 281.8 L328.0 279.8 M371.4 268.0 L373.4 274.2 L374.0 279.8 M374.0 279.8 L377.8 284.8 L383.4 288.2 L383.9 293.8 L379.4 300.8 L375.6 308.4 L371.1 314.8 L367.3 323.2 L370.0 328.2 L374.5 331.6 L371.6 340.8 M425.3 587.8 L426.6 593.4 L430.4 603.2 L436.0 608.0 L430.4 613.0 L427.5 618.6 L427.7 628.4 L423.3 632.6 L424.1 642.4 L428.8 645.2 L425.9 651.4 L423.3 651.6 M425.3 587.8 L425.9 579.4 L424.1 569.6 L422.6 558.4 L430.4 555.6 L438.5 555.6 L438.5 531.8 M393.5 223.8 L400.2 237.8 L410.3 246.2 L419.2 256.0 L425.9 261.6 L432.0 262.4 L429.3 274.2 L427.1 291.0 L432.6 293.8 L439.4 288.8 L443.8 295.2 L450.5 309.2 L459.5 321.8 L465.1 325.2 L477.4 320.4 L488.6 321.2 L496.4 315.6 L499.8 319.0 L505.4 322.4 M604.4 671.8 L604.4 674.6 L606.5 678.0 M752.5 600.1 L759.2 604.6 L766.0 604.0 L770.4 608.8 L776.0 610.2 L783.9 611.6 L790.6 612.4 L795.0 612.4 L798.4 618.6 L805.1 616.6 L815.2 622.0 L820.8 617.8 L828.6 620.0 L835.3 622.8 L844.3 619.4 L853.2 619.4 L859.9 617.2 L868.9 622.8 L876.0 625.9 M876.0 625.9 L882.3 627.8 L885.9 628.4 M885.9 671.8 L890.1 678.8 L895.7 688.6 L896.8 695.6 L893.5 706.8 L892.4 718.0 L893.0 726.4 L890.1 735.6 M872.9 531.8 L872.9 545.8 M972.9 545.8 L974.4 549.2 L968.0 559.8 L982.9 559.8 M873.1 472.4 L867.7 468.8 L863.3 463.2 L866.6 454.8 L862.2 451.4 L857.7 447.8 M857.7 447.8 L852.1 439.4 L847.2 431.6 L845.4 422.6 L843.8 412.8 L839.8 403.0 L838.7 393.2 L834.2 384.8 L832.0 377.8 L826.4 374.4 L819.6 370.2 L809.6 368.0 L799.5 370.0 L792.8 368.0 L786.1 363.8 M832.0 377.8 L829.7 370.8 L832.0 361.0 L828.6 355.4 L832.0 349.8 M832.0 299.4 L825.2 293.8 L823.0 289.6 L829.5 281.5 L828.6 271.4 L824.1 260.2 L824.1 251.8 L822.3 237.8 L818.5 226.6 L816.3 212.6 L814.5 195.8 M937.5 431.0 L944.5 437.2 M929.3 259.6 L925.0 261.3 L925.0 277.0 L915.8 284.0 L911.8 291.0 L917.0 296.6 L914.0 307.8 L913.6 314.8 L920.3 319.8 L931.5 324.6 L938.2 333.0 L947.2 340.0 L948.9 349.8 M948.9 349.8 L949.4 361.0 L951.6 369.4 L960.6 375.0 L961.7 377.8 L967.3 384.8 L972.9 390.4 L971.8 397.4 L967.3 403.6 L956.1 407.8 L952.8 412.8 L953.9 421.2 L951.6 426.8 L944.9 432.4 L944.5 437.2 L942.7 443.6 L944.9 449.8 L949.4 459.0 L956.1 467.4 L960.6 475.8 L963.9 479.4 L971.8 479.2 L972.2 486.2 L968.4 495.4 L971.8 502.4 L978.5 508.0 L986.3 516.4 L987.4 523.4 L990.8 530.4 L995.7 532.4 M995.7 532.4 L995.3 541.6 L990.8 543.0 L987.4 545.8 L986.3 551.4 L982.9 559.8 L978.5 569.6 L974.7 584.2 L969.5 587.8 L963.9 601.8 L956.1 613.0 L951.6 624.2 L949.4 634.0 L950.1 643.8 L952.8 655.0 L956.1 662.8 L951.6 671.8 L944.9 683.0 L940.4 694.2 L940.0 699.8 M982.3 699.8 L979.6 709.6 L982.9 715.2 L985.2 722.8 M966.8 263.8 L973.6 270.3 L996.4 275.9 L1003.1 279.2 L1012.0 280.4 L1018.7 282.0 L1024.3 286.8 L1025.5 296.6 L1028.8 298.0 L1029.9 305.0 M1031.5 466.0 L1028.8 473.0 L1032.2 482.8 L1026.6 491.2 L1022.1 498.2 L1020.3 509.4 M995.7 532.4 L998.6 526.2 L1007.6 529.6 L1010.9 522.0 L1018.7 517.8 L1020.3 509.4 L1029.9 504.6 L1041.1 509.4 L1047.8 504.4 L1054.5 506.0 L1059.0 499.6 L1065.7 504.4 L1071.3 496.2 L1078.0 484.2 L1084.7 484.2 L1092.1 473.0 L1099.3 473.0 L1104.9 480.0 L1116.1 485.6 L1126.1 486.4 L1132.8 483.4 L1141.8 492.0 L1148.5 487.0 L1150.7 480.0 L1159.7 474.4 L1165.3 467.4 L1177.6 459.6 L1180.9 454.8 L1183.8 445.0 L1186.5 435.2 L1188.3 429.9 M1092.1 398.5 L1092.1 400.2 M1019.4 545.8 L1019.4 540.8 M1117.6 543.0 L1130.6 536.0 L1139.5 530.4 L1148.5 523.4 L1155.9 516.7 M1155.9 516.7 L1148.5 512.2 L1145.1 506.6 L1141.8 499.6 L1141.8 492.0 M1155.9 516.7 L1162.4 526.2 L1172.4 524.8 L1179.8 523.4 L1188.8 519.2 L1193.2 516.4 L1195.5 508.0 L1201.1 502.4 L1207.8 488.4 L1215.6 492.0 L1222.3 481.4 L1225.7 481.4 L1235.7 470.2 L1236.8 464.0 L1248.5 472.2 L1250.9 466.8 M1211.6 455.6 L1211.6 470.2 L1220.1 462.6 L1227.9 459.0 L1234.6 460.4 L1240.2 456.8 L1248.0 459.0 L1250.9 466.8 M1250.9 466.8 L1255.9 473.0 L1261.5 476.6 L1264.4 477.8 M1162.4 543.3 L1156.3 551.4 L1153.0 557.0 L1141.8 559.8 L1135.1 561.8 L1130.6 566.2 L1121.6 571.8 L1111.6 575.2 L1109.3 580.2 L1103.3 588.1 M1130.4 587.8 L1138.4 585.8 L1146.3 582.2 M1176.5 583.6 L1176.5 587.0 L1179.1 585.0 L1182.0 592.8 M1130.4 587.8 L1125.0 596.2 L1132.8 602.4 L1138.4 610.2 L1144.0 617.2 L1150.7 625.6 L1156.3 630.6 L1161.9 641.0 L1167.5 648.0 L1170.9 656.4 L1174.2 666.2 L1180.9 671.0 M1084.1 647.4 L1088.1 660.6 L1085.4 674.6 L1087.0 685.8 L1088.1 699.8 M1088.1 699.8 L1091.2 708.2 M1150.5 711.8 L1151.8 718.0 L1154.8 716.6 L1155.2 706.8 L1167.5 707.6 M1029.9 699.8 L1033.3 708.2 L1034.0 713.8 L1031.7 720.0 M1294.1 491.2 L1310.7 491.2 M1294.1 455.6 L1296.1 453.4 L1298.8 452.3 L1301.7 452.8 L1302.8 453.4 M1297.2 505.2 L1306.2 503.0 M1302.8 453.4 L1308.9 450.6 L1315.1 445.0 L1317.4 442.2 L1310.7 436.0 L1307.3 428.8 L1309.6 424.0 L1308.9 420.4 L1314.0 414.2 L1318.5 409.7 M1318.5 409.7 L1336.4 419.8 L1333.7 428.2 M1318.5 409.7 L1310.7 403.0 L1310.7 397.4 L1304.0 391.8 M1205.3 391.8 L1205.3 384.2 M1341.8 419.8 L1340.2 417.0 L1345.8 413.9 L1345.3 390.4 L1350.7 370.8 L1350.9 348.4 L1347.1 345.6 L1348.7 330.2 L1348.7 307.5 M1350.7 370.8 L1368.6 371.4 M1394.6 372.2 L1396.8 370.8 L1401.3 367.4 L1405.3 367.4 M1383.4 391.2 L1392.8 391.2 L1392.8 394.6 L1393.9 398.0 L1396.8 401.6 M1383.4 391.2 L1383.4 408.0 L1382.0 411.1 M1368.6 371.4 L1368.8 359.6 L1371.5 347.0 L1376.7 335.8 L1377.8 327.4 L1387.8 321.8 L1390.1 307.5 M1408.0 361.6 L1401.7 352.6"/>
<path d="M976.2 721.5 L975.5 723.8 L973.6 725.5 L971.0 726.1 L968.4 725.5 L966.5 723.8 L965.8 721.5 L966.5 719.2 L968.4 717.5 L971.0 716.9 L973.6 717.5 L975.5 719.2 L976.2 721.5 M985.0 716.5 L990.0 718.0 L996.0 716.0 M1018.0 704.0 L1020.0 712.0 L1019.0 717.0 M1023.0 706.0 L1024.5 714.0 M1262.0 488.0 L1272.0 494.0 L1283.0 503.0 M1266.0 500.0 L1275.0 508.0 L1284.0 514.0 M1268.0 514.0 L1278.0 520.0 L1286.0 527.0 M1272.0 478.0 L1280.0 486.0 L1289.0 492.0 M1275.0 556.0 L1285.0 560.0 L1294.0 558.0 M1268.0 578.0 L1280.0 578.0 L1290.0 572.0 M1278.0 566.0 L1288.0 570.0"/>
<g fill="#000" stroke="none"><path d="M249.0 498.0 L254.0 496.0 L259.0 503.0 L258.0 510.0 L262.0 518.0 L259.0 521.0 L254.0 516.0 L251.0 508.0Z"/><path d="M242.8 196.0 L245.4 201.8 L250.6 201.8 L253.1 208.2 L251.9 214.6 L257.0 222.4 L254.4 228.8 L253.1 236.5 L254.4 241.7 L250.6 245.6 L245.4 248.1 L241.5 252.0 L237.7 250.7 L235.1 244.3 L235.1 239.1 L239.0 234.0 L241.5 227.5 L244.1 222.4 L243.0 215.0 L246.0 208.0 L243.0 203.0Z"/><circle cx="1421.0" cy="408.0" r="3.2"/><circle cx="1414.0" cy="411.0" r="2.6"/><circle cx="1423.0" cy="395.0" r="2.4"/><circle cx="1405.0" cy="409.0" r="2.4"/><circle cx="239.5" cy="207.0" r="5.6"/><circle cx="868.0" cy="737.0" r="3.8"/><circle cx="831.0" cy="765.0" r="3.0"/><circle cx="807.0" cy="795.0" r="3.6"/><circle cx="812.0" cy="784.0" r="2.6"/><circle cx="1141.0" cy="788.0" r="5.0"/><circle cx="1151.0" cy="815.0" r="3.4"/><circle cx="1176.0" cy="861.0" r="4.0"/></g>
</g>
<g fill="none" stroke="#000" stroke-width="3.9" stroke-linejoin="round" stroke-linecap="round"><path d="M243.4 195.8 L861.0 195.8 M1318.1 307.8 L1348.7 307.5 L1390.1 307.5 M1423.6 260.2 L1440.9 238.9 M1473.1 249.8 L1473.1 281.2 M606.5 678.0 L568.9 678.0 M568.9 690.6 L504.9 690.6 L421.2 658.1 M423.3 651.6 L369.6 657.0 M328.0 279.8 L374.0 279.8 M371.4 195.8 L371.4 268.0 M371.6 340.8 L371.6 391.8 M211.0 391.8 L505.4 391.8 M305.1 391.8 L305.1 475.8 L425.3 587.8 M438.5 391.8 L438.5 531.8 M393.5 195.8 L393.5 223.8 M505.4 307.8 L505.4 419.8 M505.4 307.8 L661.9 307.8 M661.9 195.8 L661.9 419.8 M505.4 419.8 L706.7 419.8 M550.1 419.8 L550.1 690.6 M438.5 531.8 L872.9 531.8 M706.7 419.8 L706.7 531.8 M706.7 447.8 L857.7 447.8 M685.4 531.8 L684.3 671.8 M684.3 671.8 L604.4 671.8 M606.5 678.0 L568.9 678.0 M685.4 545.8 L752.5 545.8 L752.5 600.1 M885.9 628.4 L885.9 671.8 M872.9 545.8 L877.1 576.6 L876.0 625.9 M885.9 643.2 L950.1 643.8 M872.9 545.8 L972.9 545.8 M873.1 531.8 L873.1 472.4 M786.1 363.8 L661.9 363.8 M832.0 349.8 L832.0 299.4 M661.9 281.5 L829.5 281.5 M832.0 349.8 L948.9 349.8 M847.2 431.6 L937.5 431.0 M940.0 699.8 L982.3 699.8 M961.7 377.8 L1025.5 377.8 M1031.5 399.6 L1031.5 466.0 M1092.1 473.0 L1092.1 400.2 M1047.4 398.5 L1092.1 398.5 M1092.1 400.2 L1122.8 399.4 M1188.3 392.4 L1188.3 455.6 M1188.3 455.6 L1294.1 455.6 M987.4 545.8 L1019.4 545.8 M1019.4 540.8 L1054.5 541.6 L1088.1 542.4 L1117.6 543.0 M1117.6 543.0 L1162.4 543.3 L1199.9 544.4 L1292.3 544.4 M969.5 587.8 L1130.4 587.8 M1146.3 582.2 L1176.5 583.6 M1182.0 592.8 L1207.3 593.4 L1232.4 620.0 M1074.7 587.8 L1084.1 647.4 M1091.2 708.2 L1150.5 711.8 M1088.1 699.8 L1029.9 699.8 M1016.5 587.8 L1010.5 674.6 L1012.0 717.4 M1294.1 455.6 L1294.1 491.2 M1304.0 391.8 L1205.3 391.8 M1368.6 371.4 L1394.6 372.2 M1345.3 390.4 L1383.4 391.2 M1401.7 352.6 L1401.3 327.4 L1399.5 299.4"/></g>
<text class="lt" x="1535" y="317">Avg. date of</text>
<text class="lt" x="1535" y="345">2nd gen. egg</text>
<text class="lt" x="1535" y="373">laying</text>
<rect x="1535" y="386.10" width="26" height="25.77" fill="#ccff00"/>
<text class="lab" x="1571.0" y="406.95">Apr-17</text>
<rect x="1535" y="411.57" width="26" height="25.77" fill="#a2ee00"/>
<text class="lab" x="1571.0" y="432.42">Apr-24</text>
<rect x="1535" y="437.04" width="26" height="25.77" fill="#ffff00"/>
<text class="lab" x="1571.0" y="457.89">May-01</text>
<rect x="1535" y="462.51" width="26" height="25.77" fill="#dddd00"/>
<text class="lab" x="1571.0" y="483.36">May-08</text>
<rect x="1535" y="487.98" width="26" height="25.77" fill="#bcb000"/>
<text class="lab" x="1571.0" y="508.83">May-15</text>
<rect x="1535" y="513.45" width="26" height="25.77" fill="#9a8608"/>
<text class="lab" x="1571.0" y="534.30">May-22</text>
<rect x="1535" y="538.92" width="26" height="25.77" fill="#7a5c0a"/>
<text class="lab" x="1571.0" y="559.77">May-29</text>
<rect x="1535" y="564.39" width="26" height="25.77" fill="#ffd591"/>
<text class="lab" x="1571.0" y="585.24">Jun-05</text>
<rect x="1535" y="589.86" width="26" height="25.77" fill="#ffbf73"/>
<text class="lab" x="1571.0" y="610.71">Jun-12</text>
<rect x="1535" y="615.33" width="26" height="25.77" fill="#ffaa55"/>
<text class="lab" x="1571.0" y="636.18">Jun-19</text>
<rect x="1535" y="640.80" width="26" height="25.77" fill="#ff9533"/>
<text class="lab" x="1571.0" y="661.65">Jun-26</text>
<rect x="1535" y="666.27" width="26" height="25.77" fill="#f5cccc"/>
<text class="lab" x="1571.0" y="687.12">Jul-03</text>
<rect x="1535" y="691.74" width="26" height="25.77" fill="#f59999"/>
<text class="lab" x="1571.0" y="712.59">Jul-10</text>
<rect x="1535" y="717.21" width="26" height="25.77" fill="#f56565"/>
<text class="lab" x="1571.0" y="738.06">Jul-17</text>
<rect x="1535" y="742.68" width="26" height="25.77" fill="#fb3434"/>
<text class="lab" x="1571.0" y="763.53">Jul-24</text>
<rect x="1662.2" y="386.10" width="24.8" height="25.77" fill="#ff0000"/>
<text class="lab" x="1698.2" y="406.95">Jul-31</text>
<rect x="1662.2" y="411.57" width="24.8" height="25.77" fill="#e6b8af"/>
<text class="lab" x="1698.2" y="432.42">Aug-07</text>
<rect x="1662.2" y="437.04" width="24.8" height="25.77" fill="#cb9186"/>
<text class="lab" x="1698.2" y="457.89">Aug-14</text>
<rect x="1662.2" y="462.51" width="24.8" height="25.77" fill="#b46a5b"/>
<text class="lab" x="1698.2" y="483.36">Aug-21</text>
<rect x="1662.2" y="487.98" width="24.8" height="25.77" fill="#9c4430"/>
<text class="lab" x="1698.2" y="508.83">Aug-28</text>
<rect x="1662.2" y="513.45" width="24.8" height="25.77" fill="#ffb0dc"/>
<text class="lab" x="1698.2" y="534.30">Sep-04</text>
<rect x="1662.2" y="538.92" width="24.8" height="25.77" fill="#ff82e0"/>
<text class="lab" x="1698.2" y="559.77">Sep-11</text>
<rect x="1662.2" y="564.39" width="24.8" height="25.77" fill="#ff55e8"/>
<text class="lab" x="1698.2" y="585.24">Sep-18</text>
<rect x="1662.2" y="589.86" width="24.8" height="25.77" fill="#ff28f0"/>
<text class="lab" x="1698.2" y="610.71">Sep-25</text>
<rect x="1662.2" y="615.33" width="24.8" height="25.77" fill="#e2c2e8"/>
<text class="lab" x="1698.2" y="636.18">Oct-02</text>
<rect x="1662.2" y="640.80" width="24.8" height="25.77" fill="#cc98d8"/>
<text class="lab" x="1698.2" y="661.65">Oct-09</text>
<rect x="1662.2" y="666.27" width="24.8" height="25.77" fill="#b86fc8"/>
<text class="lab" x="1698.2" y="687.12">Oct-16</text>
<rect x="1662.2" y="691.74" width="24.8" height="25.77" fill="#a248b8"/>
<text class="lab" x="1698.2" y="712.59">Oct-23</text>
<rect x="1662.2" y="717.21" width="24.8" height="25.77" fill="#8a20aa"/>
<text class="lab" x="1698.2" y="738.06">Oct-30</text>
<rect x="1662.2" y="742.68" width="24.8" height="25.77" fill="#b5eaff"/>
<text class="lab" x="1698.2" y="763.53">Nov-06</text>
<rect x="1787" y="386.10" width="24.8" height="25.77" fill="#8ad8f0"/>
<text class="lab" x="1823.0" y="406.95">Nov-13</text>
<rect x="1787" y="411.57" width="24.8" height="25.77" fill="#5cc0e8"/>
<text class="lab" x="1823.0" y="432.42">Nov-20</text>
<rect x="1787" y="437.04" width="24.8" height="25.77" fill="#2ea8dc"/>
<text class="lab" x="1823.0" y="457.89">Nov-28</text>
<rect x="1787" y="462.51" width="24.8" height="25.77" fill="#a2c4e8"/>
<text class="lab" x="1823.0" y="483.36">Dec-04</text>
<rect x="1787" y="487.98" width="24.8" height="25.77" fill="#7892ea"/>
<text class="lab" x="1823.0" y="508.83">Dec-11</text>
<rect x="1787" y="513.45" width="24.8" height="25.77" fill="#5062f0"/>
<text class="lab" x="1823.0" y="534.30">Dec-19</text>
<rect x="1787" y="538.92" width="24.8" height="25.77" fill="#2a32f8"/>
<text class="lab" x="1823.0" y="559.77">Dec-29</text>
</svg>
</body></html>
